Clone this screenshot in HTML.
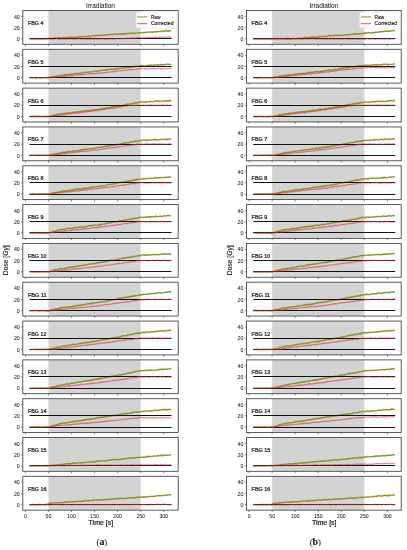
<!DOCTYPE html>
<html><head><meta charset="utf-8"><style>
html,body{margin:0;padding:0;background:#fff;}
body{width:407px;height:550px;overflow:hidden;}
svg{display:block;}
text{font-family:"Liberation Sans",sans-serif;fill:#1a1a1a;stroke:#1a1a1a;stroke-width:0.14px;}
svg{will-change:transform;}
</style></head><body>
<svg width="407" height="550" viewBox="0 0 407 550">
<rect width="407" height="550" fill="#fff"/>
<rect x="48.45" y="10.5" width="92.2" height="33.8" fill="#d3d3d3"/>
<path d="M29.55 38.86L30.29 38.72L31.02 38.95L31.76 38.73L32.5 38.86L33.24 38.85L33.97 38.6L34.71 38.79L35.45 38.8L36.19 38.71L36.93 38.65L37.66 38.77L38.4 38.7L39.14 38.86L39.88 38.79L40.61 38.79L41.35 38.88L42.09 38.89L42.83 38.89L43.56 38.73L44.3 38.69L45.04 38.66L45.78 38.57L46.51 38.84L47.25 38.51L47.99 38.39L48.73 38.23L49.46 38.54L50.2 38.4L50.94 38.72L51.68 38.33L52.41 38.67L53.15 38.45L53.89 37.85L54.63 38.57L55.37 37.86L56.1 37.94L56.84 38.05L57.58 37.85L58.32 37.8L59.05 37.65L59.79 37.91L60.53 37.96L61.27 37.94L62 37.99L62.74 37.75L63.48 37.89L64.22 37.44L64.95 38.07L65.69 37.87L66.43 37.8L67.17 38.03L67.9 37.1L68.64 38.04L69.38 37.53L70.12 37.56L70.85 37.04L71.59 37.83L72.33 37.11L73.07 37.48L73.8 37.32L74.54 37.41L75.28 37.08L76.02 37.46L76.76 37.19L77.49 37.06L78.23 36.69L78.97 37.62L79.71 36.69L80.44 36.76L81.18 37.02L81.92 36.78L82.66 36.9L83.39 36.36L84.13 36.63L84.87 36.66L85.61 36.6L86.34 36.54L87.08 36.47L87.82 36.57L88.56 35.85L89.29 36.68L90.03 37.01L90.77 36.16L91.51 36.11L92.24 35.93L92.98 36L93.72 35.93L94.46 35.76L95.2 35.55L95.93 35.81L96.67 35.74L97.41 35.15L98.15 35.41L98.88 35.69L99.62 34.89L100.36 35.18L101.1 35.42L101.83 35.5L102.57 35.1L103.31 35.3L104.05 35.29L104.78 35.28L105.52 35.04L106.26 34.62L107 34.91L107.73 35.08L108.47 34.54L109.21 34.62L109.95 34.38L110.68 34.26L111.42 34.53L112.16 34.48L112.9 34.41L113.64 34.61L114.37 34.16L115.11 33.96L115.85 34.19L116.59 34.23L117.32 34.2L118.06 34.27L118.8 34.23L119.54 34.1L120.27 34.15L121.01 34.02L121.75 34.23L122.49 33.75L123.22 33.78L123.96 34L124.7 34.22L125.44 33.66L126.17 33.36L126.91 33.73L127.65 33.63L128.39 33.61L129.12 33.29L129.86 33.6L130.6 33.13L131.34 33.38L132.08 33.06L132.81 33.21L133.55 33.23L134.29 33.47L135.03 33.24L135.76 33.1L136.5 32.85L137.24 32.9L137.98 33.07L138.71 32.78L139.45 32.6L140.19 32.82L140.93 32.83L141.66 32.77L142.4 32.45L143.14 32.47L143.88 32.75L144.61 32.4L145.35 32.55L146.09 32.56L146.83 32.06L147.56 32.11L148.3 32.41L149.04 32.18L149.78 32.03L150.52 32.24L151.25 32.07L151.99 31.85L152.73 32.35L153.47 31.83L154.2 31.68L154.94 31.69L155.68 32.06L156.42 31.63L157.15 31.85L157.89 31.48L158.63 31.42L159.37 31.46L160.1 31.63L160.84 31.54L161.58 31.17L162.32 31.51L163.05 31.15L163.79 31.1L164.53 31.23L165.27 30.58L166.01 31.05L166.74 30.53L167.48 31.42L168.22 31.42L168.96 30.65L169.69 30.68L170.43 30.84L171.17 30.73" fill="none" stroke="#878818" stroke-width="1.4" stroke-linejoin="round" stroke-opacity="0.9"/>
<line x1="29.55" y1="38.5" x2="171.54" y2="38.5" stroke="#111" stroke-width="1.15"/>
<path d="M29.55 39.05L30.29 38.93L31.02 38.97L31.76 38.89L32.5 38.78L33.24 38.87L33.97 38.84L34.71 38.94L35.45 38.92L36.19 38.86L36.93 38.9L37.66 38.75L38.4 38.96L39.14 38.69L39.88 38.98L40.61 38.78L41.35 38.96L42.09 38.72L42.83 38.87L43.56 38.85L44.3 38.81L45.04 38.95L45.78 38.99L46.51 39.29L47.25 38.65L47.99 39.03L48.73 39.01L49.46 38.9L50.2 38.5L50.94 39.24L51.68 38.85L52.41 38.98L53.15 38.79L53.89 39.25L54.63 38.98L55.37 38.74L56.1 38.6L56.84 38.59L57.58 39.07L58.32 38.89L59.05 38.93L59.79 39.18L60.53 39.19L61.27 38.76L62 38.86L62.74 38.94L63.48 38.67L64.22 39.11L64.95 38.81L65.69 38.91L66.43 38.93L67.17 38.82L67.9 38.88L68.64 38.87L69.38 38.87L70.12 38.54L70.85 38.98L71.59 38.72L72.33 38.8L73.07 38.99L73.8 38.77L74.54 39.1L75.28 38.7L76.02 39.09L76.76 39.03L77.49 38.87L78.23 38.77L78.97 38.75L79.71 38.76L80.44 38.98L81.18 39.12L81.92 38.83L82.66 38.88L83.39 39.13L84.13 38.75L84.87 38.9L85.61 39.13L86.34 38.86L87.08 39.21L87.82 39.12L88.56 38.87L89.29 39.25L90.03 38.94L90.77 39.22L91.51 38.8L92.24 39.09L92.98 38.92L93.72 39.25L94.46 39.02L95.2 38.77L95.93 38.87L96.67 39.32L97.41 38.78L98.15 38.78L98.88 39.03L99.62 38.68L100.36 39.17L101.1 38.98L101.83 38.74L102.57 38.71L103.31 38.71L104.05 39.18L104.78 39.32L105.52 38.89L106.26 39.25L107 39L107.73 39.22L108.47 38.76L109.21 38.82L109.95 38.87L110.68 38.97L111.42 38.97L112.16 39.04L112.9 38.9L113.64 38.9L114.37 38.83L115.11 38.97L115.85 38.48L116.59 38.76L117.32 38.51L118.06 38.49L118.8 38.89L119.54 39.02L120.27 38.41L121.01 38.7L121.75 38.57L122.49 38.6L123.22 38.5L123.96 38.72L124.7 38.48L125.44 38.51L126.17 38.39L126.91 38.82L127.65 38.16L128.39 38.22L129.12 38.6L129.86 38.37L130.6 38.18L131.34 38.03L132.08 38.12L132.81 37.82L133.55 38.05L134.29 38.22L135.03 38.13L135.76 37.81L136.5 38.05L137.24 37.73L137.98 37.66L138.71 37.71L139.45 37.59L140.19 37.79L140.93 37.73L141.66 37.83L142.4 37.82L143.14 37.99L143.88 37.77L144.61 37.85L145.35 37.9L146.09 37.57L146.83 37.49L147.56 37.63L148.3 37.27L149.04 37.34L149.78 37.3L150.52 37.61L151.25 37.76L151.99 37.34L152.73 37.37L153.47 37.27L154.2 37.31L154.94 37.13L155.68 37.41L156.42 37.21L157.15 37.5L157.89 37.76L158.63 37.37L159.37 36.97L160.1 37.57L160.84 37.02L161.58 37.34L162.32 37.27L163.05 37.16L163.79 37.11L164.53 37.32L165.27 37.09L166.01 37.01L166.74 36.91L167.48 37.2L168.22 36.73L168.96 36.64L169.69 36.52L170.43 37.24L171.17 36.93" fill="none" stroke="#e0303c" stroke-width="1.2" stroke-linejoin="round" stroke-opacity="0.6"/>
<rect x="22.8" y="10.5" width="155.4" height="33.8" fill="none" stroke="#4a4a4a" stroke-width="0.9"/>
<line x1="21.2" y1="38.87" x2="22.8" y2="38.87" stroke="#4a4a4a" stroke-width="0.7"/>
<text x="19.7" y="41.07" font-size="5.2" text-anchor="end" style="stroke-width:0.05px">0</text>
<line x1="21.2" y1="27.6" x2="22.8" y2="27.6" stroke="#4a4a4a" stroke-width="0.7"/>
<text x="19.7" y="29.8" font-size="5.2" text-anchor="end" style="stroke-width:0.05px">20</text>
<line x1="21.2" y1="16.33" x2="22.8" y2="16.33" stroke="#4a4a4a" stroke-width="0.7"/>
<text x="19.7" y="18.53" font-size="5.2" text-anchor="end" style="stroke-width:0.05px">40</text>
<line x1="25.4" y1="44.3" x2="25.4" y2="46.1" stroke="#4a4a4a" stroke-width="0.7"/>
<line x1="48.45" y1="44.3" x2="48.45" y2="46.1" stroke="#4a4a4a" stroke-width="0.7"/>
<line x1="71.5" y1="44.3" x2="71.5" y2="46.1" stroke="#4a4a4a" stroke-width="0.7"/>
<line x1="94.55" y1="44.3" x2="94.55" y2="46.1" stroke="#4a4a4a" stroke-width="0.7"/>
<line x1="117.6" y1="44.3" x2="117.6" y2="46.1" stroke="#4a4a4a" stroke-width="0.7"/>
<line x1="140.65" y1="44.3" x2="140.65" y2="46.1" stroke="#4a4a4a" stroke-width="0.7"/>
<line x1="163.7" y1="44.3" x2="163.7" y2="46.1" stroke="#4a4a4a" stroke-width="0.7"/>
<text x="27.9" y="25" font-size="5.7" textLength="15.6" lengthAdjust="spacingAndGlyphs" style="stroke-width:0.24px">FBG 4</text>
<rect x="48.45" y="49.32" width="92.2" height="33.8" fill="#d3d3d3"/>
<path d="M29.55 77.9L30.29 77.64L31.02 77.62L31.76 77.82L32.5 77.87L33.24 77.67L33.97 77.62L34.71 77.78L35.45 77.72L36.19 77.97L36.93 77.77L37.66 77.67L38.4 77.67L39.14 77.51L39.88 77.82L40.61 77.94L41.35 77.64L42.09 77.75L42.83 77.65L43.56 77.61L44.3 77.62L45.04 77.52L45.78 77.53L46.51 78.06L47.25 77.7L47.99 77.24L48.73 77.73L49.46 77.29L50.2 77.39L50.94 77.34L51.68 76.76L52.41 76.75L53.15 76.91L53.89 76.53L54.63 76.9L55.37 76.63L56.1 76.14L56.84 76.2L57.58 76.32L58.32 75.85L59.05 75.75L59.79 75.4L60.53 75.37L61.27 75.56L62 75.51L62.74 75.34L63.48 75.27L64.22 74.8L64.95 74.68L65.69 74.64L66.43 74.77L67.17 74.81L67.9 74.46L68.64 74.65L69.38 74.43L70.12 74.77L70.85 74.39L71.59 73.88L72.33 74.34L73.07 74.36L73.8 73.97L74.54 73.46L75.28 73.42L76.02 73.73L76.76 73.67L77.49 73.49L78.23 73.59L78.97 73.28L79.71 73.26L80.44 73.43L81.18 73.14L81.92 72.97L82.66 73.02L83.39 72.98L84.13 72.43L84.87 72.12L85.61 72.52L86.34 72.46L87.08 72.16L87.82 72.23L88.56 72.26L89.29 71.68L90.03 72.13L90.77 71.97L91.51 71.86L92.24 71.82L92.98 71.58L93.72 71.31L94.46 71.02L95.2 71.1L95.93 71.15L96.67 71.35L97.41 70.99L98.15 71.1L98.88 70.81L99.62 70.48L100.36 70.57L101.1 70.57L101.83 70.61L102.57 70.36L103.31 70.24L104.05 70.38L104.78 70.2L105.52 69.8L106.26 70.28L107 69.92L107.73 70L108.47 69.3L109.21 69.42L109.95 69.35L110.68 69.29L111.42 69.23L112.16 69.14L112.9 69.47L113.64 68.97L114.37 68.81L115.11 69.17L115.85 68.58L116.59 68.53L117.32 68.93L118.06 68.61L118.8 68.48L119.54 68.44L120.27 68.15L121.01 68.44L121.75 68.11L122.49 67.92L123.22 67.72L123.96 67.78L124.7 67.76L125.44 67.46L126.17 67.98L126.91 67.23L127.65 67.42L128.39 67.55L129.12 67.28L129.86 67.5L130.6 67.46L131.34 66.99L132.08 67L132.81 66.57L133.55 66.85L134.29 66.85L135.03 66.69L135.76 66L136.5 66.29L137.24 66.35L137.98 66.34L138.71 66.28L139.45 65.98L140.19 65.76L140.93 65.56L141.66 65.52L142.4 65.68L143.14 65.85L143.88 65.85L144.61 66.14L145.35 65.81L146.09 65.44L146.83 65.58L147.56 65.38L148.3 65.72L149.04 65.18L149.78 65.27L150.52 65.29L151.25 65.17L151.99 65.72L152.73 65.31L153.47 65.34L154.2 64.69L154.94 65.1L155.68 65.14L156.42 64.79L157.15 65.18L157.89 64.58L158.63 65.02L159.37 64.84L160.1 64.99L160.84 64.56L161.58 65.19L162.32 64.51L163.05 64.81L163.79 64.57L164.53 64.8L165.27 64.45L166.01 64.42L166.74 64.29L167.48 64.31L168.22 64.21L168.96 64.08L169.69 64.35L170.43 64.49L171.17 64.47" fill="none" stroke="#878818" stroke-width="1.4" stroke-linejoin="round" stroke-opacity="0.9"/>
<line x1="29.55" y1="77.5" x2="171.54" y2="77.5" stroke="#111" stroke-width="1.15"/>
<line x1="29.55" y1="66.5" x2="171.54" y2="66.5" stroke="#111" stroke-width="1.15"/>
<path d="M29.55 77.62L30.29 77.72L31.02 77.58L31.76 77.68L32.5 77.79L33.24 77.6L33.97 77.5L34.71 77.7L35.45 77.78L36.19 77.77L36.93 77.6L37.66 77.74L38.4 77.73L39.14 77.62L39.88 77.69L40.61 77.68L41.35 77.74L42.09 77.75L42.83 77.67L43.56 77.67L44.3 77.63L45.04 77.74L45.78 77.65L46.51 77.59L47.25 77.67L47.99 77.57L48.73 77.46L49.46 77.55L50.2 77.51L50.94 77.65L51.68 77.32L52.41 77.34L53.15 77.31L53.89 77.34L54.63 77L55.37 76.54L56.1 76.89L56.84 76.89L57.58 76.75L58.32 76.89L59.05 76.68L59.79 76.76L60.53 76.69L61.27 76.46L62 76.39L62.74 76.39L63.48 76.46L64.22 76.19L64.95 76.39L65.69 75.95L66.43 76.11L67.17 75.98L67.9 75.75L68.64 75.73L69.38 76.03L70.12 75.76L70.85 75.57L71.59 75.8L72.33 75.99L73.07 75.46L73.8 75.39L74.54 75.23L75.28 75.24L76.02 75.16L76.76 75.07L77.49 74.78L78.23 74.89L78.97 74.82L79.71 74.94L80.44 74.57L81.18 74.76L81.92 74.51L82.66 75.01L83.39 74.48L84.13 74.48L84.87 74.49L85.61 74.08L86.34 74.19L87.08 74.23L87.82 74.24L88.56 73.7L89.29 73.86L90.03 73.81L90.77 74.02L91.51 73.55L92.24 73.63L92.98 73.73L93.72 73.63L94.46 73.86L95.2 73.35L95.93 73.63L96.67 73.18L97.41 73.37L98.15 73.34L98.88 73.08L99.62 73.03L100.36 73.22L101.1 72.93L101.83 72.72L102.57 72.81L103.31 72.94L104.05 72.65L104.78 72.71L105.52 72.56L106.26 72.35L107 72.29L107.73 72.25L108.47 72.45L109.21 71.98L109.95 72.01L110.68 71.97L111.42 71.78L112.16 71.35L112.9 71.91L113.64 71.89L114.37 71.34L115.11 71.57L115.85 71.08L116.59 71.45L117.32 71.27L118.06 70.94L118.8 70.84L119.54 70.85L120.27 70.77L121.01 70.81L121.75 70.79L122.49 70.67L123.22 70.3L123.96 70.33L124.7 70.38L125.44 70.25L126.17 70.07L126.91 69.92L127.65 70.1L128.39 70.01L129.12 69.85L129.86 69.32L130.6 69.71L131.34 69.43L132.08 69.9L132.81 69.35L133.55 69.72L134.29 69.57L135.03 69.41L135.76 69.23L136.5 69.09L137.24 68.97L137.98 68.92L138.71 68.97L139.45 68.3L140.19 68.65L140.93 68.59L141.66 68.33L142.4 68.53L143.14 68.6L143.88 68.65L144.61 68.34L145.35 68.91L146.09 68.89L146.83 68.67L147.56 69.09L148.3 68.84L149.04 68.46L149.78 68.77L150.52 68.64L151.25 68.53L151.99 68.89L152.73 68.61L153.47 68.78L154.2 68.87L154.94 68.7L155.68 68.66L156.42 68.72L157.15 68.77L157.89 68.45L158.63 68.4L159.37 68.52L160.1 68.64L160.84 68.82L161.58 68.77L162.32 68.83L163.05 68.57L163.79 68.42L164.53 68.42L165.27 68.6L166.01 68.67L166.74 68.55L167.48 68.56L168.22 68.46L168.96 68.29L169.69 68.7L170.43 68.16L171.17 68.97" fill="none" stroke="#e0303c" stroke-width="1.2" stroke-linejoin="round" stroke-opacity="0.6"/>
<rect x="22.8" y="49.32" width="155.4" height="33.8" fill="none" stroke="#4a4a4a" stroke-width="0.9"/>
<line x1="21.2" y1="77.69" x2="22.8" y2="77.69" stroke="#4a4a4a" stroke-width="0.7"/>
<text x="19.7" y="79.89" font-size="5.2" text-anchor="end" style="stroke-width:0.05px">0</text>
<line x1="21.2" y1="66.42" x2="22.8" y2="66.42" stroke="#4a4a4a" stroke-width="0.7"/>
<text x="19.7" y="68.62" font-size="5.2" text-anchor="end" style="stroke-width:0.05px">20</text>
<line x1="21.2" y1="55.15" x2="22.8" y2="55.15" stroke="#4a4a4a" stroke-width="0.7"/>
<text x="19.7" y="57.35" font-size="5.2" text-anchor="end" style="stroke-width:0.05px">40</text>
<line x1="25.4" y1="83.12" x2="25.4" y2="84.92" stroke="#4a4a4a" stroke-width="0.7"/>
<line x1="48.45" y1="83.12" x2="48.45" y2="84.92" stroke="#4a4a4a" stroke-width="0.7"/>
<line x1="71.5" y1="83.12" x2="71.5" y2="84.92" stroke="#4a4a4a" stroke-width="0.7"/>
<line x1="94.55" y1="83.12" x2="94.55" y2="84.92" stroke="#4a4a4a" stroke-width="0.7"/>
<line x1="117.6" y1="83.12" x2="117.6" y2="84.92" stroke="#4a4a4a" stroke-width="0.7"/>
<line x1="140.65" y1="83.12" x2="140.65" y2="84.92" stroke="#4a4a4a" stroke-width="0.7"/>
<line x1="163.7" y1="83.12" x2="163.7" y2="84.92" stroke="#4a4a4a" stroke-width="0.7"/>
<text x="27.9" y="63.82" font-size="5.7" textLength="15.6" lengthAdjust="spacingAndGlyphs" style="stroke-width:0.24px">FBG 5</text>
<rect x="48.45" y="88.14" width="92.2" height="33.8" fill="#d3d3d3"/>
<path d="M29.55 116.71L30.29 116.68L31.02 116.62L31.76 116.53L32.5 116.28L33.24 116.58L33.97 116.38L34.71 116.55L35.45 116.49L36.19 116.62L36.93 116.25L37.66 116.51L38.4 116.58L39.14 116.25L39.88 116.49L40.61 116.46L41.35 116.52L42.09 116.6L42.83 116.67L43.56 116.53L44.3 116.33L45.04 116.46L45.78 116.53L46.51 116.27L47.25 116.71L47.99 116.2L48.73 116.45L49.46 116.47L50.2 115.98L50.94 115.86L51.68 115.89L52.41 115.61L53.15 115.28L53.89 115.02L54.63 115.37L55.37 115.61L56.1 114.4L56.84 114.76L57.58 114.64L58.32 114.29L59.05 114.32L59.79 113.84L60.53 114.24L61.27 113.92L62 114.06L62.74 113.35L63.48 113.66L64.22 113.27L64.95 113.12L65.69 113.6L66.43 113.3L67.17 113L67.9 113.06L68.64 113.01L69.38 112.7L70.12 112.6L70.85 112.85L71.59 112.66L72.33 112.39L73.07 112.4L73.8 112.33L74.54 112.52L75.28 111.79L76.02 112.14L76.76 111.94L77.49 111.92L78.23 111.81L78.97 111.7L79.71 111.83L80.44 111.47L81.18 111.2L81.92 111.29L82.66 111.13L83.39 111.09L84.13 111.1L84.87 110.62L85.61 111.09L86.34 110.76L87.08 110.52L87.82 110.6L88.56 110.81L89.29 110.73L90.03 110.05L90.77 110.52L91.51 110.22L92.24 110.01L92.98 110.02L93.72 110.35L94.46 110.29L95.2 109.8L95.93 109.86L96.67 109.66L97.41 109.49L98.15 109.38L98.88 109.63L99.62 109.59L100.36 108.88L101.1 109.1L101.83 109.1L102.57 109.15L103.31 108.46L104.05 108.73L104.78 108.56L105.52 108.06L106.26 108L107 107.81L107.73 108.1L108.47 108.33L109.21 107.78L109.95 107.5L110.68 107.45L111.42 106.98L112.16 106.97L112.9 107.15L113.64 106.67L114.37 106.7L115.11 106.65L115.85 106.16L116.59 106.66L117.32 105.92L118.06 105.78L118.8 106.36L119.54 105.81L120.27 105.68L121.01 105.77L121.75 105.52L122.49 105.44L123.22 105.12L123.96 105.13L124.7 105.36L125.44 104.48L126.17 104.42L126.91 104.68L127.65 104.17L128.39 103.79L129.12 104.46L129.86 104.08L130.6 103.97L131.34 103.6L132.08 103.67L132.81 103.79L133.55 103.06L134.29 103.29L135.03 102.93L135.76 102.45L136.5 103L137.24 102.8L137.98 102.38L138.71 102.48L139.45 102.21L140.19 102.2L140.93 101.53L141.66 101.99L142.4 102.02L143.14 102.03L143.88 101.94L144.61 102.36L145.35 102.02L146.09 101.75L146.83 102.16L147.56 101.84L148.3 101.84L149.04 101.9L149.78 101.19L150.52 101.55L151.25 101.61L151.99 101.82L152.73 101.59L153.47 101.64L154.2 101.56L154.94 101.46L155.68 100.91L156.42 101.14L157.15 101.02L157.89 101.06L158.63 100.7L159.37 101.45L160.1 101.56L160.84 101.19L161.58 101.14L162.32 101.16L163.05 101.27L163.79 100.94L164.53 100.67L165.27 100.98L166.01 101.04L166.74 100.69L167.48 100.99L168.22 100.97L168.96 100.78L169.69 101.33L170.43 100.36L171.17 100.77" fill="none" stroke="#878818" stroke-width="1.4" stroke-linejoin="round" stroke-opacity="0.9"/>
<line x1="29.55" y1="116.5" x2="171.54" y2="116.5" stroke="#111" stroke-width="1.15"/>
<line x1="29.55" y1="105.5" x2="171.54" y2="105.5" stroke="#111" stroke-width="1.15"/>
<path d="M29.55 116.46L30.29 116.48L31.02 116.47L31.76 116.64L32.5 116.33L33.24 116.45L33.97 116.48L34.71 116.2L35.45 116.63L36.19 116.43L36.93 116.52L37.66 116.65L38.4 116.31L39.14 116.66L39.88 116.49L40.61 116.51L41.35 116.49L42.09 116.6L42.83 116.37L43.56 116.48L44.3 116.63L45.04 116.63L45.78 116.48L46.51 116.73L47.25 116.42L47.99 116.44L48.73 116.59L49.46 116.77L50.2 116.57L50.94 116.15L51.68 116.24L52.41 115.69L53.15 116.06L53.89 115.82L54.63 115.68L55.37 115.71L56.1 115.58L56.84 115.36L57.58 115.51L58.32 115.33L59.05 115.38L59.79 114.84L60.53 115.1L61.27 114.88L62 115.53L62.74 114.94L63.48 114.97L64.22 114.65L64.95 114.65L65.69 114.67L66.43 114.42L67.17 114.11L67.9 113.96L68.64 114.18L69.38 113.77L70.12 114.01L70.85 113.66L71.59 113.86L72.33 113.39L73.07 113.04L73.8 113.46L74.54 113.06L75.28 113.49L76.02 113.24L76.76 112.49L77.49 112.93L78.23 112.72L78.97 113.05L79.71 112.63L80.44 112.69L81.18 112.2L81.92 112.44L82.66 111.74L83.39 112.36L84.13 111.99L84.87 112.35L85.61 111.94L86.34 111.52L87.08 111.69L87.82 111.82L88.56 111.37L89.29 111.19L90.03 111.19L90.77 110.99L91.51 111.37L92.24 110.63L92.98 110.75L93.72 111.21L94.46 110.33L95.2 110.7L95.93 110.4L96.67 110.8L97.41 110.44L98.15 110.58L98.88 109.95L99.62 110.06L100.36 110.09L101.1 109.87L101.83 109.46L102.57 109.73L103.31 109.35L104.05 109.58L104.78 109.57L105.52 109.23L106.26 109.07L107 108.87L107.73 108.61L108.47 108.77L109.21 108.65L109.95 108.31L110.68 108.27L111.42 108.25L112.16 108.09L112.9 108.45L113.64 108.02L114.37 108.12L115.11 107.76L115.85 107.4L116.59 107.8L117.32 107.18L118.06 107.36L118.8 107.18L119.54 107.12L120.27 106.77L121.01 106.94L121.75 107.1L122.49 106.52L123.22 106.5L123.96 106.24L124.7 106.13L125.44 106.38L126.17 105.99L126.91 105.89L127.65 105.82L128.39 105.68L129.12 105.52L129.86 105.58L130.6 105.39L131.34 105.06L132.08 105.45L132.81 105.26L133.55 105.44L134.29 105.45L135.03 105.32L135.76 105.21L136.5 104.94L137.24 105.28L137.98 105.06L138.71 105.13L139.45 105.23L140.19 105.85L140.93 105.22L141.66 105.23L142.4 105.44L143.14 105.21L143.88 104.95L144.61 105.47L145.35 105.34L146.09 105.06L146.83 105.6L147.56 105.44L148.3 105.18L149.04 105.05L149.78 105L150.52 105.09L151.25 104.79L151.99 105.16L152.73 105.49L153.47 105.28L154.2 105.12L154.94 105.17L155.68 105.62L156.42 105.16L157.15 105.4L157.89 105.28L158.63 104.95L159.37 105.27L160.1 105.37L160.84 105.26L161.58 105.37L162.32 104.84L163.05 105.08L163.79 105.06L164.53 105.37L165.27 105.37L166.01 105.19L166.74 105.67L167.48 105.04L168.22 105.49L168.96 105.22L169.69 105.17L170.43 105.4L171.17 105.17" fill="none" stroke="#e0303c" stroke-width="1.2" stroke-linejoin="round" stroke-opacity="0.6"/>
<rect x="22.8" y="88.14" width="155.4" height="33.8" fill="none" stroke="#4a4a4a" stroke-width="0.9"/>
<line x1="21.2" y1="116.51" x2="22.8" y2="116.51" stroke="#4a4a4a" stroke-width="0.7"/>
<text x="19.7" y="118.71" font-size="5.2" text-anchor="end" style="stroke-width:0.05px">0</text>
<line x1="21.2" y1="105.24" x2="22.8" y2="105.24" stroke="#4a4a4a" stroke-width="0.7"/>
<text x="19.7" y="107.44" font-size="5.2" text-anchor="end" style="stroke-width:0.05px">20</text>
<line x1="21.2" y1="93.97" x2="22.8" y2="93.97" stroke="#4a4a4a" stroke-width="0.7"/>
<text x="19.7" y="96.17" font-size="5.2" text-anchor="end" style="stroke-width:0.05px">40</text>
<line x1="25.4" y1="121.94" x2="25.4" y2="123.74" stroke="#4a4a4a" stroke-width="0.7"/>
<line x1="48.45" y1="121.94" x2="48.45" y2="123.74" stroke="#4a4a4a" stroke-width="0.7"/>
<line x1="71.5" y1="121.94" x2="71.5" y2="123.74" stroke="#4a4a4a" stroke-width="0.7"/>
<line x1="94.55" y1="121.94" x2="94.55" y2="123.74" stroke="#4a4a4a" stroke-width="0.7"/>
<line x1="117.6" y1="121.94" x2="117.6" y2="123.74" stroke="#4a4a4a" stroke-width="0.7"/>
<line x1="140.65" y1="121.94" x2="140.65" y2="123.74" stroke="#4a4a4a" stroke-width="0.7"/>
<line x1="163.7" y1="121.94" x2="163.7" y2="123.74" stroke="#4a4a4a" stroke-width="0.7"/>
<text x="27.9" y="102.64" font-size="5.7" textLength="15.6" lengthAdjust="spacingAndGlyphs" style="stroke-width:0.24px">FBG 6</text>
<rect x="48.45" y="126.96" width="92.2" height="33.8" fill="#d3d3d3"/>
<path d="M29.55 155.25L30.29 155.11L31.02 155.28L31.76 155.12L32.5 155.27L33.24 155.35L33.97 155.23L34.71 155.39L35.45 155.31L36.19 155.26L36.93 155.2L37.66 155.3L38.4 155.49L39.14 155.18L39.88 155.31L40.61 155.36L41.35 155.42L42.09 155.26L42.83 155.29L43.56 155.25L44.3 155.34L45.04 155.15L45.78 155.36L46.51 155.23L47.25 155.28L47.99 155.09L48.73 155.42L49.46 155.18L50.2 155.01L50.94 154.95L51.68 154.8L52.41 154.76L53.15 154.17L53.89 153.85L54.63 154.25L55.37 153.7L56.1 153.98L56.84 153.75L57.58 153.48L58.32 153.23L59.05 153L59.79 153.38L60.53 153.13L61.27 152.71L62 152.69L62.74 152.05L63.48 152.49L64.22 152.48L64.95 151.96L65.69 152.73L66.43 152.45L67.17 151.32L67.9 151.97L68.64 151.72L69.38 151.68L70.12 151.73L70.85 151.47L71.59 151.63L72.33 151.02L73.07 150.96L73.8 150.88L74.54 151.14L75.28 151.27L76.02 150.85L76.76 150.88L77.49 150.45L78.23 150.8L78.97 150.55L79.71 150.21L80.44 150.04L81.18 150.02L81.92 150.22L82.66 149.99L83.39 149.29L84.13 149.43L84.87 149.73L85.61 149.01L86.34 149.37L87.08 149.24L87.82 149.33L88.56 148.7L89.29 148.92L90.03 148.86L90.77 148.95L91.51 148.93L92.24 148.5L92.98 148.44L93.72 148L94.46 148.45L95.2 148.23L95.93 147.82L96.67 147.76L97.41 148L98.15 147.42L98.88 147.54L99.62 147.33L100.36 147.32L101.1 147.05L101.83 147.24L102.57 147.06L103.31 146.64L104.05 146.67L104.78 146.55L105.52 146.24L106.26 146.32L107 146.15L107.73 146.61L108.47 146.1L109.21 145.67L109.95 145.93L110.68 145.67L111.42 145.42L112.16 145.37L112.9 145.02L113.64 144.98L114.37 145L115.11 144.58L115.85 144.78L116.59 144.73L117.32 144.37L118.06 144.17L118.8 144.22L119.54 144.3L120.27 144.04L121.01 143.75L121.75 143.52L122.49 143.14L123.22 143.45L123.96 143.33L124.7 143.64L125.44 142.74L126.17 142.69L126.91 142.77L127.65 142.8L128.39 143.1L129.12 142.22L129.86 142.43L130.6 141.79L131.34 141.83L132.08 141.58L132.81 141.77L133.55 141.35L134.29 141.8L135.03 141.03L135.76 141.23L136.5 141.36L137.24 141.06L137.98 141.06L138.71 140.65L139.45 140.75L140.19 140.74L140.93 140.5L141.66 140.44L142.4 140.31L143.14 140.16L143.88 140L144.61 140.16L145.35 139.84L146.09 140.74L146.83 140.16L147.56 139.9L148.3 140.37L149.04 140.09L149.78 139.96L150.52 140.32L151.25 140.07L151.99 139.77L152.73 139.94L153.47 139.49L154.2 139.27L154.94 139.78L155.68 139.99L156.42 139.71L157.15 139.79L157.89 139.95L158.63 139.68L159.37 139.66L160.1 139.61L160.84 139.28L161.58 139.22L162.32 139.33L163.05 139.47L163.79 139.26L164.53 139.31L165.27 139.23L166.01 139.47L166.74 139.91L167.48 138.98L168.22 139.28L168.96 139.22L169.69 139.08L170.43 139.06L171.17 139.08" fill="none" stroke="#878818" stroke-width="1.4" stroke-linejoin="round" stroke-opacity="0.9"/>
<line x1="29.55" y1="155.5" x2="171.54" y2="155.5" stroke="#111" stroke-width="1.15"/>
<line x1="29.55" y1="144.5" x2="171.54" y2="144.5" stroke="#111" stroke-width="1.15"/>
<path d="M29.55 155.18L30.29 155.31L31.02 155.3L31.76 155.41L32.5 155.34L33.24 155.28L33.97 155.33L34.71 155.3L35.45 155.42L36.19 155.29L36.93 155.43L37.66 155.37L38.4 155.4L39.14 155.31L39.88 155.22L40.61 155.3L41.35 155.41L42.09 155.31L42.83 155.23L43.56 155.26L44.3 155.28L45.04 155.44L45.78 155.38L46.51 155.46L47.25 155.42L47.99 155.28L48.73 155.29L49.46 155.29L50.2 155.04L50.94 155.21L51.68 155.06L52.41 154.9L53.15 155.11L53.89 154.94L54.63 154.97L55.37 154.82L56.1 154.57L56.84 154.49L57.58 154.32L58.32 154.25L59.05 154.46L59.79 153.8L60.53 153.82L61.27 154.24L62 154.05L62.74 153.92L63.48 153.7L64.22 153.54L64.95 153.57L65.69 153.99L66.43 152.84L67.17 153.15L67.9 153.07L68.64 153.29L69.38 153.04L70.12 152.8L70.85 152.99L71.59 152.58L72.33 152.71L73.07 152.33L73.8 152.54L74.54 152.18L75.28 152.7L76.02 152.02L76.76 152.13L77.49 152.2L78.23 151.83L78.97 152.01L79.71 151.71L80.44 151.6L81.18 151.5L81.92 151.19L82.66 151.27L83.39 150.96L84.13 151.23L84.87 151.25L85.61 151.12L86.34 151.12L87.08 151.27L87.82 150.91L88.56 151.09L89.29 150.83L90.03 150.75L90.77 150.71L91.51 150.73L92.24 150.41L92.98 150.35L93.72 149.99L94.46 150.05L95.2 149.91L95.93 150.1L96.67 149.98L97.41 150.08L98.15 149.92L98.88 149.53L99.62 149.61L100.36 149.49L101.1 149.47L101.83 148.95L102.57 149.16L103.31 148.82L104.05 148.95L104.78 148.65L105.52 148.92L106.26 148.89L107 148.31L107.73 148.48L108.47 148.26L109.21 148.04L109.95 147.97L110.68 147.94L111.42 148.13L112.16 147.92L112.9 147.68L113.64 147.45L114.37 147.37L115.11 147.3L115.85 147.41L116.59 147.16L117.32 146.86L118.06 147.12L118.8 146.95L119.54 146.56L120.27 146.32L121.01 146.45L121.75 146.42L122.49 146.5L123.22 146.24L123.96 146.26L124.7 145.98L125.44 145.76L126.17 145.7L126.91 145.43L127.65 145.78L128.39 145.72L129.12 145.11L129.86 145.06L130.6 145.35L131.34 145.03L132.08 145.16L132.81 144.85L133.55 144.68L134.29 144.45L135.03 144.72L135.76 144.68L136.5 144.21L137.24 144.28L137.98 143.84L138.71 144.28L139.45 144.19L140.19 144.59L140.93 143.84L141.66 143.8L142.4 143.98L143.14 144.12L143.88 144.46L144.61 144.33L145.35 144.16L146.09 143.69L146.83 143.88L147.56 144.18L148.3 143.98L149.04 143.95L149.78 143.96L150.52 144.24L151.25 144.15L151.99 143.86L152.73 143.92L153.47 144.13L154.2 143.58L154.94 144L155.68 144.14L156.42 143.88L157.15 143.9L157.89 144.08L158.63 143.71L159.37 143.85L160.1 144.05L160.84 143.92L161.58 143.93L162.32 144.11L163.05 143.92L163.79 144.16L164.53 144.11L165.27 143.93L166.01 144.3L166.74 144.13L167.48 144.25L168.22 143.92L168.96 144.17L169.69 143.7L170.43 143.76L171.17 144.19" fill="none" stroke="#e0303c" stroke-width="1.2" stroke-linejoin="round" stroke-opacity="0.6"/>
<rect x="22.8" y="126.96" width="155.4" height="33.8" fill="none" stroke="#4a4a4a" stroke-width="0.9"/>
<line x1="21.2" y1="155.33" x2="22.8" y2="155.33" stroke="#4a4a4a" stroke-width="0.7"/>
<text x="19.7" y="157.53" font-size="5.2" text-anchor="end" style="stroke-width:0.05px">0</text>
<line x1="21.2" y1="144.06" x2="22.8" y2="144.06" stroke="#4a4a4a" stroke-width="0.7"/>
<text x="19.7" y="146.26" font-size="5.2" text-anchor="end" style="stroke-width:0.05px">20</text>
<line x1="21.2" y1="132.79" x2="22.8" y2="132.79" stroke="#4a4a4a" stroke-width="0.7"/>
<text x="19.7" y="134.99" font-size="5.2" text-anchor="end" style="stroke-width:0.05px">40</text>
<line x1="25.4" y1="160.76" x2="25.4" y2="162.56" stroke="#4a4a4a" stroke-width="0.7"/>
<line x1="48.45" y1="160.76" x2="48.45" y2="162.56" stroke="#4a4a4a" stroke-width="0.7"/>
<line x1="71.5" y1="160.76" x2="71.5" y2="162.56" stroke="#4a4a4a" stroke-width="0.7"/>
<line x1="94.55" y1="160.76" x2="94.55" y2="162.56" stroke="#4a4a4a" stroke-width="0.7"/>
<line x1="117.6" y1="160.76" x2="117.6" y2="162.56" stroke="#4a4a4a" stroke-width="0.7"/>
<line x1="140.65" y1="160.76" x2="140.65" y2="162.56" stroke="#4a4a4a" stroke-width="0.7"/>
<line x1="163.7" y1="160.76" x2="163.7" y2="162.56" stroke="#4a4a4a" stroke-width="0.7"/>
<text x="27.9" y="141.46" font-size="5.7" textLength="15.6" lengthAdjust="spacingAndGlyphs" style="stroke-width:0.24px">FBG 7</text>
<rect x="48.45" y="165.78" width="92.2" height="33.8" fill="#d3d3d3"/>
<path d="M29.55 194.13L30.29 194.19L31.02 194.15L31.76 194.07L32.5 193.98L33.24 193.9L33.97 193.94L34.71 194.29L35.45 194.2L36.19 194.17L36.93 194.18L37.66 194.13L38.4 194.07L39.14 194.2L39.88 194.21L40.61 193.88L41.35 194.07L42.09 193.9L42.83 194.21L43.56 193.99L44.3 193.96L45.04 194L45.78 194.23L46.51 194.02L47.25 194.32L47.99 194.4L48.73 194.09L49.46 193.81L50.2 193.81L50.94 193.63L51.68 193.31L52.41 193.44L53.15 193.04L53.89 192.8L54.63 192.67L55.37 192.53L56.1 192.72L56.84 192.4L57.58 192.28L58.32 191.86L59.05 192.26L59.79 191.67L60.53 191.95L61.27 191.35L62 191.51L62.74 191.28L63.48 190.98L64.22 190.71L64.95 191.21L65.69 190.87L66.43 191.23L67.17 190.74L67.9 190.75L68.64 190.35L69.38 190.42L70.12 190.27L70.85 190.44L71.59 190.17L72.33 190.25L73.07 189.89L73.8 190.15L74.54 189.64L75.28 189.35L76.02 188.91L76.76 189.06L77.49 189L78.23 189.02L78.97 188.74L79.71 189.01L80.44 188.81L81.18 189.22L81.92 188.81L82.66 188.34L83.39 188.88L84.13 188.33L84.87 188.31L85.61 188.28L86.34 188.03L87.08 188L87.82 188.15L88.56 187.82L89.29 188.11L90.03 187.27L90.77 187.51L91.51 187.21L92.24 187.51L92.98 186.79L93.72 186.88L94.46 186.93L95.2 186.86L95.93 186.72L96.67 186.87L97.41 186.64L98.15 186.56L98.88 186.32L99.62 185.94L100.36 185.89L101.1 185.96L101.83 185.74L102.57 185.81L103.31 185.72L104.05 185.84L104.78 185.63L105.52 185.48L106.26 185.1L107 184.99L107.73 184.72L108.47 184.42L109.21 184.4L109.95 184.45L110.68 184.38L111.42 184.21L112.16 183.88L112.9 184.08L113.64 184.08L114.37 183.66L115.11 183.24L115.85 183.07L116.59 183.08L117.32 183.51L118.06 182.98L118.8 182.65L119.54 182.43L120.27 182.13L121.01 182.62L121.75 182.19L122.49 182.49L123.22 182.06L123.96 181.96L124.7 181.56L125.44 181.57L126.17 181.86L126.91 181.37L127.65 181.12L128.39 180.75L129.12 181.1L129.86 181L130.6 180.8L131.34 180.31L132.08 180.47L132.81 180.25L133.55 180.04L134.29 180.19L135.03 179.63L135.76 180.1L136.5 179.19L137.24 179.62L137.98 179.54L138.71 179.37L139.45 179.33L140.19 179.13L140.93 179.07L141.66 179.1L142.4 178.84L143.14 178.68L143.88 178.83L144.61 178.62L145.35 178.8L146.09 178.51L146.83 178.59L147.56 178.72L148.3 178.4L149.04 178.42L149.78 178.48L150.52 178.3L151.25 178.12L151.99 178.47L152.73 178.26L153.47 177.96L154.2 178.05L154.94 177.83L155.68 177.42L156.42 178.2L157.15 177.79L157.89 177.9L158.63 177.46L159.37 177.6L160.1 177.99L160.84 177.4L161.58 177.59L162.32 177.61L163.05 177.49L163.79 177.4L164.53 177.6L165.27 177.44L166.01 177.01L166.74 177.49L167.48 177.35L168.22 177L168.96 177.34L169.69 177.13L170.43 176.97L171.17 177.19" fill="none" stroke="#878818" stroke-width="1.4" stroke-linejoin="round" stroke-opacity="0.9"/>
<line x1="29.55" y1="194.5" x2="171.54" y2="194.5" stroke="#111" stroke-width="1.15"/>
<line x1="29.55" y1="182.5" x2="171.54" y2="182.5" stroke="#111" stroke-width="1.15"/>
<path d="M29.55 194.18L30.29 194.24L31.02 194.17L31.76 194.12L32.5 194.15L33.24 194.12L33.97 194.11L34.71 194.07L35.45 194.25L36.19 194.14L36.93 193.99L37.66 194.17L38.4 194.17L39.14 194.15L39.88 194.22L40.61 194.09L41.35 194.15L42.09 194.16L42.83 194.07L43.56 194.03L44.3 194.29L45.04 194.2L45.78 194.17L46.51 194.42L47.25 194.01L47.99 193.73L48.73 193.95L49.46 193.77L50.2 194.31L50.94 193.92L51.68 194L52.41 193.49L53.15 193.57L53.89 193.49L54.63 193.27L55.37 193.12L56.1 192.85L56.84 192.81L57.58 192.8L58.32 193.21L59.05 192.55L59.79 192.69L60.53 192.92L61.27 192.51L62 192.51L62.74 192.4L63.48 192.11L64.22 192.48L64.95 192.01L65.69 191.82L66.43 192.2L67.17 191.62L67.9 191.95L68.64 191.88L69.38 191.47L70.12 191.58L70.85 191.86L71.59 191.54L72.33 191.2L73.07 191.36L73.8 191.26L74.54 191.09L75.28 191.01L76.02 191.06L76.76 191.03L77.49 190.68L78.23 190.45L78.97 191.1L79.71 190.44L80.44 190.25L81.18 190.54L81.92 190L82.66 190.5L83.39 189.94L84.13 189.72L84.87 189.66L85.61 190.4L86.34 189.79L87.08 189.92L87.82 189.56L88.56 189.28L89.29 189.4L90.03 189.08L90.77 189.65L91.51 189.4L92.24 189.26L92.98 188.94L93.72 188.76L94.46 189.08L95.2 189.02L95.93 188.58L96.67 188.93L97.41 188.48L98.15 188.67L98.88 188.45L99.62 187.93L100.36 188.28L101.1 188.12L101.83 188.18L102.57 187.81L103.31 187.52L104.05 187.59L104.78 187.87L105.52 187.43L106.26 187.09L107 187.49L107.73 187.22L108.47 187.27L109.21 187.1L109.95 187.08L110.68 187.04L111.42 186.58L112.16 186.58L112.9 186.89L113.64 186.57L114.37 186.4L115.11 186.37L115.85 186.02L116.59 185.99L117.32 185.77L118.06 186L118.8 185.78L119.54 185.62L120.27 185.5L121.01 185.39L121.75 185.37L122.49 185.14L123.22 184.69L123.96 185.05L124.7 185.13L125.44 184.64L126.17 184.77L126.91 184.33L127.65 184.18L128.39 183.95L129.12 184.15L129.86 184.41L130.6 183.66L131.34 183.68L132.08 183.51L132.81 183.64L133.55 183.62L134.29 183.45L135.03 183.71L135.76 183.05L136.5 183.26L137.24 183.16L137.98 182.86L138.71 183.05L139.45 182.72L140.19 183L140.93 182.41L141.66 182.63L142.4 182.74L143.14 182.81L143.88 182.87L144.61 182.98L145.35 183.26L146.09 182.99L146.83 183.03L147.56 182.98L148.3 182.86L149.04 183.25L149.78 183.12L150.52 183.01L151.25 182.97L151.99 182.7L152.73 182.35L153.47 182.91L154.2 182.75L154.94 182.88L155.68 182.83L156.42 182.53L157.15 182.84L157.89 182.77L158.63 182.87L159.37 183L160.1 182.66L160.84 182.91L161.58 182.59L162.32 183.1L163.05 182.79L163.79 182.55L164.53 183L165.27 182.81L166.01 182.59L166.74 182.79L167.48 183.04L168.22 182.94L168.96 182.82L169.69 182.99L170.43 182.96L171.17 182.85" fill="none" stroke="#e0303c" stroke-width="1.2" stroke-linejoin="round" stroke-opacity="0.6"/>
<rect x="22.8" y="165.78" width="155.4" height="33.8" fill="none" stroke="#4a4a4a" stroke-width="0.9"/>
<line x1="21.2" y1="194.15" x2="22.8" y2="194.15" stroke="#4a4a4a" stroke-width="0.7"/>
<text x="19.7" y="196.35" font-size="5.2" text-anchor="end" style="stroke-width:0.05px">0</text>
<line x1="21.2" y1="182.88" x2="22.8" y2="182.88" stroke="#4a4a4a" stroke-width="0.7"/>
<text x="19.7" y="185.08" font-size="5.2" text-anchor="end" style="stroke-width:0.05px">20</text>
<line x1="21.2" y1="171.61" x2="22.8" y2="171.61" stroke="#4a4a4a" stroke-width="0.7"/>
<text x="19.7" y="173.81" font-size="5.2" text-anchor="end" style="stroke-width:0.05px">40</text>
<line x1="25.4" y1="199.58" x2="25.4" y2="201.38" stroke="#4a4a4a" stroke-width="0.7"/>
<line x1="48.45" y1="199.58" x2="48.45" y2="201.38" stroke="#4a4a4a" stroke-width="0.7"/>
<line x1="71.5" y1="199.58" x2="71.5" y2="201.38" stroke="#4a4a4a" stroke-width="0.7"/>
<line x1="94.55" y1="199.58" x2="94.55" y2="201.38" stroke="#4a4a4a" stroke-width="0.7"/>
<line x1="117.6" y1="199.58" x2="117.6" y2="201.38" stroke="#4a4a4a" stroke-width="0.7"/>
<line x1="140.65" y1="199.58" x2="140.65" y2="201.38" stroke="#4a4a4a" stroke-width="0.7"/>
<line x1="163.7" y1="199.58" x2="163.7" y2="201.38" stroke="#4a4a4a" stroke-width="0.7"/>
<text x="27.9" y="180.28" font-size="5.7" textLength="15.6" lengthAdjust="spacingAndGlyphs" style="stroke-width:0.24px">FBG 8</text>
<rect x="48.45" y="204.6" width="92.2" height="33.8" fill="#d3d3d3"/>
<path d="M29.55 233.1L30.29 232.78L31.02 233.03L31.76 232.97L32.5 232.95L33.24 232.81L33.97 233.01L34.71 232.73L35.45 232.76L36.19 232.88L36.93 233.12L37.66 233.11L38.4 232.99L39.14 232.93L39.88 232.89L40.61 232.83L41.35 232.91L42.09 232.96L42.83 232.92L43.56 233.19L44.3 232.83L45.04 233.14L45.78 233.18L46.51 233.12L47.25 233.06L47.99 233.24L48.73 232.94L49.46 232.67L50.2 232.35L50.94 232.21L51.68 232.21L52.41 231.87L53.15 231.41L53.89 231.56L54.63 231.33L55.37 231.58L56.1 230.84L56.84 230.25L57.58 230.34L58.32 230.36L59.05 229.83L59.79 229.63L60.53 229.48L61.27 229.95L62 229.85L62.74 229.33L63.48 229.28L64.22 229.19L64.95 229.53L65.69 228.92L66.43 228.57L67.17 228.63L67.9 228.22L68.64 228.6L69.38 228.58L70.12 228.1L70.85 228.18L71.59 228.82L72.33 228.56L73.07 228.05L73.8 228.13L74.54 227.51L75.28 227.46L76.02 227.43L76.76 227.69L77.49 227.57L78.23 227.24L78.97 227.4L79.71 227.07L80.44 227.06L81.18 226.85L81.92 226.9L82.66 227L83.39 227.39L84.13 226.94L84.87 226.86L85.61 226.28L86.34 226.66L87.08 226.37L87.82 226.03L88.56 225.89L89.29 225.71L90.03 225.74L90.77 225.4L91.51 225.78L92.24 225.29L92.98 225.76L93.72 225.45L94.46 225.16L95.2 225.02L95.93 225.12L96.67 225.11L97.41 225.14L98.15 225.28L98.88 225.11L99.62 224.18L100.36 224.83L101.1 224.65L101.83 224.53L102.57 224.1L103.31 223.97L104.05 223.91L104.78 223.94L105.52 223.55L106.26 223.71L107 223.19L107.73 222.8L108.47 223.22L109.21 222.83L109.95 222.86L110.68 222.71L111.42 222.79L112.16 222.35L112.9 222.24L113.64 221.82L114.37 221.43L115.11 222.09L115.85 221.47L116.59 221.78L117.32 221.59L118.06 221.6L118.8 221.1L119.54 220.8L120.27 220.97L121.01 220.77L121.75 220.88L122.49 220.63L123.22 220.73L123.96 220.32L124.7 220.64L125.44 219.53L126.17 219.64L126.91 219.92L127.65 219.77L128.39 219.63L129.12 219.38L129.86 219.22L130.6 218.72L131.34 219.13L132.08 219.33L132.81 218.7L133.55 218.54L134.29 218.7L135.03 218.19L135.76 218.29L136.5 218.3L137.24 218.01L137.98 218.16L138.71 217.83L139.45 217.22L140.19 217.2L140.93 217.3L141.66 217.36L142.4 217.28L143.14 217.57L143.88 217.22L144.61 217.38L145.35 217.31L146.09 216.77L146.83 217.25L147.56 217.03L148.3 216.98L149.04 216.73L149.78 216.96L150.52 216.75L151.25 216.73L151.99 216.82L152.73 216.87L153.47 216.92L154.2 216.4L154.94 216.8L155.68 216.29L156.42 216.13L157.15 216.6L157.89 216.64L158.63 216.61L159.37 216.46L160.1 215.99L160.84 216.43L161.58 216.45L162.32 216.54L163.05 216.1L163.79 215.97L164.53 215.69L165.27 215.93L166.01 215.95L166.74 215.91L167.48 215.2L168.22 215.45L168.96 215.56L169.69 215.8L170.43 215.72L171.17 215.66" fill="none" stroke="#878818" stroke-width="1.4" stroke-linejoin="round" stroke-opacity="0.9"/>
<line x1="29.55" y1="232.5" x2="171.54" y2="232.5" stroke="#111" stroke-width="1.15"/>
<line x1="29.55" y1="221.5" x2="171.54" y2="221.5" stroke="#111" stroke-width="1.15"/>
<path d="M29.55 232.98L30.29 232.92L31.02 233.03L31.76 232.78L32.5 233.06L33.24 232.9L33.97 232.89L34.71 232.87L35.45 232.83L36.19 232.93L36.93 232.94L37.66 232.82L38.4 232.84L39.14 232.97L39.88 232.88L40.61 233.08L41.35 232.93L42.09 233.17L42.83 232.84L43.56 233.03L44.3 232.87L45.04 232.92L45.78 233.02L46.51 232.79L47.25 232.63L47.99 233.13L48.73 232.55L49.46 232.76L50.2 232.92L50.94 232.71L51.68 232.49L52.41 232.33L53.15 232.54L53.89 232.37L54.63 232.11L55.37 232.06L56.1 231.63L56.84 231.77L57.58 231.67L58.32 231.93L59.05 231.84L59.79 231.78L60.53 231.5L61.27 231.29L62 231L62.74 231.05L63.48 231.33L64.22 231.1L64.95 230.58L65.69 230.9L66.43 230.74L67.17 231.03L67.9 230.96L68.64 230.7L69.38 230.57L70.12 230.34L70.85 230.38L71.59 230.62L72.33 229.72L73.07 230.04L73.8 230.37L74.54 229.62L75.28 229.71L76.02 229.83L76.76 229.71L77.49 229.53L78.23 230.01L78.97 229.28L79.71 229.34L80.44 229.18L81.18 229.34L81.92 229.27L82.66 228.76L83.39 229.65L84.13 228.67L84.87 228.6L85.61 229.06L86.34 228.71L87.08 228.72L87.82 228.62L88.56 228.67L89.29 228.61L90.03 228.25L90.77 228.24L91.51 227.99L92.24 227.87L92.98 228.05L93.72 227.45L94.46 227.46L95.2 228.01L95.93 227.65L96.67 227.61L97.41 227.37L98.15 227.57L98.88 226.98L99.62 227.28L100.36 226.68L101.1 227.15L101.83 226.51L102.57 226.72L103.31 226.51L104.05 226.53L104.78 226.42L105.52 226.59L106.26 226.33L107 226.33L107.73 226.13L108.47 226.06L109.21 225.73L109.95 225.73L110.68 225.74L111.42 225.93L112.16 225.3L112.9 225.52L113.64 225.35L114.37 225.09L115.11 225.09L115.85 224.96L116.59 224.85L117.32 225.14L118.06 224.53L118.8 224.61L119.54 224.32L120.27 224.35L121.01 224.35L121.75 223.88L122.49 224.04L123.22 223.76L123.96 223.74L124.7 223.6L125.44 223.45L126.17 223.43L126.91 223.64L127.65 223.4L128.39 222.99L129.12 223.18L129.86 223.12L130.6 222.94L131.34 222.66L132.08 222.91L132.81 222.66L133.55 222.63L134.29 222.57L135.03 222.19L135.76 222.35L136.5 222.13L137.24 221.96L137.98 221.84L138.71 221.74L139.45 221.59L140.19 221.84L140.93 222.17L141.66 221.52L142.4 221.37L143.14 221.77L143.88 221.69L144.61 221.52L145.35 221.85L146.09 221.7L146.83 221.78L147.56 221.59L148.3 221.68L149.04 221.37L149.78 221.87L150.52 221.83L151.25 221.97L151.99 221.65L152.73 221.72L153.47 221.74L154.2 221.58L154.94 221.88L155.68 221.97L156.42 221.28L157.15 221.69L157.89 221.88L158.63 221.49L159.37 221.67L160.1 221.88L160.84 221.63L161.58 221.49L162.32 221.55L163.05 221.71L163.79 221.37L164.53 221.86L165.27 221.73L166.01 221.6L166.74 221.89L167.48 221.56L168.22 221.62L168.96 221.5L169.69 221.63L170.43 221.31L171.17 221.95" fill="none" stroke="#e0303c" stroke-width="1.2" stroke-linejoin="round" stroke-opacity="0.6"/>
<rect x="22.8" y="204.6" width="155.4" height="33.8" fill="none" stroke="#4a4a4a" stroke-width="0.9"/>
<line x1="21.2" y1="232.97" x2="22.8" y2="232.97" stroke="#4a4a4a" stroke-width="0.7"/>
<text x="19.7" y="235.17" font-size="5.2" text-anchor="end" style="stroke-width:0.05px">0</text>
<line x1="21.2" y1="221.7" x2="22.8" y2="221.7" stroke="#4a4a4a" stroke-width="0.7"/>
<text x="19.7" y="223.9" font-size="5.2" text-anchor="end" style="stroke-width:0.05px">20</text>
<line x1="21.2" y1="210.43" x2="22.8" y2="210.43" stroke="#4a4a4a" stroke-width="0.7"/>
<text x="19.7" y="212.63" font-size="5.2" text-anchor="end" style="stroke-width:0.05px">40</text>
<line x1="25.4" y1="238.4" x2="25.4" y2="240.2" stroke="#4a4a4a" stroke-width="0.7"/>
<line x1="48.45" y1="238.4" x2="48.45" y2="240.2" stroke="#4a4a4a" stroke-width="0.7"/>
<line x1="71.5" y1="238.4" x2="71.5" y2="240.2" stroke="#4a4a4a" stroke-width="0.7"/>
<line x1="94.55" y1="238.4" x2="94.55" y2="240.2" stroke="#4a4a4a" stroke-width="0.7"/>
<line x1="117.6" y1="238.4" x2="117.6" y2="240.2" stroke="#4a4a4a" stroke-width="0.7"/>
<line x1="140.65" y1="238.4" x2="140.65" y2="240.2" stroke="#4a4a4a" stroke-width="0.7"/>
<line x1="163.7" y1="238.4" x2="163.7" y2="240.2" stroke="#4a4a4a" stroke-width="0.7"/>
<text x="27.9" y="219.1" font-size="5.7" textLength="15.6" lengthAdjust="spacingAndGlyphs" style="stroke-width:0.24px">FBG 9</text>
<rect x="48.45" y="243.42" width="92.2" height="33.8" fill="#d3d3d3"/>
<path d="M29.55 271.82L30.29 271.84L31.02 271.78L31.76 271.71L32.5 271.9L33.24 271.67L33.97 271.66L34.71 271.77L35.45 271.93L36.19 271.71L36.93 271.73L37.66 271.89L38.4 271.86L39.14 271.84L39.88 271.94L40.61 271.74L41.35 271.66L42.09 271.74L42.83 271.86L43.56 271.79L44.3 271.79L45.04 271.58L45.78 271.83L46.51 271.67L47.25 271.85L47.99 271.52L48.73 271.88L49.46 271.4L50.2 271.41L50.94 271.01L51.68 271.27L52.41 270.79L53.15 270.34L53.89 270.24L54.63 270.44L55.37 269.44L56.1 269.73L56.84 269.7L57.58 269.54L58.32 269.47L59.05 268.74L59.79 268.61L60.53 268.44L61.27 268.87L62 268.95L62.74 268.9L63.48 268.63L64.22 268.31L64.95 268.33L65.69 268.33L66.43 267.73L67.17 267.88L67.9 267.54L68.64 267.23L69.38 267.56L70.12 267.38L70.85 266.87L71.59 267.37L72.33 267.03L73.07 267.06L73.8 266.74L74.54 266.71L75.28 266.42L76.02 266.45L76.76 265.97L77.49 266.29L78.23 266.02L78.97 265.74L79.71 265.97L80.44 265.8L81.18 265.57L81.92 265.52L82.66 265.13L83.39 265.36L84.13 265.41L84.87 264.82L85.61 265.03L86.34 264.88L87.08 264.68L87.82 264.25L88.56 264.21L89.29 264.23L90.03 264.1L90.77 264.13L91.51 263.54L92.24 263.58L92.98 263.88L93.72 263.37L94.46 263.76L95.2 263.53L95.93 263.38L96.67 262.76L97.41 262.55L98.15 262.87L98.88 262.88L99.62 262.34L100.36 262.63L101.1 262.02L101.83 262.45L102.57 261.89L103.31 262.15L104.05 261.45L104.78 261.68L105.52 261.72L106.26 261.42L107 261.85L107.73 261.16L108.47 260.9L109.21 260.38L109.95 261.02L110.68 260.38L111.42 260.23L112.16 260.22L112.9 260.32L113.64 260.08L114.37 260.17L115.11 259.79L115.85 259.98L116.59 259.7L117.32 259.43L118.06 259.52L118.8 259.47L119.54 259.07L120.27 258.85L121.01 258.64L121.75 258.56L122.49 258.15L123.22 258.4L123.96 257.96L124.7 258.35L125.44 257.84L126.17 257.69L126.91 257.31L127.65 257.73L128.39 257.04L129.12 257.35L129.86 257.29L130.6 257.43L131.34 256.72L132.08 256.92L132.81 256.47L133.55 256.49L134.29 256.22L135.03 256.25L135.76 256.29L136.5 256.1L137.24 255.87L137.98 255.63L138.71 255.77L139.45 255.26L140.19 255.79L140.93 255.59L141.66 255.1L142.4 255.14L143.14 254.72L143.88 254.9L144.61 255.32L145.35 255.3L146.09 255.01L146.83 254.99L147.56 254.77L148.3 255.02L149.04 255.02L149.78 254.99L150.52 254.79L151.25 254.93L151.99 254.73L152.73 254.49L153.47 254.66L154.2 254.83L154.94 254.42L155.68 254.33L156.42 254.66L157.15 254.51L157.89 254.75L158.63 254.58L159.37 254.56L160.1 254.58L160.84 254.37L161.58 253.75L162.32 253.89L163.05 254.21L163.79 253.97L164.53 254.01L165.27 253.96L166.01 254.4L166.74 253.95L167.48 254.13L168.22 253.93L168.96 253.81L169.69 254.57L170.43 254.3L171.17 253.58" fill="none" stroke="#878818" stroke-width="1.4" stroke-linejoin="round" stroke-opacity="0.9"/>
<line x1="29.55" y1="271.5" x2="171.54" y2="271.5" stroke="#111" stroke-width="1.15"/>
<line x1="29.55" y1="260.5" x2="171.54" y2="260.5" stroke="#111" stroke-width="1.15"/>
<path d="M29.55 271.66L30.29 271.7L31.02 271.9L31.76 271.83L32.5 271.73L33.24 271.81L33.97 272.01L34.71 271.71L35.45 271.86L36.19 271.79L36.93 271.97L37.66 271.9L38.4 271.67L39.14 271.84L39.88 271.74L40.61 271.63L41.35 271.79L42.09 271.79L42.83 271.82L43.56 271.71L44.3 271.75L45.04 271.75L45.78 271.63L46.51 271.69L47.25 271.54L47.99 271.96L48.73 271.82L49.46 271.55L50.2 271.77L50.94 271.82L51.68 271.48L52.41 271.48L53.15 271.23L53.89 270.91L54.63 271.25L55.37 271.3L56.1 271.07L56.84 271.05L57.58 270.96L58.32 270.55L59.05 270.59L59.79 270.55L60.53 270.6L61.27 270.27L62 270.4L62.74 269.96L63.48 270.22L64.22 270.15L64.95 269.92L65.69 269.55L66.43 270.24L67.17 269.72L67.9 269.97L68.64 269.98L69.38 269.66L70.12 269.32L70.85 269.73L71.59 269.41L72.33 268.88L73.07 268.91L73.8 269.15L74.54 268.86L75.28 268.9L76.02 268.95L76.76 268.91L77.49 268.42L78.23 268.72L78.97 268.54L79.71 268.53L80.44 268.64L81.18 268.3L81.92 267.81L82.66 268.31L83.39 268.03L84.13 267.7L84.87 267.76L85.61 267.78L86.34 267.57L87.08 267.55L87.82 267.54L88.56 267.61L89.29 267.46L90.03 267.63L90.77 267.17L91.51 267.17L92.24 267.16L92.98 267.28L93.72 266.98L94.46 267.16L95.2 266.59L95.93 266.87L96.67 266.38L97.41 266.64L98.15 266.25L98.88 266.2L99.62 266.04L100.36 266.17L101.1 266.39L101.83 265.82L102.57 265.93L103.31 266.01L104.05 265.82L104.78 265.44L105.52 265.27L106.26 265.22L107 265.05L107.73 264.87L108.47 265.05L109.21 264.89L109.95 264.83L110.68 264.74L111.42 264.6L112.16 264.44L112.9 264.47L113.64 264.24L114.37 263.99L115.11 264.13L115.85 263.85L116.59 264.04L117.32 263.93L118.06 263.31L118.8 263.58L119.54 263.21L120.27 263.75L121.01 263.72L121.75 263.16L122.49 263.1L123.22 263.4L123.96 262.7L124.7 262.61L125.44 262.78L126.17 262.42L126.91 262.31L127.65 262.31L128.39 262.34L129.12 262L129.86 262.11L130.6 262.02L131.34 262.09L132.08 261.7L132.81 261.37L133.55 261.61L134.29 261.51L135.03 261.57L135.76 261.25L136.5 260.94L137.24 261.04L137.98 260.78L138.71 260.58L139.45 260.87L140.19 260.71L140.93 260.41L141.66 260.59L142.4 260.74L143.14 260.53L143.88 260.45L144.61 260.31L145.35 260.7L146.09 260.46L146.83 260.44L147.56 261.09L148.3 260.38L149.04 260.55L149.78 260.85L150.52 260.17L151.25 260.45L151.99 260.48L152.73 260.06L153.47 260.32L154.2 260.73L154.94 260.53L155.68 260.19L156.42 260.28L157.15 260.22L157.89 260.53L158.63 260.3L159.37 260.65L160.1 260.57L160.84 260.41L161.58 260.56L162.32 260.41L163.05 260.56L163.79 260.47L164.53 260.11L165.27 260.41L166.01 260.31L166.74 260.82L167.48 260.65L168.22 260.35L168.96 260.85L169.69 260.61L170.43 260.6L171.17 260.3" fill="none" stroke="#e0303c" stroke-width="1.2" stroke-linejoin="round" stroke-opacity="0.6"/>
<rect x="22.8" y="243.42" width="155.4" height="33.8" fill="none" stroke="#4a4a4a" stroke-width="0.9"/>
<line x1="21.2" y1="271.79" x2="22.8" y2="271.79" stroke="#4a4a4a" stroke-width="0.7"/>
<text x="19.7" y="273.99" font-size="5.2" text-anchor="end" style="stroke-width:0.05px">0</text>
<line x1="21.2" y1="260.52" x2="22.8" y2="260.52" stroke="#4a4a4a" stroke-width="0.7"/>
<text x="19.7" y="262.72" font-size="5.2" text-anchor="end" style="stroke-width:0.05px">20</text>
<line x1="21.2" y1="249.25" x2="22.8" y2="249.25" stroke="#4a4a4a" stroke-width="0.7"/>
<text x="19.7" y="251.45" font-size="5.2" text-anchor="end" style="stroke-width:0.05px">40</text>
<line x1="25.4" y1="277.22" x2="25.4" y2="279.02" stroke="#4a4a4a" stroke-width="0.7"/>
<line x1="48.45" y1="277.22" x2="48.45" y2="279.02" stroke="#4a4a4a" stroke-width="0.7"/>
<line x1="71.5" y1="277.22" x2="71.5" y2="279.02" stroke="#4a4a4a" stroke-width="0.7"/>
<line x1="94.55" y1="277.22" x2="94.55" y2="279.02" stroke="#4a4a4a" stroke-width="0.7"/>
<line x1="117.6" y1="277.22" x2="117.6" y2="279.02" stroke="#4a4a4a" stroke-width="0.7"/>
<line x1="140.65" y1="277.22" x2="140.65" y2="279.02" stroke="#4a4a4a" stroke-width="0.7"/>
<line x1="163.7" y1="277.22" x2="163.7" y2="279.02" stroke="#4a4a4a" stroke-width="0.7"/>
<text x="27.9" y="257.92" font-size="5.7" textLength="18.6" lengthAdjust="spacingAndGlyphs" style="stroke-width:0.24px">FBG 10</text>
<rect x="48.45" y="282.24" width="92.2" height="33.8" fill="#d3d3d3"/>
<path d="M29.55 310.81L30.29 310.67L31.02 310.61L31.76 310.6L32.5 310.8L33.24 310.47L33.97 310.53L34.71 310.47L35.45 310.55L36.19 310.54L36.93 310.64L37.66 310.64L38.4 310.75L39.14 310.56L39.88 310.75L40.61 310.48L41.35 310.55L42.09 310.68L42.83 310.59L43.56 310.8L44.3 310.73L45.04 310.69L45.78 310.78L46.51 310.76L47.25 310.67L47.99 310.77L48.73 310.76L49.46 310.68L50.2 310.7L50.94 309.97L51.68 310.04L52.41 309.51L53.15 309.9L53.89 309.59L54.63 309.17L55.37 308.85L56.1 308.79L56.84 308.66L57.58 309.02L58.32 308.43L59.05 307.97L59.79 308.73L60.53 308.04L61.27 307.5L62 308.14L62.74 307.72L63.48 307.22L64.22 307.43L64.95 307.41L65.69 307.14L66.43 307.27L67.17 306.94L67.9 307.03L68.64 306.7L69.38 306.97L70.12 306.7L70.85 306.52L71.59 306.95L72.33 306.12L73.07 306.3L73.8 306.25L74.54 306.32L75.28 305.91L76.02 305.99L76.76 305.52L77.49 305.18L78.23 305.55L78.97 305.49L79.71 305.25L80.44 305.17L81.18 304.88L81.92 305.34L82.66 304.65L83.39 304.67L84.13 304.68L84.87 304.79L85.61 304.12L86.34 303.96L87.08 304.03L87.82 303.83L88.56 303.69L89.29 303.73L90.03 303.47L90.77 303.78L91.51 303.25L92.24 303.89L92.98 302.95L93.72 302.73L94.46 302.72L95.2 303.07L95.93 302.83L96.67 302.52L97.41 302.74L98.15 302.34L98.88 302.33L99.62 301.85L100.36 302.17L101.1 302.05L101.83 301.66L102.57 301.42L103.31 301.6L104.05 301.71L104.78 301.55L105.52 301.49L106.26 300.97L107 301.09L107.73 300.72L108.47 300.91L109.21 300.52L109.95 300.2L110.68 300.44L111.42 299.8L112.16 299.91L112.9 299.97L113.64 299.73L114.37 299.54L115.11 299.58L115.85 299.39L116.59 299.06L117.32 299.42L118.06 298.29L118.8 298.52L119.54 298.3L120.27 297.93L121.01 298.15L121.75 298.19L122.49 298.07L123.22 297.79L123.96 297.45L124.7 297.84L125.44 297.11L126.17 297.46L126.91 297.49L127.65 296.81L128.39 297.1L129.12 296.68L129.86 297.02L130.6 296.41L131.34 296.55L132.08 296.04L132.81 296.54L133.55 296.2L134.29 296.13L135.03 295.73L135.76 295.87L136.5 295.59L137.24 295.38L137.98 295.34L138.71 295.07L139.45 294.91L140.19 295.21L140.93 294.53L141.66 294.95L142.4 294.8L143.14 294.16L143.88 294.63L144.61 294.44L145.35 294.17L146.09 294.41L146.83 294.22L147.56 294.18L148.3 294.08L149.04 294.24L149.78 293.66L150.52 293.82L151.25 293.61L151.99 293.67L152.73 293.74L153.47 293.27L154.2 293.63L154.94 293.16L155.68 293.48L156.42 293.4L157.15 293.14L157.89 292.56L158.63 292.81L159.37 292.92L160.1 292.77L160.84 292.54L161.58 292.83L162.32 293.09L163.05 292.82L163.79 292.52L164.53 292.6L165.27 292.42L166.01 291.96L166.74 292.28L167.48 292.28L168.22 292.06L168.96 291.72L169.69 291.54L170.43 291.7L171.17 291.84" fill="none" stroke="#878818" stroke-width="1.4" stroke-linejoin="round" stroke-opacity="0.9"/>
<line x1="29.55" y1="310.5" x2="171.54" y2="310.5" stroke="#111" stroke-width="1.15"/>
<line x1="29.55" y1="299.5" x2="171.54" y2="299.5" stroke="#111" stroke-width="1.15"/>
<path d="M29.55 310.65L30.29 310.72L31.02 310.67L31.76 310.52L32.5 310.55L33.24 310.58L33.97 310.71L34.71 310.62L35.45 310.68L36.19 310.46L36.93 310.61L37.66 310.62L38.4 310.61L39.14 310.61L39.88 310.6L40.61 310.66L41.35 310.58L42.09 310.6L42.83 310.52L43.56 310.56L44.3 310.54L45.04 310.66L45.78 310.61L46.51 311.05L47.25 310.78L47.99 310.69L48.73 311.06L49.46 310.29L50.2 310.27L50.94 310.36L51.68 309.86L52.41 310.57L53.15 310.18L53.89 310.11L54.63 310.17L55.37 309.71L56.1 309.72L56.84 309.78L57.58 309.99L58.32 309.7L59.05 309.67L59.79 309.51L60.53 309.83L61.27 309.67L62 309.18L62.74 309.31L63.48 309.26L64.22 309.18L64.95 309.64L65.69 308.74L66.43 309.24L67.17 309.12L67.9 308.7L68.64 308.46L69.38 308.42L70.12 308.68L70.85 308.67L71.59 308.31L72.33 308.31L73.07 308.64L73.8 307.94L74.54 308.52L75.28 307.98L76.02 307.92L76.76 307.76L77.49 307.82L78.23 307.59L78.97 307.63L79.71 307.79L80.44 307.66L81.18 307.19L81.92 307.77L82.66 307.18L83.39 307.36L84.13 307.51L84.87 307.26L85.61 306.93L86.34 307.5L87.08 306.69L87.82 306.55L88.56 306.8L89.29 306.72L90.03 306.56L90.77 306.32L91.51 306.63L92.24 306.45L92.98 306.21L93.72 306.5L94.46 306.07L95.2 306.07L95.93 305.82L96.67 306.13L97.41 305.84L98.15 305.68L98.88 305.67L99.62 305.8L100.36 305.26L101.1 305.4L101.83 305.25L102.57 305.17L103.31 304.94L104.05 304.95L104.78 305L105.52 304.6L106.26 304.67L107 304.54L107.73 304.41L108.47 304.58L109.21 304.23L109.95 304.08L110.68 304.32L111.42 303.99L112.16 303.85L112.9 303.59L113.64 303.69L114.37 303.51L115.11 303.29L115.85 303.56L116.59 303.36L117.32 303.17L118.06 302.86L118.8 302.63L119.54 302.78L120.27 302.72L121.01 302.69L121.75 302.47L122.49 302.05L123.22 302.31L123.96 302.28L124.7 301.76L125.44 301.99L126.17 301.9L126.91 301.93L127.65 301.45L128.39 301.6L129.12 301.82L129.86 301.77L130.6 301.18L131.34 301.25L132.08 300.95L132.81 300.84L133.55 300.53L134.29 300.45L135.03 300.84L135.76 300.58L136.5 300.58L137.24 300.15L137.98 300.51L138.71 299.99L139.45 300.35L140.19 299.7L140.93 299.62L141.66 300.12L142.4 299.74L143.14 299.8L143.88 299.96L144.61 299.39L145.35 299.67L146.09 299.26L146.83 299.36L147.56 299.09L148.3 299.54L149.04 299.28L149.78 299.4L150.52 299.51L151.25 299.22L151.99 299.42L152.73 299.51L153.47 299.39L154.2 299.68L154.94 299.2L155.68 299.08L156.42 299.71L157.15 299.38L157.89 299.47L158.63 299.54L159.37 299.23L160.1 299.05L160.84 299.33L161.58 299.44L162.32 299.04L163.05 299.45L163.79 299.51L164.53 299.49L165.27 299.19L166.01 299.35L166.74 299.33L167.48 299.48L168.22 299.29L168.96 299.36L169.69 299L170.43 299.35L171.17 299.54" fill="none" stroke="#e0303c" stroke-width="1.2" stroke-linejoin="round" stroke-opacity="0.6"/>
<rect x="22.8" y="282.24" width="155.4" height="33.8" fill="none" stroke="#4a4a4a" stroke-width="0.9"/>
<line x1="21.2" y1="310.61" x2="22.8" y2="310.61" stroke="#4a4a4a" stroke-width="0.7"/>
<text x="19.7" y="312.81" font-size="5.2" text-anchor="end" style="stroke-width:0.05px">0</text>
<line x1="21.2" y1="299.34" x2="22.8" y2="299.34" stroke="#4a4a4a" stroke-width="0.7"/>
<text x="19.7" y="301.54" font-size="5.2" text-anchor="end" style="stroke-width:0.05px">20</text>
<line x1="21.2" y1="288.07" x2="22.8" y2="288.07" stroke="#4a4a4a" stroke-width="0.7"/>
<text x="19.7" y="290.27" font-size="5.2" text-anchor="end" style="stroke-width:0.05px">40</text>
<line x1="25.4" y1="316.04" x2="25.4" y2="317.84" stroke="#4a4a4a" stroke-width="0.7"/>
<line x1="48.45" y1="316.04" x2="48.45" y2="317.84" stroke="#4a4a4a" stroke-width="0.7"/>
<line x1="71.5" y1="316.04" x2="71.5" y2="317.84" stroke="#4a4a4a" stroke-width="0.7"/>
<line x1="94.55" y1="316.04" x2="94.55" y2="317.84" stroke="#4a4a4a" stroke-width="0.7"/>
<line x1="117.6" y1="316.04" x2="117.6" y2="317.84" stroke="#4a4a4a" stroke-width="0.7"/>
<line x1="140.65" y1="316.04" x2="140.65" y2="317.84" stroke="#4a4a4a" stroke-width="0.7"/>
<line x1="163.7" y1="316.04" x2="163.7" y2="317.84" stroke="#4a4a4a" stroke-width="0.7"/>
<text x="27.9" y="296.74" font-size="5.7" textLength="18.6" lengthAdjust="spacingAndGlyphs" style="stroke-width:0.24px">FBG 11</text>
<rect x="48.45" y="321.06" width="92.2" height="33.8" fill="#d3d3d3"/>
<path d="M29.55 349.24L30.29 349.4L31.02 349.43L31.76 349.38L32.5 349.42L33.24 349.67L33.97 349.43L34.71 349.29L35.45 349.32L36.19 349.52L36.93 349.46L37.66 349.37L38.4 349.19L39.14 349.39L39.88 349.4L40.61 349.49L41.35 349.47L42.09 349.48L42.83 349.43L43.56 349.54L44.3 349.47L45.04 349.56L45.78 349.3L46.51 349.28L47.25 349.47L47.99 349.48L48.73 349.19L49.46 349.14L50.2 349.11L50.94 349.43L51.68 349.06L52.41 348.31L53.15 348.32L53.89 348.27L54.63 348.33L55.37 347.59L56.1 347.82L56.84 347.35L57.58 347.22L58.32 347.14L59.05 347.1L59.79 346.59L60.53 346.84L61.27 346.56L62 346.33L62.74 345.94L63.48 346.18L64.22 345.94L64.95 345.72L65.69 346.29L66.43 345.84L67.17 345.6L67.9 345.57L68.64 345.11L69.38 345.3L70.12 344.93L70.85 344.75L71.59 344.91L72.33 344.65L73.07 344.29L73.8 344.29L74.54 344.38L75.28 344.66L76.02 344.32L76.76 344.08L77.49 343.87L78.23 343.79L78.97 343.72L79.71 343.84L80.44 343.36L81.18 343.17L81.92 343.28L82.66 343.14L83.39 342.86L84.13 343.02L84.87 342.73L85.61 342.49L86.34 342.75L87.08 342.5L87.82 342.55L88.56 342.5L89.29 342.57L90.03 341.96L90.77 341.36L91.51 341.88L92.24 341.34L92.98 341.35L93.72 341.56L94.46 341.15L95.2 341.34L95.93 341.6L96.67 340.82L97.41 340.97L98.15 340.84L98.88 340.52L99.62 340.33L100.36 340.45L101.1 340.21L101.83 340.05L102.57 340.18L103.31 339.68L104.05 339.83L104.78 339.48L105.52 339.22L106.26 339.07L107 339.59L107.73 339.17L108.47 338.94L109.21 338.91L109.95 338.63L110.68 338.47L111.42 338.29L112.16 337.66L112.9 337.98L113.64 337.88L114.37 337.92L115.11 337.67L115.85 337.52L116.59 337.19L117.32 337.47L118.06 337.1L118.8 337.15L119.54 337.16L120.27 336.47L121.01 336.54L121.75 336.28L122.49 335.84L123.22 335.75L123.96 335.95L124.7 335.72L125.44 335.77L126.17 335.57L126.91 335.73L127.65 335.07L128.39 335.08L129.12 334.73L129.86 334.41L130.6 334.87L131.34 334.5L132.08 334.45L132.81 333.98L133.55 334.17L134.29 333.6L135.03 333.31L135.76 333.24L136.5 333.11L137.24 333.33L137.98 333.27L138.71 333.45L139.45 332.95L140.19 333.22L140.93 333.02L141.66 332.46L142.4 332.45L143.14 332.86L143.88 332.05L144.61 332.74L145.35 332.68L146.09 332.04L146.83 331.95L147.56 332.29L148.3 332.04L149.04 332.48L149.78 331.88L150.52 332.12L151.25 331.72L151.99 332.02L152.73 331.93L153.47 331.6L154.2 331.55L154.94 331.72L155.68 331.91L156.42 331.45L157.15 331.14L157.89 331.22L158.63 331.64L159.37 331.25L160.1 331.16L160.84 330.8L161.58 331.13L162.32 331.09L163.05 330.61L163.79 331.19L164.53 331.01L165.27 331L166.01 330.47L166.74 330.83L167.48 330.46L168.22 330.71L168.96 330.16L169.69 330.31L170.43 330.51L171.17 330.15" fill="none" stroke="#878818" stroke-width="1.4" stroke-linejoin="round" stroke-opacity="0.9"/>
<line x1="29.55" y1="349.5" x2="171.54" y2="349.5" stroke="#111" stroke-width="1.15"/>
<line x1="29.55" y1="338.5" x2="171.54" y2="338.5" stroke="#111" stroke-width="1.15"/>
<path d="M29.55 349.39L30.29 349.42L31.02 349.52L31.76 349.24L32.5 349.41L33.24 349.46L33.97 349.41L34.71 349.43L35.45 349.54L36.19 349.32L36.93 349.58L37.66 349.34L38.4 349.61L39.14 349.56L39.88 349.31L40.61 349.57L41.35 349.42L42.09 349.4L42.83 349.29L43.56 349.25L44.3 349.34L45.04 349.37L45.78 349.31L46.51 349.22L47.25 349.74L47.99 349.3L48.73 349.57L49.46 348.83L50.2 349.04L50.94 349.37L51.68 348.8L52.41 349.3L53.15 348.94L53.89 349.24L54.63 349.01L55.37 348.84L56.1 349.09L56.84 348.65L57.58 348.5L58.32 348.33L59.05 348.38L59.79 348.46L60.53 348.29L61.27 348.51L62 348.37L62.74 347.9L63.48 348.3L64.22 348.09L64.95 347.71L65.69 347.82L66.43 347.94L67.17 347.73L67.9 347.66L68.64 347.67L69.38 347.45L70.12 347.09L70.85 347.26L71.59 347.01L72.33 347.09L73.07 346.91L73.8 346.64L74.54 346.6L75.28 346.63L76.02 346.55L76.76 346.19L77.49 346.38L78.23 346.5L78.97 345.98L79.71 345.89L80.44 345.96L81.18 345.95L81.92 345.48L82.66 345.4L83.39 345.48L84.13 345.47L84.87 345.23L85.61 344.94L86.34 345.31L87.08 344.93L87.82 345.4L88.56 345.01L89.29 344.69L90.03 344.69L90.77 344.86L91.51 344.37L92.24 344.3L92.98 344.19L93.72 344.32L94.46 344.19L95.2 344.1L95.93 343.92L96.67 343.86L97.41 343.81L98.15 343.55L98.88 343.37L99.62 343.47L100.36 343.15L101.1 343.64L101.83 342.71L102.57 343.29L103.31 343.1L104.05 342.83L104.78 342.62L105.52 342.68L106.26 342.94L107 342.6L107.73 342.67L108.47 342.16L109.21 342.32L109.95 342.62L110.68 342.19L111.42 341.9L112.16 342.07L112.9 341.66L113.64 341.98L114.37 341.62L115.11 341.27L115.85 341.36L116.59 341.46L117.32 341.32L118.06 340.88L118.8 340.84L119.54 340.81L120.27 340.64L121.01 340.7L121.75 340.58L122.49 340.51L123.22 340.48L123.96 340.08L124.7 340.38L125.44 339.67L126.17 339.85L126.91 339.95L127.65 339.52L128.39 339.38L129.12 339.55L129.86 339.75L130.6 339.4L131.34 339.32L132.08 339.34L132.81 339.41L133.55 339.21L134.29 338.9L135.03 338.87L135.76 338.56L136.5 338.88L137.24 338.42L137.98 338.61L138.71 338.26L139.45 338.21L140.19 337.87L140.93 338.04L141.66 338.21L142.4 338.12L143.14 338.44L143.88 338.15L144.61 338.05L145.35 338.1L146.09 338.26L146.83 338.1L147.56 338.1L148.3 338.08L149.04 338.34L149.78 338L150.52 338.16L151.25 338.38L151.99 338.19L152.73 337.93L153.47 337.85L154.2 338.21L154.94 338.31L155.68 338.22L156.42 338.02L157.15 337.89L157.89 338.12L158.63 338.2L159.37 337.87L160.1 338.07L160.84 338.31L161.58 338.2L162.32 337.98L163.05 338.22L163.79 338.15L164.53 338.29L165.27 338.05L166.01 337.87L166.74 337.92L167.48 338.24L168.22 338.38L168.96 337.88L169.69 338.02L170.43 338.46L171.17 337.88" fill="none" stroke="#e0303c" stroke-width="1.2" stroke-linejoin="round" stroke-opacity="0.6"/>
<rect x="22.8" y="321.06" width="155.4" height="33.8" fill="none" stroke="#4a4a4a" stroke-width="0.9"/>
<line x1="21.2" y1="349.43" x2="22.8" y2="349.43" stroke="#4a4a4a" stroke-width="0.7"/>
<text x="19.7" y="351.63" font-size="5.2" text-anchor="end" style="stroke-width:0.05px">0</text>
<line x1="21.2" y1="338.16" x2="22.8" y2="338.16" stroke="#4a4a4a" stroke-width="0.7"/>
<text x="19.7" y="340.36" font-size="5.2" text-anchor="end" style="stroke-width:0.05px">20</text>
<line x1="21.2" y1="326.89" x2="22.8" y2="326.89" stroke="#4a4a4a" stroke-width="0.7"/>
<text x="19.7" y="329.09" font-size="5.2" text-anchor="end" style="stroke-width:0.05px">40</text>
<line x1="25.4" y1="354.86" x2="25.4" y2="356.66" stroke="#4a4a4a" stroke-width="0.7"/>
<line x1="48.45" y1="354.86" x2="48.45" y2="356.66" stroke="#4a4a4a" stroke-width="0.7"/>
<line x1="71.5" y1="354.86" x2="71.5" y2="356.66" stroke="#4a4a4a" stroke-width="0.7"/>
<line x1="94.55" y1="354.86" x2="94.55" y2="356.66" stroke="#4a4a4a" stroke-width="0.7"/>
<line x1="117.6" y1="354.86" x2="117.6" y2="356.66" stroke="#4a4a4a" stroke-width="0.7"/>
<line x1="140.65" y1="354.86" x2="140.65" y2="356.66" stroke="#4a4a4a" stroke-width="0.7"/>
<line x1="163.7" y1="354.86" x2="163.7" y2="356.66" stroke="#4a4a4a" stroke-width="0.7"/>
<text x="27.9" y="335.56" font-size="5.7" textLength="18.6" lengthAdjust="spacingAndGlyphs" style="stroke-width:0.24px">FBG 12</text>
<rect x="48.45" y="359.88" width="92.2" height="33.8" fill="#d3d3d3"/>
<path d="M29.55 388.3L30.29 388.31L31.02 388.24L31.76 388.4L32.5 388.37L33.24 388.09L33.97 388.28L34.71 388.19L35.45 388.1L36.19 388.2L36.93 388.26L37.66 388.18L38.4 388.06L39.14 388.19L39.88 388.29L40.61 388.03L41.35 388.08L42.09 388.38L42.83 388.2L43.56 387.98L44.3 388.4L45.04 388.4L45.78 388.16L46.51 388.35L47.25 388.59L47.99 387.91L48.73 388.2L49.46 387.88L50.2 387.51L50.94 387.53L51.68 387.6L52.41 386.71L53.15 386.8L53.89 386.82L54.63 386.72L55.37 386.75L56.1 386.1L56.84 386.36L57.58 385.47L58.32 386.12L59.05 385.3L59.79 385.54L60.53 385.39L61.27 384.88L62 384.89L62.74 384.63L63.48 384.92L64.22 384.59L64.95 384.51L65.69 384.25L66.43 383.99L67.17 384.1L67.9 384.16L68.64 383.8L69.38 384.07L70.12 383.72L70.85 383.18L71.59 383.46L72.33 383.02L73.07 383.18L73.8 383.18L74.54 382.82L75.28 382.62L76.02 382.63L76.76 382.43L77.49 381.98L78.23 382.24L78.97 382.04L79.71 382.17L80.44 381.69L81.18 381.91L81.92 381.59L82.66 381.62L83.39 381.24L84.13 381.15L84.87 380.91L85.61 381L86.34 380.76L87.08 380.36L87.82 380.86L88.56 380.74L89.29 380.22L90.03 380.26L90.77 380.14L91.51 380.59L92.24 379.97L92.98 379.59L93.72 379.56L94.46 379.55L95.2 379.47L95.93 379.47L96.67 379.29L97.41 379.06L98.15 379.37L98.88 378.54L99.62 378.96L100.36 378.27L101.1 378.24L101.83 378.45L102.57 378.2L103.31 377.91L104.05 377.6L104.78 377.91L105.52 377.45L106.26 377.26L107 377.32L107.73 377.06L108.47 377.09L109.21 376.94L109.95 376.94L110.68 376.77L111.42 376.27L112.16 376.18L112.9 376.02L113.64 376.13L114.37 375.78L115.11 375.52L115.85 375.86L116.59 375.67L117.32 375.54L118.06 375.13L118.8 374.98L119.54 374.46L120.27 374.5L121.01 375.19L121.75 374.39L122.49 374.4L123.22 373.96L123.96 374.27L124.7 374.22L125.44 373.96L126.17 373.48L126.91 373.55L127.65 373.18L128.39 372.76L129.12 373.29L129.86 372.99L130.6 372.69L131.34 372.42L132.08 372.64L132.81 372.32L133.55 372.41L134.29 371.7L135.03 371.71L135.76 371.33L136.5 371.28L137.24 371.36L137.98 371.14L138.71 371.02L139.45 371.03L140.19 370.95L140.93 370.93L141.66 370.74L142.4 370.7L143.14 370.43L143.88 370.63L144.61 370.54L145.35 370.18L146.09 370.62L146.83 370.7L147.56 369.87L148.3 370.62L149.04 370.45L149.78 369.89L150.52 370.26L151.25 370.3L151.99 370.1L152.73 370.12L153.47 370.24L154.2 370.4L154.94 370.12L155.68 370.15L156.42 369.94L157.15 369.96L157.89 369.55L158.63 369.53L159.37 369.78L160.1 369.19L160.84 369.09L161.58 369.88L162.32 369.66L163.05 368.96L163.79 369.29L164.53 369.3L165.27 369.33L166.01 369.21L166.74 368.92L167.48 368.96L168.22 369.07L168.96 369.12L169.69 369.05L170.43 368.65L171.17 368.95" fill="none" stroke="#878818" stroke-width="1.4" stroke-linejoin="round" stroke-opacity="0.9"/>
<line x1="29.55" y1="388.5" x2="171.54" y2="388.5" stroke="#111" stroke-width="1.15"/>
<line x1="29.55" y1="376.5" x2="171.54" y2="376.5" stroke="#111" stroke-width="1.15"/>
<path d="M29.55 388.26L30.29 388.24L31.02 388.23L31.76 388.37L32.5 387.98L33.24 388.18L33.97 388.09L34.71 388.36L35.45 388.4L36.19 388.24L36.93 388.28L37.66 388.34L38.4 388.08L39.14 388.36L39.88 388.4L40.61 388.06L41.35 388.21L42.09 388.38L42.83 388.14L43.56 388.33L44.3 388.29L45.04 388.27L45.78 388.25L46.51 387.88L47.25 388.4L47.99 388.42L48.73 388.45L49.46 388.17L50.2 388.3L50.94 388L51.68 387.66L52.41 387.48L53.15 387.85L53.89 387.71L54.63 387.79L55.37 387.66L56.1 387.39L56.84 387.86L57.58 387.57L58.32 387.52L59.05 387.44L59.79 387.3L60.53 387.06L61.27 387.08L62 386.38L62.74 386.61L63.48 386.92L64.22 386.74L64.95 386.73L65.69 386.47L66.43 386.42L67.17 386.21L67.9 386.24L68.64 385.91L69.38 386.11L70.12 385.98L70.85 385.82L71.59 385.79L72.33 385.73L73.07 385.53L73.8 385.43L74.54 385.4L75.28 385.28L76.02 385.38L76.76 385.3L77.49 384.91L78.23 384.79L78.97 385.02L79.71 384.61L80.44 384.86L81.18 384.41L81.92 384.46L82.66 384.53L83.39 384.34L84.13 384.49L84.87 384.37L85.61 384.29L86.34 383.94L87.08 383.89L87.82 383.98L88.56 383.83L89.29 383.97L90.03 383.71L90.77 383.8L91.51 383.25L92.24 383.26L92.98 383.46L93.72 383.36L94.46 382.84L95.2 383.06L95.93 383.22L96.67 383.04L97.41 382.94L98.15 382.77L98.88 382.9L99.62 382.44L100.36 382.57L101.1 381.97L101.83 382.07L102.57 382.43L103.31 382.2L104.05 381.92L104.78 382.14L105.52 381.95L106.26 381.29L107 381.64L107.73 381.52L108.47 381.23L109.21 381.09L109.95 381.04L110.68 380.78L111.42 380.98L112.16 380.5L112.9 380.39L113.64 380.6L114.37 380.44L115.11 380.34L115.85 380.3L116.59 380.34L117.32 379.97L118.06 380.08L118.8 379.94L119.54 379.87L120.27 379.54L121.01 379.68L121.75 379.19L122.49 379.61L123.22 379.38L123.96 379.09L124.7 379.01L125.44 379.07L126.17 378.28L126.91 378.71L127.65 378.82L128.39 378.41L129.12 377.97L129.86 377.94L130.6 378.13L131.34 378.02L132.08 377.5L132.81 377.75L133.55 377.62L134.29 377.83L135.03 377.58L135.76 377.27L136.5 377.67L137.24 377.1L137.98 377.07L138.71 377.02L139.45 376.96L140.19 376.9L140.93 376.73L141.66 377.27L142.4 376.79L143.14 377.07L143.88 377.01L144.61 376.92L145.35 376.99L146.09 376.8L146.83 377.12L147.56 376.86L148.3 377.03L149.04 377.37L149.78 377.24L150.52 376.73L151.25 377.02L151.99 376.83L152.73 376.96L153.47 377.06L154.2 376.43L154.94 376.7L155.68 377.18L156.42 376.94L157.15 376.92L157.89 377.39L158.63 377.23L159.37 376.72L160.1 376.7L160.84 376.68L161.58 377.15L162.32 376.88L163.05 376.91L163.79 376.97L164.53 377.06L165.27 376.92L166.01 377.33L166.74 377.54L167.48 377.06L168.22 376.66L168.96 377.22L169.69 377.12L170.43 376.94L171.17 377.2" fill="none" stroke="#e0303c" stroke-width="1.2" stroke-linejoin="round" stroke-opacity="0.6"/>
<rect x="22.8" y="359.88" width="155.4" height="33.8" fill="none" stroke="#4a4a4a" stroke-width="0.9"/>
<line x1="21.2" y1="388.25" x2="22.8" y2="388.25" stroke="#4a4a4a" stroke-width="0.7"/>
<text x="19.7" y="390.45" font-size="5.2" text-anchor="end" style="stroke-width:0.05px">0</text>
<line x1="21.2" y1="376.98" x2="22.8" y2="376.98" stroke="#4a4a4a" stroke-width="0.7"/>
<text x="19.7" y="379.18" font-size="5.2" text-anchor="end" style="stroke-width:0.05px">20</text>
<line x1="21.2" y1="365.71" x2="22.8" y2="365.71" stroke="#4a4a4a" stroke-width="0.7"/>
<text x="19.7" y="367.91" font-size="5.2" text-anchor="end" style="stroke-width:0.05px">40</text>
<line x1="25.4" y1="393.68" x2="25.4" y2="395.48" stroke="#4a4a4a" stroke-width="0.7"/>
<line x1="48.45" y1="393.68" x2="48.45" y2="395.48" stroke="#4a4a4a" stroke-width="0.7"/>
<line x1="71.5" y1="393.68" x2="71.5" y2="395.48" stroke="#4a4a4a" stroke-width="0.7"/>
<line x1="94.55" y1="393.68" x2="94.55" y2="395.48" stroke="#4a4a4a" stroke-width="0.7"/>
<line x1="117.6" y1="393.68" x2="117.6" y2="395.48" stroke="#4a4a4a" stroke-width="0.7"/>
<line x1="140.65" y1="393.68" x2="140.65" y2="395.48" stroke="#4a4a4a" stroke-width="0.7"/>
<line x1="163.7" y1="393.68" x2="163.7" y2="395.48" stroke="#4a4a4a" stroke-width="0.7"/>
<text x="27.9" y="374.38" font-size="5.7" textLength="18.6" lengthAdjust="spacingAndGlyphs" style="stroke-width:0.24px">FBG 13</text>
<rect x="48.45" y="398.7" width="92.2" height="33.8" fill="#d3d3d3"/>
<path d="M29.55 427.04L30.29 427.13L31.02 427.12L31.76 427.19L32.5 427.04L33.24 426.99L33.97 426.91L34.71 427.12L35.45 427.2L36.19 427.06L36.93 426.97L37.66 427.2L38.4 427.02L39.14 426.8L39.88 426.95L40.61 427.23L41.35 427.11L42.09 427.23L42.83 427.2L43.56 426.79L44.3 427.08L45.04 427.13L45.78 427.02L46.51 427.29L47.25 426.63L47.99 426.89L48.73 426.95L49.46 426.55L50.2 426.34L50.94 426.21L51.68 426.56L52.41 426.04L53.15 425.28L53.89 425.66L54.63 425.43L55.37 425.31L56.1 424.75L56.84 424.75L57.58 424.6L58.32 424L59.05 424.26L59.79 423.64L60.53 423.59L61.27 423.49L62 423.25L62.74 423.34L63.48 423.23L64.22 422.73L64.95 423.03L65.69 422.76L66.43 422.83L67.17 422.83L67.9 422.42L68.64 422.69L69.38 422.12L70.12 421.95L70.85 421.92L71.59 422L72.33 422.15L73.07 421.86L73.8 421.02L74.54 421.74L75.28 421.22L76.02 421.23L76.76 421.11L77.49 421.3L78.23 421.26L78.97 420.87L79.71 420.67L80.44 420.62L81.18 420.33L81.92 420.53L82.66 420.55L83.39 420.06L84.13 420.04L84.87 420.41L85.61 419.54L86.34 419.55L87.08 419.31L87.82 419.47L88.56 419.26L89.29 419.48L90.03 419.43L90.77 418.69L91.51 419.08L92.24 419.26L92.98 418.86L93.72 418.61L94.46 418.54L95.2 418.57L95.93 418.1L96.67 418.1L97.41 417.67L98.15 417.96L98.88 417.39L99.62 417.57L100.36 417.53L101.1 417.49L101.83 417.17L102.57 417.21L103.31 417.44L104.05 416.99L104.78 417.07L105.52 416.74L106.26 416.96L107 416.49L107.73 415.98L108.47 416.45L109.21 415.79L109.95 416.11L110.68 416.18L111.42 415.83L112.16 415.32L112.9 415.91L113.64 415.65L114.37 415.04L115.11 415.35L115.85 415.13L116.59 415.56L117.32 414.89L118.06 415.26L118.8 414.84L119.54 414.42L120.27 414.86L121.01 414.56L121.75 413.83L122.49 413.96L123.22 413.94L123.96 413.78L124.7 413.75L125.44 413.44L126.17 413.91L126.91 413.24L127.65 413.43L128.39 413.44L129.12 413.21L129.86 413.57L130.6 412.92L131.34 413.09L132.08 412.37L132.81 412.77L133.55 412.14L134.29 412.2L135.03 411.76L135.76 412.12L136.5 412.01L137.24 412.31L137.98 412.03L138.71 411.8L139.45 411.85L140.19 411.55L140.93 411.61L141.66 411.5L142.4 411.19L143.14 411.29L143.88 411.18L144.61 411.13L145.35 410.86L146.09 411.24L146.83 411.16L147.56 411.13L148.3 411.05L149.04 410.85L149.78 410.85L150.52 410.69L151.25 411.18L151.99 410.93L152.73 410.75L153.47 410.42L154.2 410.5L154.94 410.21L155.68 410.23L156.42 410.37L157.15 410.54L157.89 410.45L158.63 410.14L159.37 410.55L160.1 409.94L160.84 409.7L161.58 409.8L162.32 409.53L163.05 409.6L163.79 409.81L164.53 409.32L165.27 409.81L166.01 409.33L166.74 410.12L167.48 409.54L168.22 409.72L168.96 409.35L169.69 409.52L170.43 409.29L171.17 409.04" fill="none" stroke="#878818" stroke-width="1.4" stroke-linejoin="round" stroke-opacity="0.9"/>
<line x1="29.55" y1="427.5" x2="171.54" y2="427.5" stroke="#111" stroke-width="1.15"/>
<line x1="29.55" y1="415.5" x2="171.54" y2="415.5" stroke="#111" stroke-width="1.15"/>
<path d="M29.55 427.1L30.29 427.03L31.02 427.01L31.76 427.11L32.5 427.28L33.24 427.27L33.97 427.2L34.71 427.03L35.45 426.86L36.19 427.06L36.93 427.13L37.66 426.98L38.4 427.01L39.14 427.17L39.88 427.01L40.61 427.08L41.35 427.14L42.09 427.07L42.83 426.98L43.56 427.01L44.3 426.98L45.04 427.13L45.78 427.11L46.51 426.86L47.25 426.83L47.99 426.73L48.73 426.83L49.46 427.04L50.2 426.93L50.94 426.36L51.68 426.62L52.41 426.22L53.15 426.4L53.89 426.64L54.63 426.32L55.37 426.06L56.1 425.75L56.84 425.97L57.58 425.6L58.32 425.51L59.05 425.73L59.79 425.49L60.53 425.37L61.27 425.74L62 425.16L62.74 425.24L63.48 425.42L64.22 425.33L64.95 425.2L65.69 425.21L66.43 424.96L67.17 424.73L67.9 424.9L68.64 424.89L69.38 424.46L70.12 424.62L70.85 424.48L71.59 424.86L72.33 424.32L73.07 424.49L73.8 424.19L74.54 424.31L75.28 423.92L76.02 424.15L76.76 423.81L77.49 424.04L78.23 423.92L78.97 424.01L79.71 423.46L80.44 423.64L81.18 423.34L81.92 423.39L82.66 423.42L83.39 423.71L84.13 423.26L84.87 423.23L85.61 423.26L86.34 423.56L87.08 422.88L87.82 423.46L88.56 423L89.29 423.5L90.03 422.98L90.77 422.45L91.51 422.55L92.24 422.67L92.98 422.47L93.72 422.74L94.46 422.51L95.2 421.94L95.93 422.35L96.67 422.3L97.41 422.36L98.15 422.12L98.88 421.87L99.62 422.06L100.36 421.8L101.1 421.81L101.83 421.62L102.57 421.72L103.31 421.52L104.05 421.71L104.78 421.01L105.52 421.24L106.26 421.54L107 420.78L107.73 421.27L108.47 421.02L109.21 420.96L109.95 421.03L110.68 420.62L111.42 420.71L112.16 420.68L112.9 420.71L113.64 420.86L114.37 420.47L115.11 420.03L115.85 420.23L116.59 420.28L117.32 420.25L118.06 420.24L118.8 419.96L119.54 420.01L120.27 419.84L121.01 419.77L121.75 419.46L122.49 419.54L123.22 419.63L123.96 419.26L124.7 419.19L125.44 418.65L126.17 419.4L126.91 419L127.65 419.3L128.39 418.65L129.12 418.65L129.86 418.41L130.6 418.58L131.34 418.28L132.08 418.81L132.81 418.38L133.55 418.38L134.29 417.98L135.03 418.2L135.76 417.84L136.5 418.33L137.24 418.38L137.98 417.6L138.71 417.9L139.45 417.62L140.19 417.39L140.93 417.43L141.66 417.5L142.4 417.62L143.14 417.77L143.88 417.37L144.61 417.63L145.35 417.9L146.09 417.49L146.83 417.53L147.56 418.16L148.3 418.11L149.04 417.78L149.78 417.45L150.52 417.91L151.25 418.04L151.99 417.42L152.73 418.11L153.47 417.54L154.2 417.91L154.94 417.59L155.68 417.65L156.42 417.72L157.15 417.55L157.89 417.84L158.63 417.78L159.37 417.97L160.1 417.79L160.84 417.99L161.58 417.65L162.32 417.62L163.05 417.83L163.79 417.84L164.53 417.69L165.27 417.79L166.01 418.13L166.74 417.92L167.48 417.78L168.22 417.88L168.96 417.52L169.69 417.58L170.43 417.84L171.17 417.72" fill="none" stroke="#e0303c" stroke-width="1.2" stroke-linejoin="round" stroke-opacity="0.6"/>
<rect x="22.8" y="398.7" width="155.4" height="33.8" fill="none" stroke="#4a4a4a" stroke-width="0.9"/>
<line x1="21.2" y1="427.07" x2="22.8" y2="427.07" stroke="#4a4a4a" stroke-width="0.7"/>
<text x="19.7" y="429.27" font-size="5.2" text-anchor="end" style="stroke-width:0.05px">0</text>
<line x1="21.2" y1="415.8" x2="22.8" y2="415.8" stroke="#4a4a4a" stroke-width="0.7"/>
<text x="19.7" y="418" font-size="5.2" text-anchor="end" style="stroke-width:0.05px">20</text>
<line x1="21.2" y1="404.53" x2="22.8" y2="404.53" stroke="#4a4a4a" stroke-width="0.7"/>
<text x="19.7" y="406.73" font-size="5.2" text-anchor="end" style="stroke-width:0.05px">40</text>
<line x1="25.4" y1="432.5" x2="25.4" y2="434.3" stroke="#4a4a4a" stroke-width="0.7"/>
<line x1="48.45" y1="432.5" x2="48.45" y2="434.3" stroke="#4a4a4a" stroke-width="0.7"/>
<line x1="71.5" y1="432.5" x2="71.5" y2="434.3" stroke="#4a4a4a" stroke-width="0.7"/>
<line x1="94.55" y1="432.5" x2="94.55" y2="434.3" stroke="#4a4a4a" stroke-width="0.7"/>
<line x1="117.6" y1="432.5" x2="117.6" y2="434.3" stroke="#4a4a4a" stroke-width="0.7"/>
<line x1="140.65" y1="432.5" x2="140.65" y2="434.3" stroke="#4a4a4a" stroke-width="0.7"/>
<line x1="163.7" y1="432.5" x2="163.7" y2="434.3" stroke="#4a4a4a" stroke-width="0.7"/>
<text x="27.9" y="413.2" font-size="5.7" textLength="18.6" lengthAdjust="spacingAndGlyphs" style="stroke-width:0.24px">FBG 14</text>
<rect x="48.45" y="437.52" width="92.2" height="33.8" fill="#d3d3d3"/>
<path d="M29.55 465.77L30.29 465.76L31.02 465.78L31.76 465.85L32.5 465.77L33.24 465.87L33.97 465.82L34.71 465.85L35.45 465.81L36.19 465.77L36.93 465.82L37.66 465.93L38.4 465.76L39.14 465.98L39.88 465.77L40.61 465.81L41.35 465.77L42.09 465.73L42.83 465.7L43.56 465.82L44.3 465.94L45.04 465.65L45.78 465.54L46.51 465.7L47.25 466.02L47.99 465.37L48.73 465.55L49.46 465.7L50.2 466.03L50.94 465.28L51.68 464.88L52.41 465.36L53.15 465.38L53.89 465.17L54.63 464.99L55.37 465.14L56.1 465.16L56.84 465.05L57.58 464.72L58.32 464.96L59.05 465.03L59.79 464.35L60.53 464.7L61.27 465.32L62 464.37L62.74 464.31L63.48 464.44L64.22 464.49L64.95 463.99L65.69 464.28L66.43 463.81L67.17 463.92L67.9 463.92L68.64 463.46L69.38 463.63L70.12 464.15L70.85 463.44L71.59 463.41L72.33 463.33L73.07 462.88L73.8 463.21L74.54 463.07L75.28 463.3L76.02 463.35L76.76 463.24L77.49 463.13L78.23 462.83L78.97 462.88L79.71 462.66L80.44 462.69L81.18 462.96L81.92 463.14L82.66 462.63L83.39 462.29L84.13 462.55L84.87 462.6L85.61 462.43L86.34 462.08L87.08 462.11L87.82 462.34L88.56 462.07L89.29 462.15L90.03 462.02L90.77 461.71L91.51 461.8L92.24 461.63L92.98 462.02L93.72 461.37L94.46 461.94L95.2 462.09L95.93 461.5L96.67 461.19L97.41 461.28L98.15 460.97L98.88 460.87L99.62 460.81L100.36 461.09L101.1 460.93L101.83 461.13L102.57 460.83L103.31 460.68L104.05 460.5L104.78 461L105.52 461.25L106.26 460.61L107 460.51L107.73 460.13L108.47 460.22L109.21 460.18L109.95 459.88L110.68 460.22L111.42 459.92L112.16 459.64L112.9 459.39L113.64 459.43L114.37 459.82L115.11 459.37L115.85 459.69L116.59 459.5L117.32 459.66L118.06 459.58L118.8 459.65L119.54 459.32L120.27 459.53L121.01 459.23L121.75 459.14L122.49 458.78L123.22 459.32L123.96 458.78L124.7 458.59L125.44 458.48L126.17 458.57L126.91 458.45L127.65 458.31L128.39 458.27L129.12 458.13L129.86 457.95L130.6 457.66L131.34 458.06L132.08 458.01L132.81 457.76L133.55 457.99L134.29 457.82L135.03 457.94L135.76 457.61L136.5 457.6L137.24 457.47L137.98 457.5L138.71 457.56L139.45 457.26L140.19 457.39L140.93 457.36L141.66 457.07L142.4 457.22L143.14 457.62L143.88 457.1L144.61 457.44L145.35 456.94L146.09 456.33L146.83 456.57L147.56 457.25L148.3 456.11L149.04 456.59L149.78 456.64L150.52 456.4L151.25 456.5L151.99 456.67L152.73 456.31L153.47 456.14L154.2 456.06L154.94 455.99L155.68 456.13L156.42 455.93L157.15 456.14L157.89 455.67L158.63 455.35L159.37 455.83L160.1 455.52L160.84 455.05L161.58 455.93L162.32 455.77L163.05 454.88L163.79 455.04L164.53 455.04L165.27 455.38L166.01 455.26L166.74 455.28L167.48 454.94L168.22 455.11L168.96 455.15L169.69 455.18L170.43 454.68L171.17 454.82" fill="none" stroke="#878818" stroke-width="1.4" stroke-linejoin="round" stroke-opacity="0.9"/>
<line x1="29.55" y1="465.5" x2="171.54" y2="465.5" stroke="#111" stroke-width="1.15"/>
<path d="M29.55 465.85L30.29 466.08L31.02 465.87L31.76 465.87L32.5 465.79L33.24 465.81L33.97 465.89L34.71 465.77L35.45 465.87L36.19 465.81L36.93 465.69L37.66 465.75L38.4 465.9L39.14 465.84L39.88 465.77L40.61 465.67L41.35 465.81L42.09 465.82L42.83 465.89L43.56 465.97L44.3 465.77L45.04 465.84L45.78 465.93L46.51 465.66L47.25 465.85L47.99 465.5L48.73 465.82L49.46 465.88L50.2 465.48L50.94 465.81L51.68 465.54L52.41 465.56L53.15 466.03L53.89 465.99L54.63 465.89L55.37 465.54L56.1 465.81L56.84 465.24L57.58 465.43L58.32 465.43L59.05 465.54L59.79 465.42L60.53 465.45L61.27 465.58L62 465.63L62.74 465.77L63.48 465.55L64.22 465.75L64.95 465.91L65.69 465.56L66.43 465.58L67.17 465.64L67.9 465.32L68.64 465.28L69.38 465.14L70.12 465.58L70.85 465.31L71.59 465.39L72.33 465.19L73.07 465.39L73.8 465.5L74.54 465.57L75.28 465.39L76.02 465.2L76.76 465.29L77.49 465.54L78.23 465.55L78.97 465.03L79.71 465.34L80.44 465.03L81.18 465.44L81.92 465.46L82.66 465.67L83.39 465.06L84.13 465.51L84.87 465.33L85.61 465.1L86.34 465.2L87.08 465.25L87.82 465.5L88.56 464.96L89.29 465.25L90.03 464.96L90.77 465.33L91.51 464.93L92.24 465.11L92.98 465.2L93.72 465.45L94.46 464.91L95.2 465.57L95.93 464.81L96.67 465.12L97.41 464.84L98.15 464.88L98.88 464.7L99.62 465.41L100.36 464.99L101.1 465.09L101.83 465.18L102.57 464.99L103.31 465.09L104.05 464.72L104.78 465.18L105.52 465.01L106.26 464.76L107 465.14L107.73 464.83L108.47 464.8L109.21 465.07L109.95 465.05L110.68 465.03L111.42 464.79L112.16 464.91L112.9 465.39L113.64 464.77L114.37 465.36L115.11 465.16L115.85 465.39L116.59 465.18L117.32 464.99L118.06 464.93L118.8 464.96L119.54 465.25L120.27 464.91L121.01 464.83L121.75 465.37L122.49 464.88L123.22 465.05L123.96 465.13L124.7 465.11L125.44 465.02L126.17 465.04L126.91 464.86L127.65 464.95L128.39 464.97L129.12 465.01L129.86 464.94L130.6 464.71L131.34 464.66L132.08 464.76L132.81 465.09L133.55 464.61L134.29 464.98L135.03 465.16L135.76 464.97L136.5 464.81L137.24 464.89L137.98 464.89L138.71 465.08L139.45 464.74L140.19 464.92L140.93 464.91L141.66 464.74L142.4 464.65L143.14 464.98L143.88 464.87L144.61 464.79L145.35 464.89L146.09 464.88L146.83 464.78L147.56 464.94L148.3 464.82L149.04 465.24L149.78 464.91L150.52 464.59L151.25 464.92L151.99 465.04L152.73 465.18L153.47 464.62L154.2 464.84L154.94 464.57L155.68 464.57L156.42 464.81L157.15 464.62L157.89 464.85L158.63 464.83L159.37 464.98L160.1 464.95L160.84 464.66L161.58 464.67L162.32 464.92L163.05 464.56L163.79 464.72L164.53 465.02L165.27 464.92L166.01 464.94L166.74 464.75L167.48 464.81L168.22 464.92L168.96 464.78L169.69 464.64L170.43 464.64L171.17 464.71" fill="none" stroke="#e0303c" stroke-width="1.2" stroke-linejoin="round" stroke-opacity="0.6"/>
<rect x="22.8" y="437.52" width="155.4" height="33.8" fill="none" stroke="#4a4a4a" stroke-width="0.9"/>
<line x1="21.2" y1="465.89" x2="22.8" y2="465.89" stroke="#4a4a4a" stroke-width="0.7"/>
<text x="19.7" y="468.09" font-size="5.2" text-anchor="end" style="stroke-width:0.05px">0</text>
<line x1="21.2" y1="454.62" x2="22.8" y2="454.62" stroke="#4a4a4a" stroke-width="0.7"/>
<text x="19.7" y="456.82" font-size="5.2" text-anchor="end" style="stroke-width:0.05px">20</text>
<line x1="21.2" y1="443.35" x2="22.8" y2="443.35" stroke="#4a4a4a" stroke-width="0.7"/>
<text x="19.7" y="445.55" font-size="5.2" text-anchor="end" style="stroke-width:0.05px">40</text>
<line x1="25.4" y1="471.32" x2="25.4" y2="473.12" stroke="#4a4a4a" stroke-width="0.7"/>
<line x1="48.45" y1="471.32" x2="48.45" y2="473.12" stroke="#4a4a4a" stroke-width="0.7"/>
<line x1="71.5" y1="471.32" x2="71.5" y2="473.12" stroke="#4a4a4a" stroke-width="0.7"/>
<line x1="94.55" y1="471.32" x2="94.55" y2="473.12" stroke="#4a4a4a" stroke-width="0.7"/>
<line x1="117.6" y1="471.32" x2="117.6" y2="473.12" stroke="#4a4a4a" stroke-width="0.7"/>
<line x1="140.65" y1="471.32" x2="140.65" y2="473.12" stroke="#4a4a4a" stroke-width="0.7"/>
<line x1="163.7" y1="471.32" x2="163.7" y2="473.12" stroke="#4a4a4a" stroke-width="0.7"/>
<text x="27.9" y="452.02" font-size="5.7" textLength="18.6" lengthAdjust="spacingAndGlyphs" style="stroke-width:0.24px">FBG 15</text>
<rect x="48.45" y="476.34" width="92.2" height="33.8" fill="#d3d3d3"/>
<path d="M29.55 504.76L30.29 504.8L31.02 504.77L31.76 504.66L32.5 504.69L33.24 504.5L33.97 504.61L34.71 504.68L35.45 504.76L36.19 504.91L36.93 504.87L37.66 504.7L38.4 504.54L39.14 504.44L39.88 504.55L40.61 504.56L41.35 504.59L42.09 504.59L42.83 504.58L43.56 504.68L44.3 504.69L45.04 504.43L45.78 504.56L46.51 504.11L47.25 504.3L47.99 503.97L48.73 503.66L49.46 503.43L50.2 502.79L50.94 503.31L51.68 502.91L52.41 503.1L53.15 503.15L53.89 502.84L54.63 503.16L55.37 502.74L56.1 502.67L56.84 502.9L57.58 502.87L58.32 502.71L59.05 502.67L59.79 502.52L60.53 502.8L61.27 502.53L62 502.78L62.74 502.6L63.48 502.48L64.22 502.28L64.95 501.99L65.69 502.22L66.43 502.01L67.17 501.8L67.9 502.06L68.64 502.13L69.38 501.9L70.12 501.77L70.85 502.02L71.59 501.84L72.33 501.67L73.07 501.79L73.8 501.71L74.54 501.65L75.28 501.48L76.02 501.36L76.76 501.64L77.49 501.66L78.23 501.7L78.97 501.1L79.71 501.08L80.44 501.6L81.18 501.27L81.92 501.27L82.66 501.37L83.39 500.77L84.13 500.97L84.87 500.71L85.61 500.3L86.34 500.79L87.08 500.97L87.82 501.04L88.56 500.27L89.29 500.46L90.03 500.7L90.77 500.6L91.51 500.51L92.24 500.07L92.98 500.03L93.72 500.5L94.46 499.97L95.2 500.13L95.93 500.24L96.67 499.97L97.41 499.79L98.15 499.92L98.88 499.99L99.62 499.72L100.36 500.36L101.1 499.83L101.83 499.83L102.57 499.44L103.31 499.91L104.05 499.94L104.78 499.5L105.52 499.67L106.26 499.44L107 499.51L107.73 499.75L108.47 499.26L109.21 499.13L109.95 499.38L110.68 499.36L111.42 499.47L112.16 498.75L112.9 498.95L113.64 498.95L114.37 499.07L115.11 499.02L115.85 498.66L116.59 498.3L117.32 498.99L118.06 498.64L118.8 498.48L119.54 498.58L120.27 498.54L121.01 498.42L121.75 497.98L122.49 498.32L123.22 498.48L123.96 498.58L124.7 498.53L125.44 498.67L126.17 498.07L126.91 498.01L127.65 498.01L128.39 497.69L129.12 497.69L129.86 497.89L130.6 498.16L131.34 497.5L132.08 497.59L132.81 497.69L133.55 498.18L134.29 497.37L135.03 497.75L135.76 497.99L136.5 497.52L137.24 497.21L137.98 497.12L138.71 497.48L139.45 497.12L140.19 497.28L140.93 497.27L141.66 497.4L142.4 496.77L143.14 497.46L143.88 496.72L144.61 496.98L145.35 497.04L146.09 497.03L146.83 496.75L147.56 496.89L148.3 496.95L149.04 496.67L149.78 496.52L150.52 496.37L151.25 496.51L151.99 496.62L152.73 496.59L153.47 496.29L154.2 496.14L154.94 496.2L155.68 496.07L156.42 495.9L157.15 495.78L157.89 495.72L158.63 495.53L159.37 495.73L160.1 495.92L160.84 495.53L161.58 495.58L162.32 495.59L163.05 495.26L163.79 495.7L164.53 495.39L165.27 495.29L166.01 494.96L166.74 495.28L167.48 494.93L168.22 494.66L168.96 494.82L169.69 494.65L170.43 494.79L171.17 494.73" fill="none" stroke="#878818" stroke-width="1.4" stroke-linejoin="round" stroke-opacity="0.9"/>
<line x1="29.55" y1="504.5" x2="171.54" y2="504.5" stroke="#111" stroke-width="1.15"/>
<path d="M29.55 504.61L30.29 504.76L31.02 504.87L31.76 504.61L32.5 504.8L33.24 504.71L33.97 504.69L34.71 504.58L35.45 504.53L36.19 504.77L36.93 504.63L37.66 504.75L38.4 504.62L39.14 504.67L39.88 504.62L40.61 504.8L41.35 504.67L42.09 504.65L42.83 504.67L43.56 504.58L44.3 504.67L45.04 504.81L45.78 504.85L46.51 504.9L47.25 504.53L47.99 504.63L48.73 504.92L49.46 504.79L50.2 504.71L50.94 504.81L51.68 504.97L52.41 504.77L53.15 504.4L53.89 504.65L54.63 504.59L55.37 504.8L56.1 504.46L56.84 504.79L57.58 504.58L58.32 504.37L59.05 504.74L59.79 504.69L60.53 504.6L61.27 504.77L62 505.1L62.74 504.72L63.48 504.96L64.22 504.37L64.95 504.73L65.69 504.5L66.43 504.51L67.17 504.87L67.9 504.5L68.64 504.51L69.38 504.43L70.12 504.7L70.85 504.81L71.59 504.79L72.33 504.78L73.07 504.76L73.8 504.85L74.54 504.44L75.28 504.71L76.02 504.58L76.76 504.63L77.49 504.68L78.23 504.73L78.97 504.63L79.71 504.88L80.44 504.76L81.18 504.48L81.92 504.51L82.66 504.85L83.39 504.84L84.13 504.53L84.87 504.83L85.61 504.74L86.34 504.69L87.08 504.83L87.82 504.66L88.56 504.54L89.29 504.76L90.03 504.6L90.77 504.59L91.51 504.52L92.24 504.9L92.98 504.29L93.72 504.79L94.46 504.64L95.2 504.84L95.93 504.59L96.67 504.29L97.41 504.51L98.15 505.23L98.88 504.65L99.62 504.72L100.36 504.73L101.1 504.53L101.83 504.63L102.57 504.56L103.31 504.52L104.05 504.56L104.78 504.53L105.52 504.53L106.26 504.68L107 504.72L107.73 504.61L108.47 504.65L109.21 504.53L109.95 504.72L110.68 504.49L111.42 504.7L112.16 505.2L112.9 504.53L113.64 504.4L114.37 505.04L115.11 504.99L115.85 504.34L116.59 504.49L117.32 504.79L118.06 504.47L118.8 504.69L119.54 504.89L120.27 504.87L121.01 504.36L121.75 504.72L122.49 504.67L123.22 504.55L123.96 504.47L124.7 504.44L125.44 504.96L126.17 504.45L126.91 504.37L127.65 504.53L128.39 504.56L129.12 504.69L129.86 504.82L130.6 504.78L131.34 504.5L132.08 504.77L132.81 504.53L133.55 504.68L134.29 504.13L135.03 504.34L135.76 504.47L136.5 504.5L137.24 504.41L137.98 504.47L138.71 504.55L139.45 504.61L140.19 504.61L140.93 504.81L141.66 504.44L142.4 504.66L143.14 504.61L143.88 504.73L144.61 504.49L145.35 504.44L146.09 504.94L146.83 504.86L147.56 504.76L148.3 505.03L149.04 504.28L149.78 504.65L150.52 504.97L151.25 504.41L151.99 504.3L152.73 504.71L153.47 504.82L154.2 504.45L154.94 504.65L155.68 504.37L156.42 504.38L157.15 504.46L157.89 504.04L158.63 504.36L159.37 504.67L160.1 504.46L160.84 504.81L161.58 504.34L162.32 504.68L163.05 504.37L163.79 503.96L164.53 504.56L165.27 504.45L166.01 504.49L166.74 504.83L167.48 504.45L168.22 504.65L168.96 504.21L169.69 504.71L170.43 504.56L171.17 504.57" fill="none" stroke="#e0303c" stroke-width="1.2" stroke-linejoin="round" stroke-opacity="0.6"/>
<rect x="22.8" y="476.34" width="155.4" height="33.8" fill="none" stroke="#4a4a4a" stroke-width="0.9"/>
<line x1="21.2" y1="504.71" x2="22.8" y2="504.71" stroke="#4a4a4a" stroke-width="0.7"/>
<text x="19.7" y="506.91" font-size="5.2" text-anchor="end" style="stroke-width:0.05px">0</text>
<line x1="21.2" y1="493.44" x2="22.8" y2="493.44" stroke="#4a4a4a" stroke-width="0.7"/>
<text x="19.7" y="495.64" font-size="5.2" text-anchor="end" style="stroke-width:0.05px">20</text>
<line x1="21.2" y1="482.17" x2="22.8" y2="482.17" stroke="#4a4a4a" stroke-width="0.7"/>
<text x="19.7" y="484.37" font-size="5.2" text-anchor="end" style="stroke-width:0.05px">40</text>
<line x1="25.4" y1="510.14" x2="25.4" y2="511.94" stroke="#4a4a4a" stroke-width="0.7"/>
<line x1="48.45" y1="510.14" x2="48.45" y2="511.94" stroke="#4a4a4a" stroke-width="0.7"/>
<line x1="71.5" y1="510.14" x2="71.5" y2="511.94" stroke="#4a4a4a" stroke-width="0.7"/>
<line x1="94.55" y1="510.14" x2="94.55" y2="511.94" stroke="#4a4a4a" stroke-width="0.7"/>
<line x1="117.6" y1="510.14" x2="117.6" y2="511.94" stroke="#4a4a4a" stroke-width="0.7"/>
<line x1="140.65" y1="510.14" x2="140.65" y2="511.94" stroke="#4a4a4a" stroke-width="0.7"/>
<line x1="163.7" y1="510.14" x2="163.7" y2="511.94" stroke="#4a4a4a" stroke-width="0.7"/>
<text x="27.9" y="490.84" font-size="5.7" textLength="18.6" lengthAdjust="spacingAndGlyphs" style="stroke-width:0.24px">FBG 16</text>
<text x="25.4" y="518.24" font-size="5.1" text-anchor="middle" style="stroke-width:0.05px">0</text>
<text x="48.45" y="518.24" font-size="5.1" text-anchor="middle" style="stroke-width:0.05px">50</text>
<text x="71.5" y="518.24" font-size="5.1" text-anchor="middle" style="stroke-width:0.05px">100</text>
<text x="94.55" y="518.24" font-size="5.1" text-anchor="middle" style="stroke-width:0.05px">150</text>
<text x="117.6" y="518.24" font-size="5.1" text-anchor="middle" style="stroke-width:0.05px">200</text>
<text x="140.65" y="518.24" font-size="5.1" text-anchor="middle" style="stroke-width:0.05px">250</text>
<text x="163.7" y="518.24" font-size="5.1" text-anchor="middle" style="stroke-width:0.05px">300</text>
<text x="100.9" y="524.7" font-size="6.4" text-anchor="middle" textLength="24.6" lengthAdjust="spacingAndGlyphs" style="stroke-width:0.2px">Time [s]</text>
<text x="100.5" y="7.9" font-size="6.5" text-anchor="middle" textLength="28.8" lengthAdjust="spacingAndGlyphs" style="stroke-width:0.05px">Irradiation</text>
<text transform="translate(8.4,260.3) rotate(-90)" font-size="6.4" text-anchor="middle" textLength="29.8" lengthAdjust="spacingAndGlyphs">Dose [Gy]</text>
<rect x="135.8" y="12.1" width="41.3" height="15.9" rx="1" fill="#fff" fill-opacity="0.85" stroke="#dcdcdc" stroke-width="0.6"/>
<line x1="137.2" y1="16.9" x2="147.3" y2="16.9" stroke="#a8a838" stroke-width="1.3"/>
<line x1="137.2" y1="23.6" x2="147.3" y2="23.6" stroke="#e8707c" stroke-width="1.3"/>
<text x="150.9" y="18.5" font-size="5" textLength="9.6" lengthAdjust="spacingAndGlyphs" style="stroke-width:0.14px">Raw</text>
<text x="150.9" y="25.4" font-size="5" textLength="22.6" lengthAdjust="spacingAndGlyphs" style="stroke-width:0.14px">Corrected</text>
<rect x="272.15" y="10.5" width="92.2" height="33.8" fill="#d3d3d3"/>
<path d="M253.25 38.86L253.99 38.97L254.72 38.8L255.46 38.78L256.2 38.76L256.94 38.88L257.67 39.09L258.41 38.79L259.15 38.87L259.89 38.95L260.62 38.91L261.36 38.71L262.1 39.01L262.84 38.87L263.58 38.87L264.31 38.88L265.05 38.68L265.79 38.96L266.53 38.88L267.26 38.81L268 39.02L268.74 38.74L269.48 38.81L270.21 38.6L270.95 38.93L271.69 39.14L272.43 38.68L273.16 38.98L273.9 38.8L274.64 38.94L275.38 38.45L276.11 38.67L276.85 38.73L277.59 38.31L278.33 38.86L279.06 38.58L279.8 38.73L280.54 38.8L281.28 38.56L282.02 38.79L282.75 38.55L283.49 38.69L284.23 38.62L284.97 38.62L285.7 39.03L286.44 38.74L287.18 38.44L287.92 37.99L288.65 38.66L289.39 38.64L290.13 38.72L290.87 38.71L291.6 38.62L292.34 38.8L293.08 38.39L293.82 38.67L294.55 38.76L295.29 38.59L296.03 38.77L296.77 38.55L297.5 38.28L298.24 38.34L298.98 38.39L299.72 38.14L300.46 39L301.19 38.21L301.93 38.4L302.67 38.3L303.41 38.14L304.14 37.77L304.88 37.99L305.62 37.46L306.36 37.45L307.09 37.96L307.83 38.02L308.57 37.47L309.31 37.72L310.04 37.17L310.78 37.36L311.52 37.48L312.26 36.76L312.99 36.96L313.73 37.62L314.47 37.38L315.21 36.92L315.94 37.43L316.68 36.9L317.42 36.87L318.16 37.23L318.9 36.53L319.63 36.83L320.37 36.91L321.11 36.43L321.85 36.33L322.58 36.54L323.32 36.56L324.06 36.52L324.8 36.31L325.53 36.39L326.27 36.28L327.01 36.34L327.75 36.09L328.48 35.56L329.22 35.86L329.96 35.71L330.7 35.53L331.43 35.92L332.17 36.04L332.91 35.93L333.65 35.57L334.38 35.71L335.12 35.32L335.86 35.35L336.6 35.27L337.34 35.58L338.07 35.37L338.81 35.14L339.55 35.32L340.29 35.46L341.02 35.41L341.76 35.12L342.5 35.33L343.24 35.21L343.97 34.86L344.71 34.87L345.45 34.89L346.19 35.15L346.92 34.86L347.66 34.89L348.4 34.5L349.14 34.67L349.87 34.83L350.61 34.55L351.35 34.08L352.09 34.17L352.82 34.52L353.56 33.99L354.3 33.4L355.04 34.25L355.78 33.74L356.51 33.63L357.25 33.78L357.99 34.3L358.73 33.95L359.46 33.72L360.2 33.62L360.94 33.72L361.68 33.34L362.41 33.57L363.15 33.62L363.89 33.32L364.63 33.76L365.36 32.61L366.1 33.05L366.84 32.96L367.58 32.98L368.31 32.63L369.05 32.72L369.79 32.68L370.53 32.83L371.26 33.25L372 32.89L372.74 32.56L373.48 32.69L374.22 32.93L374.95 32.26L375.69 32.13L376.43 32.43L377.17 32.25L377.9 32.15L378.64 32.37L379.38 31.73L380.12 31.76L380.85 31.8L381.59 31.81L382.33 31.72L383.07 31.48L383.8 31.23L384.54 31.4L385.28 31.19L386.02 31.12L386.75 31.41L387.49 31.27L388.23 31.25L388.97 31.37L389.71 31.08L390.44 31.22L391.18 30.87L391.92 30.55L392.66 30.64L393.39 30.9L394.13 30.34L394.87 30.58" fill="none" stroke="#878818" stroke-width="1.4" stroke-linejoin="round" stroke-opacity="0.9"/>
<line x1="253.25" y1="38.5" x2="395.24" y2="38.5" stroke="#111" stroke-width="1.15"/>
<path d="M253.25 38.65L253.99 39.05L254.72 38.82L255.46 38.95L256.2 38.88L256.94 38.94L257.67 38.84L258.41 38.96L259.15 38.89L259.89 38.91L260.62 38.52L261.36 38.76L262.1 38.9L262.84 39.04L263.58 38.95L264.31 38.94L265.05 38.95L265.79 39.05L266.53 38.88L267.26 38.78L268 38.84L268.74 38.77L269.48 38.82L270.21 38.67L270.95 38.85L271.69 38.76L272.43 38.75L273.16 38.74L273.9 38.91L274.64 39.13L275.38 38.63L276.11 38.85L276.85 38.75L277.59 39.12L278.33 38.76L279.06 38.85L279.8 38.74L280.54 38.74L281.28 38.83L282.02 39.09L282.75 38.72L283.49 38.96L284.23 38.66L284.97 38.86L285.7 39.05L286.44 38.96L287.18 39.22L287.92 38.61L288.65 39.04L289.39 39.08L290.13 39.11L290.87 39.2L291.6 38.61L292.34 38.83L293.08 38.72L293.82 38.73L294.55 38.73L295.29 38.67L296.03 39.06L296.77 38.5L297.5 38.86L298.24 38.78L298.98 38.86L299.72 38.94L300.46 38.9L301.19 38.83L301.93 39.19L302.67 38.63L303.41 38.97L304.14 39.04L304.88 38.85L305.62 39.02L306.36 38.66L307.09 38.85L307.83 39.02L308.57 39.19L309.31 38.96L310.04 38.88L310.78 38.6L311.52 38.95L312.26 38.73L312.99 38.78L313.73 38.45L314.47 38.75L315.21 38.87L315.94 39.09L316.68 39.07L317.42 38.88L318.16 38.69L318.9 39.16L319.63 38.88L320.37 39.03L321.11 38.88L321.85 38.98L322.58 39.09L323.32 38.86L324.06 39.09L324.8 38.82L325.53 39.03L326.27 39.24L327.01 39.34L327.75 39.04L328.48 38.59L329.22 38.94L329.96 38.93L330.7 39.09L331.43 39.03L332.17 38.61L332.91 38.78L333.65 39.08L334.38 39.37L335.12 38.81L335.86 38.79L336.6 39.09L337.34 39.02L338.07 38.8L338.81 38.8L339.55 39.14L340.29 38.84L341.02 39.13L341.76 38.86L342.5 39.24L343.24 38.94L343.97 38.94L344.71 38.71L345.45 38.75L346.19 39.23L346.92 38.84L347.66 39.38L348.4 39.32L349.14 38.91L349.87 38.9L350.61 39.12L351.35 38.92L352.09 39.17L352.82 39.05L353.56 38.99L354.3 38.96L355.04 39.12L355.78 39.17L356.51 38.85L357.25 38.91L357.99 39.49L358.73 38.75L359.46 39.17L360.2 39.02L360.94 38.71L361.68 39.08L362.41 39.08L363.15 38.81L363.89 39.05L364.63 39.48L365.36 39.04L366.1 38.91L366.84 38.76L367.58 38.55L368.31 39.18L369.05 39.25L369.79 38.85L370.53 39.04L371.26 39L372 38.61L372.74 39.17L373.48 38.84L374.22 39.03L374.95 39.31L375.69 39.07L376.43 38.72L377.17 39.27L377.9 38.68L378.64 38.87L379.38 39.03L380.12 38.88L380.85 39.05L381.59 38.97L382.33 39.04L383.07 38.77L383.8 39.11L384.54 38.87L385.28 39.21L386.02 38.95L386.75 38.89L387.49 38.86L388.23 38.99L388.97 38.94L389.71 39.4L390.44 39.04L391.18 38.97L391.92 38.57L392.66 39.12L393.39 38.82L394.13 38.94L394.87 39.19" fill="none" stroke="#e0303c" stroke-width="1.2" stroke-linejoin="round" stroke-opacity="0.6"/>
<rect x="246.5" y="10.5" width="154.7" height="33.8" fill="none" stroke="#4a4a4a" stroke-width="0.9"/>
<line x1="244.9" y1="38.87" x2="246.5" y2="38.87" stroke="#4a4a4a" stroke-width="0.7"/>
<text x="243.4" y="41.07" font-size="5.2" text-anchor="end" style="stroke-width:0.05px">0</text>
<line x1="244.9" y1="27.6" x2="246.5" y2="27.6" stroke="#4a4a4a" stroke-width="0.7"/>
<text x="243.4" y="29.8" font-size="5.2" text-anchor="end" style="stroke-width:0.05px">20</text>
<line x1="244.9" y1="16.33" x2="246.5" y2="16.33" stroke="#4a4a4a" stroke-width="0.7"/>
<text x="243.4" y="18.53" font-size="5.2" text-anchor="end" style="stroke-width:0.05px">40</text>
<line x1="249.1" y1="44.3" x2="249.1" y2="46.1" stroke="#4a4a4a" stroke-width="0.7"/>
<line x1="272.15" y1="44.3" x2="272.15" y2="46.1" stroke="#4a4a4a" stroke-width="0.7"/>
<line x1="295.2" y1="44.3" x2="295.2" y2="46.1" stroke="#4a4a4a" stroke-width="0.7"/>
<line x1="318.25" y1="44.3" x2="318.25" y2="46.1" stroke="#4a4a4a" stroke-width="0.7"/>
<line x1="341.3" y1="44.3" x2="341.3" y2="46.1" stroke="#4a4a4a" stroke-width="0.7"/>
<line x1="364.35" y1="44.3" x2="364.35" y2="46.1" stroke="#4a4a4a" stroke-width="0.7"/>
<line x1="387.4" y1="44.3" x2="387.4" y2="46.1" stroke="#4a4a4a" stroke-width="0.7"/>
<text x="251.6" y="25" font-size="5.7" textLength="15.6" lengthAdjust="spacingAndGlyphs" style="stroke-width:0.24px">FBG 4</text>
<rect x="272.15" y="49.32" width="92.2" height="33.8" fill="#d3d3d3"/>
<path d="M253.25 77.94L253.99 77.68L254.72 77.58L255.46 77.64L256.2 77.73L256.94 77.56L257.67 77.85L258.41 77.74L259.15 77.76L259.89 77.44L260.62 77.5L261.36 77.74L262.1 77.84L262.84 77.81L263.58 77.54L264.31 77.63L265.05 77.78L265.79 77.65L266.53 77.73L267.26 77.79L268 77.64L268.74 77.72L269.48 77.7L270.21 77.43L270.95 77.61L271.69 77.6L272.43 77.72L273.16 77.67L273.9 77.14L274.64 76.99L275.38 76.92L276.11 77.23L276.85 76.99L277.59 76.86L278.33 76.27L279.06 76.68L279.8 76.24L280.54 76.47L281.28 76.05L282.02 75.7L282.75 76.06L283.49 75.48L284.23 75.5L284.97 75.39L285.7 75.54L286.44 75.38L287.18 75.11L287.92 74.93L288.65 75.48L289.39 74.86L290.13 74.63L290.87 74.86L291.6 74.89L292.34 74.85L293.08 74.75L293.82 74.63L294.55 74.22L295.29 74.52L296.03 74.23L296.77 73.92L297.5 74.04L298.24 74.03L298.98 73.52L299.72 73.83L300.46 73.91L301.19 73.65L301.93 73.56L302.67 73.27L303.41 73.44L304.14 73.62L304.88 73.44L305.62 73.13L306.36 73.16L307.09 72.91L307.83 73.13L308.57 72.55L309.31 72.17L310.04 72.57L310.78 72.3L311.52 72.43L312.26 72.45L312.99 72.02L313.73 72.22L314.47 71.81L315.21 71.57L315.94 71.82L316.68 71.46L317.42 72L318.16 71.73L318.9 71.72L319.63 71.73L320.37 71.65L321.11 71.28L321.85 71.51L322.58 71.14L323.32 71.28L324.06 70.86L324.8 70.86L325.53 70.58L326.27 70.69L327.01 70.49L327.75 70.37L328.48 69.98L329.22 70.39L329.96 70.24L330.7 70.04L331.43 69.96L332.17 69.88L332.91 69.76L333.65 69.89L334.38 69.58L335.12 69.42L335.86 69.59L336.6 69.64L337.34 69.58L338.07 68.9L338.81 68.86L339.55 68.65L340.29 68.87L341.02 68.57L341.76 68.26L342.5 68.45L343.24 68.01L343.97 68.22L344.71 68L345.45 67.85L346.19 67.83L346.92 68L347.66 67.76L348.4 67.17L349.14 67.55L349.87 66.86L350.61 67.22L351.35 67.18L352.09 66.79L352.82 67.01L353.56 67.27L354.3 66.93L355.04 66.82L355.78 66.15L356.51 66.57L357.25 65.94L357.99 66.76L358.73 66.17L359.46 65.68L360.2 66.07L360.94 65.72L361.68 65.57L362.41 65.46L363.15 65.69L363.89 65.4L364.63 65.18L365.36 65.33L366.1 65.29L366.84 65.35L367.58 65.31L368.31 65.42L369.05 65.11L369.79 65.12L370.53 65.36L371.26 65.42L372 64.97L372.74 64.92L373.48 64.79L374.22 64.9L374.95 64.73L375.69 64.72L376.43 65.38L377.17 64.46L377.9 64.93L378.64 64.54L379.38 64.68L380.12 64.85L380.85 64.51L381.59 64.97L382.33 64.52L383.07 64.26L383.8 64.52L384.54 64.15L385.28 64.33L386.02 64.12L386.75 64.53L387.49 64.26L388.23 64.95L388.97 64.13L389.71 64.35L390.44 64.42L391.18 64.35L391.92 64.39L392.66 64.15L393.39 63.88L394.13 64.03L394.87 63.55" fill="none" stroke="#878818" stroke-width="1.4" stroke-linejoin="round" stroke-opacity="0.9"/>
<line x1="253.25" y1="77.5" x2="395.24" y2="77.5" stroke="#111" stroke-width="1.15"/>
<line x1="253.25" y1="66.5" x2="395.24" y2="66.5" stroke="#111" stroke-width="1.15"/>
<path d="M253.25 77.65L253.99 77.68L254.72 77.72L255.46 77.82L256.2 77.84L256.94 77.79L257.67 77.79L258.41 77.78L259.15 77.68L259.89 77.71L260.62 77.65L261.36 77.71L262.1 77.62L262.84 77.77L263.58 77.65L264.31 77.8L265.05 77.4L265.79 77.67L266.53 77.59L267.26 77.65L268 77.77L268.74 77.57L269.48 77.65L270.21 77.88L270.95 77.39L271.69 77.77L272.43 77.51L273.16 77.87L273.9 77.54L274.64 77.41L275.38 77.34L276.11 77.31L276.85 77.4L277.59 76.85L278.33 77.25L279.06 77.12L279.8 76.99L280.54 76.91L281.28 76.8L282.02 76.99L282.75 76.83L283.49 76.66L284.23 76.74L284.97 76.14L285.7 76.62L286.44 76.41L287.18 76.45L287.92 75.95L288.65 76.18L289.39 75.59L290.13 75.91L290.87 75.68L291.6 75.66L292.34 75.94L293.08 75.32L293.82 75.72L294.55 75.59L295.29 74.95L296.03 75.31L296.77 75.33L297.5 75.29L298.24 74.99L298.98 74.56L299.72 75.01L300.46 75.22L301.19 75.14L301.93 74.38L302.67 74.42L303.41 74.41L304.14 74.09L304.88 74.45L305.62 74.17L306.36 74.01L307.09 74.04L307.83 73.74L308.57 74.03L309.31 74.1L310.04 73.83L310.78 73.65L311.52 73.84L312.26 73.14L312.99 73.48L313.73 73.64L314.47 73.47L315.21 73.32L315.94 73L316.68 73.04L317.42 72.99L318.16 72.87L318.9 72.92L319.63 72.6L320.37 72.83L321.11 72.47L321.85 72.46L322.58 72.66L323.32 72.14L324.06 72.41L324.8 72.26L325.53 71.89L326.27 72.04L327.01 72.02L327.75 71.96L328.48 72.23L329.22 71.7L329.96 71.87L330.7 71.47L331.43 71.43L332.17 71.5L332.91 71.3L333.65 71.07L334.38 70.88L335.12 70.69L335.86 70.81L336.6 70.65L337.34 70.61L338.07 70.11L338.81 70.2L339.55 70.44L340.29 70.13L341.02 70.13L341.76 70.19L342.5 70.16L343.24 70.02L343.97 69.75L344.71 70.06L345.45 69.58L346.19 69.65L346.92 69.47L347.66 69.39L348.4 69.43L349.14 69.49L349.87 69.17L350.61 69.39L351.35 69.49L352.09 69.4L352.82 68.79L353.56 68.57L354.3 68.56L355.04 68.8L355.78 68.55L356.51 68.17L357.25 68.48L357.99 68.33L358.73 68.16L359.46 68.23L360.2 68.09L360.94 68.12L361.68 68.14L362.41 67.76L363.15 67.78L363.89 67.41L364.63 67.49L365.36 67.67L366.1 68.02L366.84 67.96L367.58 67.41L368.31 67.33L369.05 67.42L369.79 67.79L370.53 67.51L371.26 67.62L372 67.63L372.74 67.43L373.48 67.53L374.22 67.22L374.95 67.58L375.69 67.67L376.43 67.57L377.17 67.85L377.9 67.87L378.64 67.68L379.38 67.81L380.12 67.48L380.85 67.81L381.59 67.75L382.33 67.63L383.07 67.47L383.8 67.55L384.54 67.4L385.28 67.96L386.02 67.76L386.75 67.83L387.49 67.87L388.23 67.63L388.97 67.46L389.71 67.38L390.44 67.45L391.18 67.41L391.92 67.8L392.66 67.83L393.39 67.67L394.13 67.99L394.87 67.75" fill="none" stroke="#e0303c" stroke-width="1.2" stroke-linejoin="round" stroke-opacity="0.6"/>
<rect x="246.5" y="49.32" width="154.7" height="33.8" fill="none" stroke="#4a4a4a" stroke-width="0.9"/>
<line x1="244.9" y1="77.69" x2="246.5" y2="77.69" stroke="#4a4a4a" stroke-width="0.7"/>
<text x="243.4" y="79.89" font-size="5.2" text-anchor="end" style="stroke-width:0.05px">0</text>
<line x1="244.9" y1="66.42" x2="246.5" y2="66.42" stroke="#4a4a4a" stroke-width="0.7"/>
<text x="243.4" y="68.62" font-size="5.2" text-anchor="end" style="stroke-width:0.05px">20</text>
<line x1="244.9" y1="55.15" x2="246.5" y2="55.15" stroke="#4a4a4a" stroke-width="0.7"/>
<text x="243.4" y="57.35" font-size="5.2" text-anchor="end" style="stroke-width:0.05px">40</text>
<line x1="249.1" y1="83.12" x2="249.1" y2="84.92" stroke="#4a4a4a" stroke-width="0.7"/>
<line x1="272.15" y1="83.12" x2="272.15" y2="84.92" stroke="#4a4a4a" stroke-width="0.7"/>
<line x1="295.2" y1="83.12" x2="295.2" y2="84.92" stroke="#4a4a4a" stroke-width="0.7"/>
<line x1="318.25" y1="83.12" x2="318.25" y2="84.92" stroke="#4a4a4a" stroke-width="0.7"/>
<line x1="341.3" y1="83.12" x2="341.3" y2="84.92" stroke="#4a4a4a" stroke-width="0.7"/>
<line x1="364.35" y1="83.12" x2="364.35" y2="84.92" stroke="#4a4a4a" stroke-width="0.7"/>
<line x1="387.4" y1="83.12" x2="387.4" y2="84.92" stroke="#4a4a4a" stroke-width="0.7"/>
<text x="251.6" y="63.82" font-size="5.7" textLength="15.6" lengthAdjust="spacingAndGlyphs" style="stroke-width:0.24px">FBG 5</text>
<rect x="272.15" y="88.14" width="92.2" height="33.8" fill="#d3d3d3"/>
<path d="M253.25 116.66L253.99 116.5L254.72 116.44L255.46 116.47L256.2 116.72L256.94 116.58L257.67 116.53L258.41 116.38L259.15 116.53L259.89 116.46L260.62 116.55L261.36 116.34L262.1 116.59L262.84 116.42L263.58 116.66L264.31 116.53L265.05 116.63L265.79 116.62L266.53 116.38L267.26 116.61L268 116.73L268.74 116.6L269.48 116.64L270.21 116.41L270.95 116.23L271.69 116.35L272.43 116.89L273.16 116.55L273.9 115.98L274.64 115.9L275.38 115.79L276.11 116.05L276.85 115.57L277.59 115.48L278.33 114.92L279.06 115.15L279.8 114.63L280.54 115.05L281.28 114.68L282.02 114.61L282.75 114.29L283.49 114.17L284.23 113.96L284.97 114.39L285.7 114.03L286.44 113.9L287.18 113.62L287.92 113.85L288.65 113.15L289.39 113.01L290.13 113.21L290.87 113.32L291.6 113.17L292.34 113.02L293.08 112.89L293.82 112.59L294.55 113.11L295.29 112.61L296.03 112.18L296.77 112.58L297.5 112.44L298.24 112.09L298.98 111.94L299.72 111.93L300.46 112.21L301.19 111.72L301.93 112.11L302.67 111.57L303.41 111.63L304.14 111.79L304.88 111.81L305.62 111.37L306.36 111.19L307.09 110.9L307.83 110.96L308.57 110.9L309.31 111.18L310.04 110.75L310.78 111.1L311.52 110.37L312.26 110.63L312.99 110.08L313.73 110.42L314.47 110.46L315.21 110.29L315.94 109.78L316.68 110.32L317.42 110.08L318.16 109.78L318.9 109.88L319.63 109.4L320.37 108.97L321.11 109.62L321.85 109.13L322.58 109.35L323.32 109.1L324.06 108.94L324.8 109.31L325.53 108.86L326.27 108.61L327.01 108.56L327.75 108.63L328.48 108.31L329.22 108.36L329.96 107.95L330.7 107.95L331.43 107.89L332.17 107.55L332.91 107.84L333.65 107.71L334.38 107.1L335.12 106.97L335.86 106.84L336.6 107.01L337.34 106.85L338.07 107.02L338.81 106.67L339.55 105.95L340.29 106.2L341.02 106.39L341.76 106L342.5 105.79L343.24 105.58L343.97 105.87L344.71 105.75L345.45 105.42L346.19 105.12L346.92 105.12L347.66 104.57L348.4 104.69L349.14 104.53L349.87 104.71L350.61 104.71L351.35 104.58L352.09 103.62L352.82 104.22L353.56 103.63L354.3 103.47L355.04 103.89L355.78 103.74L356.51 103.46L357.25 103.41L357.99 103.04L358.73 103.52L359.46 102.81L360.2 102.75L360.94 102.17L361.68 102.64L362.41 102.87L363.15 102.71L363.89 102L364.63 102.05L365.36 102.09L366.1 102.15L366.84 102.12L367.58 101.91L368.31 102.55L369.05 102.31L369.79 102.34L370.53 101.87L371.26 101.64L372 101.72L372.74 101.22L373.48 101.87L374.22 101.71L374.95 101.55L375.69 101.71L376.43 101.09L377.17 101.45L377.9 101.42L378.64 101.61L379.38 101.25L380.12 101.38L380.85 101.67L381.59 101.3L382.33 101.58L383.07 101.21L383.8 101.45L384.54 101.41L385.28 101.33L386.02 101.29L386.75 101.06L387.49 100.96L388.23 101.22L388.97 100.72L389.71 101.11L390.44 100.58L391.18 100.63L391.92 100.72L392.66 101.1L393.39 100.87L394.13 100.35L394.87 100.86" fill="none" stroke="#878818" stroke-width="1.4" stroke-linejoin="round" stroke-opacity="0.9"/>
<line x1="253.25" y1="116.5" x2="395.24" y2="116.5" stroke="#111" stroke-width="1.15"/>
<line x1="253.25" y1="105.5" x2="395.24" y2="105.5" stroke="#111" stroke-width="1.15"/>
<path d="M253.25 116.3L253.99 116.48L254.72 116.53L255.46 116.66L256.2 116.27L256.94 116.48L257.67 116.57L258.41 116.69L259.15 116.41L259.89 116.45L260.62 116.5L261.36 116.53L262.1 116.6L262.84 116.57L263.58 116.59L264.31 116.65L265.05 116.51L265.79 116.51L266.53 116.55L267.26 116.74L268 116.64L268.74 116.47L269.48 116.52L270.21 116.64L270.95 116.53L271.69 116.35L272.43 116.48L273.16 116.23L273.9 116.42L274.64 116.15L275.38 116.18L276.11 116.32L276.85 116.02L277.59 116.04L278.33 115.73L279.06 115.69L279.8 115.72L280.54 115.35L281.28 115.83L282.02 115.27L282.75 115.57L283.49 115.42L284.23 115.02L284.97 115.04L285.7 114.79L286.44 114.91L287.18 114.76L287.92 114.36L288.65 114.56L289.39 114.16L290.13 114.44L290.87 114.19L291.6 114.13L292.34 113.83L293.08 113.88L293.82 113.88L294.55 114.01L295.29 113.25L296.03 113.45L296.77 113.48L297.5 113.52L298.24 113.02L298.98 113.55L299.72 113.19L300.46 112.78L301.19 112.74L301.93 112.82L302.67 112.59L303.41 112.19L304.14 112.55L304.88 112.59L305.62 112.35L306.36 112.34L307.09 111.96L307.83 111.97L308.57 111.75L309.31 112.26L310.04 111.81L310.78 111.51L311.52 111.75L312.26 111.4L312.99 111.45L313.73 111.49L314.47 111.18L315.21 110.93L315.94 111.06L316.68 110.92L317.42 110.74L318.16 110.59L318.9 110.58L319.63 110.45L320.37 110.68L321.11 110.36L321.85 110.34L322.58 109.67L323.32 110.09L324.06 109.69L324.8 109.97L325.53 109.9L326.27 109.52L327.01 109.49L327.75 109.29L328.48 109.2L329.22 108.98L329.96 108.9L330.7 109.23L331.43 108.89L332.17 108.52L332.91 108.78L333.65 108.68L334.38 108.4L335.12 108.21L335.86 108L336.6 108.08L337.34 107.83L338.07 107.91L338.81 107.8L339.55 107.41L340.29 107.51L341.02 107.35L341.76 107.4L342.5 107.11L343.24 106.82L343.97 107.42L344.71 106.92L345.45 106.67L346.19 106.54L346.92 106.14L347.66 106.17L348.4 105.83L349.14 105.94L349.87 105.85L350.61 105.52L351.35 106.05L352.09 105.34L352.82 105.77L353.56 105.42L354.3 105.17L355.04 105.24L355.78 105.68L356.51 105.11L357.25 105.62L357.99 105.28L358.73 105.5L359.46 105.15L360.2 105.32L360.94 105.3L361.68 105.5L362.41 105.4L363.15 105.35L363.89 105.18L364.63 105.13L365.36 105.06L366.1 105.03L366.84 105.3L367.58 105.22L368.31 105.01L369.05 105.26L369.79 105.62L370.53 105.08L371.26 105.09L372 105.08L372.74 105.19L373.48 105.36L374.22 105.21L374.95 105L375.69 104.98L376.43 105.17L377.17 104.92L377.9 105.16L378.64 105.15L379.38 105.11L380.12 104.9L380.85 105.12L381.59 105.17L382.33 105.4L383.07 105.38L383.8 105.12L384.54 105.35L385.28 104.94L386.02 105.15L386.75 105.44L387.49 105.11L388.23 105.07L388.97 104.81L389.71 105.21L390.44 105.39L391.18 105.31L391.92 105.16L392.66 105.14L393.39 105.26L394.13 105.35L394.87 105.16" fill="none" stroke="#e0303c" stroke-width="1.2" stroke-linejoin="round" stroke-opacity="0.6"/>
<rect x="246.5" y="88.14" width="154.7" height="33.8" fill="none" stroke="#4a4a4a" stroke-width="0.9"/>
<line x1="244.9" y1="116.51" x2="246.5" y2="116.51" stroke="#4a4a4a" stroke-width="0.7"/>
<text x="243.4" y="118.71" font-size="5.2" text-anchor="end" style="stroke-width:0.05px">0</text>
<line x1="244.9" y1="105.24" x2="246.5" y2="105.24" stroke="#4a4a4a" stroke-width="0.7"/>
<text x="243.4" y="107.44" font-size="5.2" text-anchor="end" style="stroke-width:0.05px">20</text>
<line x1="244.9" y1="93.97" x2="246.5" y2="93.97" stroke="#4a4a4a" stroke-width="0.7"/>
<text x="243.4" y="96.17" font-size="5.2" text-anchor="end" style="stroke-width:0.05px">40</text>
<line x1="249.1" y1="121.94" x2="249.1" y2="123.74" stroke="#4a4a4a" stroke-width="0.7"/>
<line x1="272.15" y1="121.94" x2="272.15" y2="123.74" stroke="#4a4a4a" stroke-width="0.7"/>
<line x1="295.2" y1="121.94" x2="295.2" y2="123.74" stroke="#4a4a4a" stroke-width="0.7"/>
<line x1="318.25" y1="121.94" x2="318.25" y2="123.74" stroke="#4a4a4a" stroke-width="0.7"/>
<line x1="341.3" y1="121.94" x2="341.3" y2="123.74" stroke="#4a4a4a" stroke-width="0.7"/>
<line x1="364.35" y1="121.94" x2="364.35" y2="123.74" stroke="#4a4a4a" stroke-width="0.7"/>
<line x1="387.4" y1="121.94" x2="387.4" y2="123.74" stroke="#4a4a4a" stroke-width="0.7"/>
<text x="251.6" y="102.64" font-size="5.7" textLength="15.6" lengthAdjust="spacingAndGlyphs" style="stroke-width:0.24px">FBG 6</text>
<rect x="272.15" y="126.96" width="92.2" height="33.8" fill="#d3d3d3"/>
<path d="M253.25 155.48L253.99 155.31L254.72 155.33L255.46 155.18L256.2 155.37L256.94 155.4L257.67 155.22L258.41 155.34L259.15 155.58L259.89 155.44L260.62 155.33L261.36 155.32L262.1 155.33L262.84 155.28L263.58 155.12L264.31 155.2L265.05 155.37L265.79 155.38L266.53 155.41L267.26 155.26L268 155.26L268.74 155.27L269.48 155.07L270.21 155.27L270.95 155.59L271.69 155.25L272.43 155.13L273.16 155.37L273.9 155.31L274.64 154.74L275.38 154.85L276.11 154.53L276.85 154.33L277.59 154.28L278.33 154.15L279.06 153.94L279.8 153.86L280.54 153.57L281.28 153.61L282.02 153.28L282.75 153.18L283.49 153.13L284.23 152.59L284.97 152.54L285.7 152.94L286.44 152.33L287.18 152.46L287.92 152.36L288.65 152.27L289.39 152.16L290.13 151.79L290.87 152.09L291.6 152.02L292.34 151.83L293.08 151.45L293.82 151.47L294.55 151.47L295.29 151.2L296.03 151.06L296.77 151.16L297.5 151.2L298.24 150.94L298.98 150.78L299.72 150.82L300.46 150.5L301.19 150.56L301.93 150.45L302.67 150.09L303.41 150.27L304.14 150.05L304.88 150.02L305.62 150.01L306.36 149.85L307.09 149.7L307.83 149.43L308.57 149.47L309.31 149.46L310.04 149.35L310.78 149.44L311.52 149.07L312.26 148.44L312.99 149.03L313.73 149.14L314.47 148.94L315.21 148.37L315.94 148.47L316.68 148.08L317.42 148.61L318.16 148.33L318.9 148.52L319.63 147.76L320.37 148.05L321.11 147.69L321.85 147.44L322.58 147.62L323.32 147.06L324.06 147.28L324.8 146.84L325.53 147.33L326.27 147.28L327.01 146.83L327.75 146.51L328.48 147.3L329.22 146.59L329.96 146.49L330.7 146.6L331.43 145.87L332.17 146L332.91 146.05L333.65 145.93L334.38 145.78L335.12 145.39L335.86 145.4L336.6 145.14L337.34 144.92L338.07 145.02L338.81 144.71L339.55 144.87L340.29 144.6L341.02 144.38L341.76 144.47L342.5 144.18L343.24 144.32L343.97 143.65L344.71 143.73L345.45 143.7L346.19 143.65L346.92 143.88L347.66 143.04L348.4 143.49L349.14 142.98L349.87 143.16L350.61 142.63L351.35 142.6L352.09 142.45L352.82 142.6L353.56 142.6L354.3 142.07L355.04 142.14L355.78 141.77L356.51 141.86L357.25 141.12L357.99 141.84L358.73 141.25L359.46 141.31L360.2 141.29L360.94 141.19L361.68 140.69L362.41 141.01L363.15 140.62L363.89 140.4L364.63 140.18L365.36 140.39L366.1 140.53L366.84 140.67L367.58 140.12L368.31 140.42L369.05 140.46L369.79 139.9L370.53 139.95L371.26 140.11L372 140.19L372.74 139.83L373.48 139.58L374.22 140.36L374.95 139.84L375.69 139.46L376.43 139.68L377.17 139.97L377.9 139.89L378.64 139.86L379.38 139.99L380.12 139.62L380.85 138.97L381.59 139.43L382.33 139.55L383.07 139.3L383.8 139.91L384.54 139.25L385.28 138.95L386.02 139.25L386.75 139.27L387.49 139.32L388.23 139.44L388.97 139.41L389.71 139.06L390.44 139.43L391.18 139.19L391.92 139.15L392.66 138.86L393.39 139.39L394.13 138.94L394.87 138.96" fill="none" stroke="#878818" stroke-width="1.4" stroke-linejoin="round" stroke-opacity="0.9"/>
<line x1="253.25" y1="155.5" x2="395.24" y2="155.5" stroke="#111" stroke-width="1.15"/>
<line x1="253.25" y1="144.5" x2="395.24" y2="144.5" stroke="#111" stroke-width="1.15"/>
<path d="M253.25 155.31L253.99 155.31L254.72 155.46L255.46 155.36L256.2 155.46L256.94 155.28L257.67 155.31L258.41 155.22L259.15 155.38L259.89 155.43L260.62 155.2L261.36 155.28L262.1 155.07L262.84 155.35L263.58 155.39L264.31 155.32L265.05 155.44L265.79 155.34L266.53 155.27L267.26 155.26L268 155.22L268.74 155.53L269.48 155.23L270.21 155.46L270.95 155.11L271.69 155.12L272.43 155.57L273.16 155.45L273.9 155.48L274.64 155.29L275.38 155.3L276.11 154.98L276.85 154.96L277.59 155.02L278.33 154.9L279.06 154.69L279.8 154.73L280.54 154.21L281.28 154.35L282.02 154.15L282.75 154.62L283.49 154.35L284.23 154.22L284.97 153.97L285.7 153.78L286.44 153.81L287.18 153.78L287.92 153.81L288.65 153.51L289.39 154.01L290.13 153.03L290.87 153.02L291.6 153.1L292.34 153.16L293.08 153.13L293.82 152.93L294.55 152.74L295.29 152.72L296.03 152.55L296.77 152.44L297.5 153.08L298.24 152.67L298.98 152.47L299.72 152.44L300.46 152.31L301.19 152.29L301.93 152.1L302.67 152.17L303.41 151.87L304.14 152.03L304.88 151.79L305.62 151.78L306.36 151.66L307.09 151.57L307.83 151.21L308.57 151.34L309.31 151.21L310.04 151.29L310.78 151.25L311.52 150.85L312.26 150.44L312.99 150.96L313.73 151.02L314.47 151.04L315.21 150.3L315.94 150.44L316.68 150.1L317.42 150.43L318.16 150.21L318.9 150.57L319.63 149.94L320.37 149.6L321.11 149.8L321.85 149.62L322.58 149.47L323.32 149.64L324.06 149.69L324.8 149.19L325.53 149.57L326.27 149.01L327.01 149.02L327.75 148.97L328.48 149.14L329.22 148.79L329.96 148.63L330.7 148.45L331.43 148.26L332.17 148.63L332.91 148.24L333.65 148.1L334.38 147.71L335.12 148.01L335.86 147.94L336.6 147.6L337.34 147.69L338.07 147.45L338.81 147.51L339.55 147.24L340.29 147.37L341.02 147.23L341.76 146.62L342.5 147.09L343.24 146.49L343.97 146.7L344.71 146.53L345.45 146.47L346.19 146.19L346.92 146.19L347.66 146.08L348.4 146.2L349.14 146.01L349.87 145.86L350.61 145.86L351.35 145.2L352.09 145.41L352.82 145.38L353.56 145.64L354.3 145.3L355.04 144.99L355.78 144.88L356.51 144.88L357.25 144.84L357.99 144.67L358.73 144.68L359.46 143.99L360.2 144.15L360.94 144.38L361.68 143.91L362.41 143.95L363.15 143.74L363.89 144.28L364.63 143.92L365.36 144L366.1 144.13L366.84 144.06L367.58 144.24L368.31 143.88L369.05 144.09L369.79 143.73L370.53 143.91L371.26 144.11L372 144.37L372.74 144.09L373.48 143.94L374.22 143.85L374.95 144.4L375.69 144.22L376.43 144.42L377.17 144.26L377.9 144.08L378.64 144.16L379.38 144.05L380.12 144.29L380.85 144.27L381.59 144.14L382.33 144.24L383.07 144.16L383.8 144.41L384.54 143.88L385.28 144.01L386.02 143.88L386.75 144.07L387.49 144.05L388.23 143.87L388.97 143.94L389.71 143.81L390.44 144.08L391.18 144.06L391.92 144L392.66 144.16L393.39 143.59L394.13 144.19L394.87 143.7" fill="none" stroke="#e0303c" stroke-width="1.2" stroke-linejoin="round" stroke-opacity="0.6"/>
<rect x="246.5" y="126.96" width="154.7" height="33.8" fill="none" stroke="#4a4a4a" stroke-width="0.9"/>
<line x1="244.9" y1="155.33" x2="246.5" y2="155.33" stroke="#4a4a4a" stroke-width="0.7"/>
<text x="243.4" y="157.53" font-size="5.2" text-anchor="end" style="stroke-width:0.05px">0</text>
<line x1="244.9" y1="144.06" x2="246.5" y2="144.06" stroke="#4a4a4a" stroke-width="0.7"/>
<text x="243.4" y="146.26" font-size="5.2" text-anchor="end" style="stroke-width:0.05px">20</text>
<line x1="244.9" y1="132.79" x2="246.5" y2="132.79" stroke="#4a4a4a" stroke-width="0.7"/>
<text x="243.4" y="134.99" font-size="5.2" text-anchor="end" style="stroke-width:0.05px">40</text>
<line x1="249.1" y1="160.76" x2="249.1" y2="162.56" stroke="#4a4a4a" stroke-width="0.7"/>
<line x1="272.15" y1="160.76" x2="272.15" y2="162.56" stroke="#4a4a4a" stroke-width="0.7"/>
<line x1="295.2" y1="160.76" x2="295.2" y2="162.56" stroke="#4a4a4a" stroke-width="0.7"/>
<line x1="318.25" y1="160.76" x2="318.25" y2="162.56" stroke="#4a4a4a" stroke-width="0.7"/>
<line x1="341.3" y1="160.76" x2="341.3" y2="162.56" stroke="#4a4a4a" stroke-width="0.7"/>
<line x1="364.35" y1="160.76" x2="364.35" y2="162.56" stroke="#4a4a4a" stroke-width="0.7"/>
<line x1="387.4" y1="160.76" x2="387.4" y2="162.56" stroke="#4a4a4a" stroke-width="0.7"/>
<text x="251.6" y="141.46" font-size="5.7" textLength="15.6" lengthAdjust="spacingAndGlyphs" style="stroke-width:0.24px">FBG 7</text>
<rect x="272.15" y="165.78" width="92.2" height="33.8" fill="#d3d3d3"/>
<path d="M253.25 194.19L253.99 194.18L254.72 194.04L255.46 194.21L256.2 193.92L256.94 194.09L257.67 194.18L258.41 194.18L259.15 194.24L259.89 194.08L260.62 194.11L261.36 193.99L262.1 194.05L262.84 194.28L263.58 194.04L264.31 193.86L265.05 194.2L265.79 194.19L266.53 193.99L267.26 194.36L268 193.99L268.74 194.43L269.48 194.18L270.21 194.16L270.95 193.86L271.69 194.33L272.43 193.4L273.16 193.95L273.9 193.82L274.64 193.7L275.38 193.38L276.11 193.35L276.85 193.34L277.59 192.86L278.33 192.72L279.06 192.49L279.8 192.52L280.54 192.47L281.28 192.25L282.02 192.16L282.75 191.54L283.49 191.3L284.23 191.59L284.97 191.47L285.7 191.59L286.44 191.48L287.18 191.73L287.92 191.32L288.65 191.07L289.39 190.62L290.13 190.74L290.87 190.84L291.6 190.74L292.34 190.62L293.08 190.33L293.82 190.32L294.55 190.07L295.29 189.75L296.03 189.72L296.77 189.72L297.5 189.98L298.24 189.43L298.98 189.82L299.72 189.77L300.46 189.28L301.19 189.36L301.93 189.02L302.67 189.03L303.41 188.79L304.14 188.84L304.88 188.65L305.62 188.72L306.36 188.65L307.09 188.46L307.83 188.45L308.57 188.53L309.31 188.72L310.04 188.2L310.78 188.05L311.52 187.59L312.26 187.79L312.99 187.18L313.73 187.39L314.47 187.52L315.21 187.28L315.94 187.36L316.68 186.99L317.42 187.05L318.16 187.07L318.9 186.77L319.63 186.87L320.37 186.56L321.11 186.8L321.85 186.21L322.58 186.37L323.32 186L324.06 186L324.8 186.24L325.53 185.75L326.27 185.66L327.01 185.49L327.75 185.36L328.48 185.41L329.22 185.56L329.96 185.15L330.7 184.93L331.43 185.31L332.17 184.93L332.91 184.82L333.65 184.33L334.38 184.52L335.12 184.23L335.86 183.94L336.6 183.91L337.34 184.22L338.07 183.37L338.81 183.07L339.55 183.04L340.29 183.44L341.02 183.17L341.76 182.43L342.5 183.11L343.24 182.58L343.97 182.42L344.71 182.22L345.45 182.2L346.19 182.35L346.92 182.07L347.66 181.91L348.4 181.79L349.14 181.37L349.87 181.43L350.61 181.43L351.35 180.99L352.09 181.26L352.82 181.16L353.56 180.72L354.3 180.65L355.04 180.17L355.78 180.35L356.51 179.87L357.25 180.3L357.99 180.37L358.73 179.75L359.46 179.82L360.2 179.65L360.94 179.14L361.68 179.16L362.41 179.53L363.15 179.11L363.89 179.07L364.63 178.77L365.36 178.79L366.1 178.54L366.84 179.03L367.58 178.64L368.31 179.02L369.05 178.55L369.79 178.15L370.53 178.28L371.26 178.39L372 178.21L372.74 178.38L373.48 178.3L374.22 178.28L374.95 178.24L375.69 178.32L376.43 178.15L377.17 178.29L377.9 178.28L378.64 177.89L379.38 178.08L380.12 178L380.85 177.53L381.59 177.72L382.33 178.19L383.07 177.35L383.8 177.9L384.54 177.37L385.28 177.57L386.02 177.79L386.75 177.93L387.49 177.64L388.23 177.37L388.97 177.23L389.71 177.24L390.44 177.07L391.18 177.07L391.92 176.9L392.66 176.8L393.39 176.89L394.13 176.79L394.87 177.05" fill="none" stroke="#878818" stroke-width="1.4" stroke-linejoin="round" stroke-opacity="0.9"/>
<line x1="253.25" y1="194.5" x2="395.24" y2="194.5" stroke="#111" stroke-width="1.15"/>
<line x1="253.25" y1="182.5" x2="395.24" y2="182.5" stroke="#111" stroke-width="1.15"/>
<path d="M253.25 194.07L253.99 194.11L254.72 194.05L255.46 194.12L256.2 194.27L256.94 194.22L257.67 194.14L258.41 194.22L259.15 193.97L259.89 194.02L260.62 194.08L261.36 194.11L262.1 194.26L262.84 194.18L263.58 194.09L264.31 194.2L265.05 194.28L265.79 194.1L266.53 194.07L267.26 194.13L268 194.18L268.74 194.04L269.48 194.23L270.21 194.02L270.95 193.71L271.69 194.3L272.43 193.87L273.16 194.12L273.9 193.9L274.64 193.89L275.38 193.64L276.11 193.75L276.85 194.01L277.59 193.33L278.33 193.31L279.06 193.51L279.8 193.08L280.54 193.34L281.28 192.84L282.02 192.79L282.75 192.81L283.49 192.59L284.23 192.43L284.97 192.74L285.7 192.72L286.44 192.79L287.18 192.3L287.92 191.8L288.65 192.17L289.39 192.46L290.13 191.57L290.87 192.21L291.6 191.98L292.34 191.72L293.08 191.69L293.82 191.22L294.55 191.5L295.29 191.58L296.03 191.59L296.77 191.42L297.5 190.98L298.24 191.2L298.98 190.89L299.72 191.1L300.46 190.75L301.19 190.69L301.93 190.88L302.67 190.4L303.41 190.27L304.14 190.56L304.88 190.79L305.62 190.29L306.36 190.21L307.09 189.78L307.83 189.71L308.57 190.07L309.31 190.06L310.04 189.74L310.78 189.77L311.52 189.58L312.26 189.68L312.99 189.11L313.73 189.34L314.47 189.3L315.21 189.26L315.94 189.36L316.68 189.52L317.42 188.81L318.16 189.09L318.9 188.64L319.63 189.06L320.37 189.1L321.11 188.65L321.85 188.45L322.58 188.31L323.32 188.63L324.06 187.97L324.8 187.99L325.53 187.92L326.27 188.47L327.01 187.79L327.75 188.26L328.48 187.66L329.22 187.35L329.96 187.29L330.7 187.22L331.43 187.1L332.17 186.96L332.91 187.11L333.65 187.1L334.38 186.71L335.12 186.13L335.86 186.48L336.6 186.81L337.34 186.67L338.07 186.07L338.81 185.95L339.55 185.98L340.29 186.26L341.02 186.14L341.76 185.54L342.5 185.38L343.24 185.7L343.97 185.42L344.71 185.45L345.45 185.46L346.19 185.28L346.92 184.92L347.66 184.61L348.4 184.56L349.14 184.47L349.87 184.62L350.61 184.47L351.35 184.53L352.09 183.98L352.82 184.36L353.56 183.92L354.3 184.04L355.04 183.85L355.78 183.98L356.51 183.62L357.25 183.57L357.99 183.6L358.73 182.98L359.46 183.19L360.2 183.15L360.94 183.08L361.68 182.8L362.41 182.55L363.15 182.96L363.89 182.73L364.63 183.22L365.36 183.12L366.1 182.9L366.84 182.92L367.58 183.34L368.31 182.56L369.05 183.05L369.79 183.08L370.53 183.02L371.26 183.17L372 182.5L372.74 182.79L373.48 182.79L374.22 182.68L374.95 182.88L375.69 182.84L376.43 182.76L377.17 182.69L377.9 182.92L378.64 183.07L379.38 183.22L380.12 182.7L380.85 183.1L381.59 183.07L382.33 183.01L383.07 182.97L383.8 182.72L384.54 182.93L385.28 182.77L386.02 182.46L386.75 183.19L387.49 182.78L388.23 183.02L388.97 182.88L389.71 183.02L390.44 182.76L391.18 183.06L391.92 182.8L392.66 182.75L393.39 182.87L394.13 182.96L394.87 183.1" fill="none" stroke="#e0303c" stroke-width="1.2" stroke-linejoin="round" stroke-opacity="0.6"/>
<rect x="246.5" y="165.78" width="154.7" height="33.8" fill="none" stroke="#4a4a4a" stroke-width="0.9"/>
<line x1="244.9" y1="194.15" x2="246.5" y2="194.15" stroke="#4a4a4a" stroke-width="0.7"/>
<text x="243.4" y="196.35" font-size="5.2" text-anchor="end" style="stroke-width:0.05px">0</text>
<line x1="244.9" y1="182.88" x2="246.5" y2="182.88" stroke="#4a4a4a" stroke-width="0.7"/>
<text x="243.4" y="185.08" font-size="5.2" text-anchor="end" style="stroke-width:0.05px">20</text>
<line x1="244.9" y1="171.61" x2="246.5" y2="171.61" stroke="#4a4a4a" stroke-width="0.7"/>
<text x="243.4" y="173.81" font-size="5.2" text-anchor="end" style="stroke-width:0.05px">40</text>
<line x1="249.1" y1="199.58" x2="249.1" y2="201.38" stroke="#4a4a4a" stroke-width="0.7"/>
<line x1="272.15" y1="199.58" x2="272.15" y2="201.38" stroke="#4a4a4a" stroke-width="0.7"/>
<line x1="295.2" y1="199.58" x2="295.2" y2="201.38" stroke="#4a4a4a" stroke-width="0.7"/>
<line x1="318.25" y1="199.58" x2="318.25" y2="201.38" stroke="#4a4a4a" stroke-width="0.7"/>
<line x1="341.3" y1="199.58" x2="341.3" y2="201.38" stroke="#4a4a4a" stroke-width="0.7"/>
<line x1="364.35" y1="199.58" x2="364.35" y2="201.38" stroke="#4a4a4a" stroke-width="0.7"/>
<line x1="387.4" y1="199.58" x2="387.4" y2="201.38" stroke="#4a4a4a" stroke-width="0.7"/>
<text x="251.6" y="180.28" font-size="5.7" textLength="15.6" lengthAdjust="spacingAndGlyphs" style="stroke-width:0.24px">FBG 8</text>
<rect x="272.15" y="204.6" width="92.2" height="33.8" fill="#d3d3d3"/>
<path d="M253.25 232.96L253.99 232.77L254.72 232.94L255.46 232.73L256.2 232.82L256.94 232.98L257.67 233.18L258.41 232.85L259.15 232.99L259.89 233L260.62 233.18L261.36 233.03L262.1 232.96L262.84 233.17L263.58 233L264.31 232.73L265.05 232.96L265.79 233.07L266.53 232.93L267.26 233.08L268 232.94L268.74 232.82L269.48 232.9L270.21 233.33L270.95 232.78L271.69 233.53L272.43 232.8L273.16 233.24L273.9 232.67L274.64 232.22L275.38 232.21L276.11 231.72L276.85 231.89L277.59 231.33L278.33 231.06L279.06 230.96L279.8 231.08L280.54 230.82L281.28 230.55L282.02 229.66L282.75 230.01L283.49 230.31L284.23 229.82L284.97 229.78L285.7 229.7L286.44 229.15L287.18 229.37L287.92 229.44L288.65 229.51L289.39 229.32L290.13 228.95L290.87 229L291.6 228.77L292.34 229L293.08 228.54L293.82 228.53L294.55 228.48L295.29 228.86L296.03 228.15L296.77 228.27L297.5 228.54L298.24 227.67L298.98 228.05L299.72 227.83L300.46 227.83L301.19 227.36L301.93 227.24L302.67 227.22L303.41 226.88L304.14 227.41L304.88 226.89L305.62 226.63L306.36 226.71L307.09 226.82L307.83 226.78L308.57 226.29L309.31 226.5L310.04 226.01L310.78 226.21L311.52 226.36L312.26 225.63L312.99 226.53L313.73 225.75L314.47 225.43L315.21 225.39L315.94 225.32L316.68 225.25L317.42 225.29L318.16 225.26L318.9 225.49L319.63 225.17L320.37 224.88L321.11 224.76L321.85 225.04L322.58 224.56L323.32 224.12L324.06 224.46L324.8 224.63L325.53 224.5L326.27 223.87L327.01 223.79L327.75 223.66L328.48 223.76L329.22 223.73L329.96 223.4L330.7 223.23L331.43 223.02L332.17 222.64L332.91 222.58L333.65 222.65L334.38 222.8L335.12 222.35L335.86 222.7L336.6 221.82L337.34 221.85L338.07 222.03L338.81 221.75L339.55 221.97L340.29 221.33L341.02 221.98L341.76 221.47L342.5 220.94L343.24 221.17L343.97 220.6L344.71 220.81L345.45 220.26L346.19 220.44L346.92 220.48L347.66 220.34L348.4 220.24L349.14 219.95L349.87 219.9L350.61 220.23L351.35 219.62L352.09 219.11L352.82 219.16L353.56 219.42L354.3 219.09L355.04 219.24L355.78 219.23L356.51 219L357.25 218.58L357.99 218.21L358.73 218.76L359.46 218.04L360.2 217.88L360.94 217.53L361.68 217.99L362.41 217.34L363.15 217.17L363.89 217.74L364.63 217.85L365.36 217.94L366.1 216.84L366.84 217.29L367.58 217.42L368.31 217.27L369.05 217.18L369.79 217.18L370.53 217.37L371.26 217.1L372 216.71L372.74 216.82L373.48 217L374.22 217.04L374.95 216.75L375.69 216.71L376.43 216.86L377.17 216.36L377.9 216.69L378.64 216.42L379.38 216.56L380.12 216.62L380.85 216.34L381.59 216.43L382.33 216.48L383.07 215.97L383.8 216.06L384.54 216.09L385.28 216.63L386.02 216.28L386.75 216.24L387.49 216.09L388.23 215.62L388.97 215.93L389.71 215.8L390.44 215.74L391.18 216.27L391.92 215.8L392.66 215.61L393.39 215.56L394.13 215.71L394.87 215.9" fill="none" stroke="#878818" stroke-width="1.4" stroke-linejoin="round" stroke-opacity="0.9"/>
<line x1="253.25" y1="232.5" x2="395.24" y2="232.5" stroke="#111" stroke-width="1.15"/>
<line x1="253.25" y1="221.5" x2="395.24" y2="221.5" stroke="#111" stroke-width="1.15"/>
<path d="M253.25 233.17L253.99 232.92L254.72 232.94L255.46 233.03L256.2 232.99L256.94 232.85L257.67 232.97L258.41 232.83L259.15 233.04L259.89 232.98L260.62 232.89L261.36 233.07L262.1 232.98L262.84 232.9L263.58 233L264.31 233L265.05 232.89L265.79 232.96L266.53 233.12L267.26 233.02L268 233L268.74 233.06L269.48 233.06L270.21 232.9L270.95 233.14L271.69 233.11L272.43 232.59L273.16 232.4L273.9 232.73L274.64 232.62L275.38 232.91L276.11 232.63L276.85 232.34L277.59 232.4L278.33 231.96L279.06 231.85L279.8 231.66L280.54 231.81L281.28 231.98L282.02 231.62L282.75 232.03L283.49 231.23L284.23 231.84L284.97 231.04L285.7 231.33L286.44 230.99L287.18 231.56L287.92 231.14L288.65 231.13L289.39 231.12L290.13 231.04L290.87 230.76L291.6 230.57L292.34 230.5L293.08 230.8L293.82 230.34L294.55 230.2L295.29 230.6L296.03 229.7L296.77 230.21L297.5 230.18L298.24 230.03L298.98 229.47L299.72 230.04L300.46 229.83L301.19 229.77L301.93 229.59L302.67 229.25L303.41 229.37L304.14 229.24L304.88 228.84L305.62 229.35L306.36 229.06L307.09 228.74L307.83 229.05L308.57 228.73L309.31 229.07L310.04 228.8L310.78 228.93L311.52 228.68L312.26 228.25L312.99 228.44L313.73 227.9L314.47 228.36L315.21 228.01L315.94 228.06L316.68 228.01L317.42 227.47L318.16 227.73L318.9 227.58L319.63 227.4L320.37 227.73L321.11 227.34L321.85 227.37L322.58 227.03L323.32 227.07L324.06 227.08L324.8 226.9L325.53 227.2L326.27 226.95L327.01 226.76L327.75 226.5L328.48 226.5L329.22 225.91L329.96 226.47L330.7 226.39L331.43 225.87L332.17 226.34L332.91 225.75L333.65 226.15L334.38 225.51L335.12 225.25L335.86 225.42L336.6 225.79L337.34 224.93L338.07 225.16L338.81 224.98L339.55 225.17L340.29 225.01L341.02 224.73L341.76 224.58L342.5 224.85L343.24 224.27L343.97 224.65L344.71 224.39L345.45 224.07L346.19 223.82L346.92 223.95L347.66 223.87L348.4 223.67L349.14 223.64L349.87 223.24L350.61 223.79L351.35 223.52L352.09 223.3L352.82 223.41L353.56 222.83L354.3 223.13L355.04 222.99L355.78 222.9L356.51 222.84L357.25 222.43L357.99 222.49L358.73 222.34L359.46 222.32L360.2 221.83L360.94 222.22L361.68 221.83L362.41 221.89L363.15 221.78L363.89 221.86L364.63 221.99L365.36 221.61L366.1 222.12L366.84 221.39L367.58 221.54L368.31 221.6L369.05 221.43L369.79 221.35L370.53 221.92L371.26 221.87L372 221.87L372.74 221.67L373.48 221.5L374.22 221.69L374.95 221.85L375.69 221.55L376.43 221.78L377.17 221.82L377.9 221.67L378.64 221.6L379.38 221.56L380.12 222.29L380.85 221.64L381.59 221.56L382.33 221.62L383.07 221.52L383.8 222.12L384.54 221.8L385.28 221.64L386.02 221.55L386.75 221.62L387.49 221.76L388.23 221.27L388.97 221.94L389.71 221.66L390.44 221.82L391.18 222.03L391.92 221.79L392.66 221.85L393.39 221.7L394.13 221.92L394.87 221.94" fill="none" stroke="#e0303c" stroke-width="1.2" stroke-linejoin="round" stroke-opacity="0.6"/>
<rect x="246.5" y="204.6" width="154.7" height="33.8" fill="none" stroke="#4a4a4a" stroke-width="0.9"/>
<line x1="244.9" y1="232.97" x2="246.5" y2="232.97" stroke="#4a4a4a" stroke-width="0.7"/>
<text x="243.4" y="235.17" font-size="5.2" text-anchor="end" style="stroke-width:0.05px">0</text>
<line x1="244.9" y1="221.7" x2="246.5" y2="221.7" stroke="#4a4a4a" stroke-width="0.7"/>
<text x="243.4" y="223.9" font-size="5.2" text-anchor="end" style="stroke-width:0.05px">20</text>
<line x1="244.9" y1="210.43" x2="246.5" y2="210.43" stroke="#4a4a4a" stroke-width="0.7"/>
<text x="243.4" y="212.63" font-size="5.2" text-anchor="end" style="stroke-width:0.05px">40</text>
<line x1="249.1" y1="238.4" x2="249.1" y2="240.2" stroke="#4a4a4a" stroke-width="0.7"/>
<line x1="272.15" y1="238.4" x2="272.15" y2="240.2" stroke="#4a4a4a" stroke-width="0.7"/>
<line x1="295.2" y1="238.4" x2="295.2" y2="240.2" stroke="#4a4a4a" stroke-width="0.7"/>
<line x1="318.25" y1="238.4" x2="318.25" y2="240.2" stroke="#4a4a4a" stroke-width="0.7"/>
<line x1="341.3" y1="238.4" x2="341.3" y2="240.2" stroke="#4a4a4a" stroke-width="0.7"/>
<line x1="364.35" y1="238.4" x2="364.35" y2="240.2" stroke="#4a4a4a" stroke-width="0.7"/>
<line x1="387.4" y1="238.4" x2="387.4" y2="240.2" stroke="#4a4a4a" stroke-width="0.7"/>
<text x="251.6" y="219.1" font-size="5.7" textLength="15.6" lengthAdjust="spacingAndGlyphs" style="stroke-width:0.24px">FBG 9</text>
<rect x="272.15" y="243.42" width="92.2" height="33.8" fill="#d3d3d3"/>
<path d="M253.25 271.82L253.99 271.85L254.72 271.7L255.46 271.75L256.2 271.82L256.94 271.91L257.67 271.7L258.41 271.79L259.15 271.77L259.89 271.82L260.62 271.78L261.36 271.75L262.1 271.86L262.84 272.05L263.58 271.84L264.31 271.71L265.05 271.73L265.79 271.73L266.53 271.82L267.26 271.74L268 271.89L268.74 271.84L269.48 271.63L270.21 271.64L270.95 271.99L271.69 271.69L272.43 271.59L273.16 271.67L273.9 271.3L274.64 271.27L275.38 270.87L276.11 270.81L276.85 270.12L277.59 270.9L278.33 270.38L279.06 269.79L279.8 270.11L280.54 269.99L281.28 269.54L282.02 268.94L282.75 269.13L283.49 268.88L284.23 268.98L284.97 269.1L285.7 268.76L286.44 268.35L287.18 268.89L287.92 268.36L288.65 268.35L289.39 268.27L290.13 267.84L290.87 267.77L291.6 267.99L292.34 268.01L293.08 267.48L293.82 267.39L294.55 267.71L295.29 267.3L296.03 267.07L296.77 266.71L297.5 266.34L298.24 266.68L298.98 266.6L299.72 266.16L300.46 266.13L301.19 266.07L301.93 265.81L302.67 266.22L303.41 266.03L304.14 266.23L304.88 265.84L305.62 264.95L306.36 265.31L307.09 265.23L307.83 265.45L308.57 264.91L309.31 265.03L310.04 264.76L310.78 264.37L311.52 264.55L312.26 264.55L312.99 264.04L313.73 264.22L314.47 263.84L315.21 263.94L315.94 263.84L316.68 263.6L317.42 263.46L318.16 263.55L318.9 263.11L319.63 262.85L320.37 262.81L321.11 262.91L321.85 262.83L322.58 262.79L323.32 262.84L324.06 262.5L324.8 262.07L325.53 262.07L326.27 262.09L327.01 262.58L327.75 261.79L328.48 262.02L329.22 261.39L329.96 261.5L330.7 261.37L331.43 261.5L332.17 261.29L332.91 260.65L333.65 260.92L334.38 260.96L335.12 260.57L335.86 260.11L336.6 260.57L337.34 259.65L338.07 260.39L338.81 260.25L339.55 259.4L340.29 259.93L341.02 259.84L341.76 259.45L342.5 259.49L343.24 259.06L343.97 259.18L344.71 258.92L345.45 259.17L346.19 258.38L346.92 258.11L347.66 258.51L348.4 258.33L349.14 257.92L349.87 258.06L350.61 257.55L351.35 257.52L352.09 257.12L352.82 257.49L353.56 256.91L354.3 257.14L355.04 256.73L355.78 256.89L356.51 257.01L357.25 256.68L357.99 256.49L358.73 256.16L359.46 255.97L360.2 255.77L360.94 255.92L361.68 255.52L362.41 255.31L363.15 255.74L363.89 255.07L364.63 255.19L365.36 255.43L366.1 255.23L366.84 255.15L367.58 255.02L368.31 255.03L369.05 255.55L369.79 255.42L370.53 254.78L371.26 254.98L372 254.83L372.74 254.73L373.48 255.01L374.22 254.92L374.95 254.56L375.69 254.57L376.43 254.68L377.17 254.39L377.9 254.43L378.64 254.53L379.38 254.54L380.12 255.03L380.85 254.43L381.59 254.52L382.33 254.33L383.07 254.49L383.8 253.91L384.54 254.45L385.28 254.03L386.02 254.18L386.75 253.62L387.49 254.41L388.23 254.14L388.97 254.03L389.71 253.66L390.44 253.61L391.18 253.84L391.92 254L392.66 253.77L393.39 253.59L394.13 253.42L394.87 253.84" fill="none" stroke="#878818" stroke-width="1.4" stroke-linejoin="round" stroke-opacity="0.9"/>
<line x1="253.25" y1="271.5" x2="395.24" y2="271.5" stroke="#111" stroke-width="1.15"/>
<line x1="253.25" y1="260.5" x2="395.24" y2="260.5" stroke="#111" stroke-width="1.15"/>
<path d="M253.25 271.97L253.99 271.84L254.72 272.03L255.46 271.79L256.2 271.78L256.94 271.87L257.67 271.8L258.41 271.88L259.15 271.86L259.89 271.47L260.62 271.84L261.36 271.79L262.1 271.88L262.84 271.82L263.58 271.72L264.31 271.73L265.05 271.69L265.79 271.83L266.53 271.89L267.26 271.88L268 271.78L268.74 271.92L269.48 271.61L270.21 271.82L270.95 271.76L271.69 271.99L272.43 271.92L273.16 271.47L273.9 271.51L274.64 271.49L275.38 271.6L276.11 271.53L276.85 271.06L277.59 271.56L278.33 271.41L279.06 271.1L279.8 270.79L280.54 270.62L281.28 270.27L282.02 271.02L282.75 270.45L283.49 270.71L284.23 270.57L284.97 270.34L285.7 270.46L286.44 269.84L287.18 270.15L287.92 270.14L288.65 269.99L289.39 269.77L290.13 269.68L290.87 269.87L291.6 269.94L292.34 269.8L293.08 269.53L293.82 269.41L294.55 269.45L295.29 269L296.03 269.03L296.77 268.93L297.5 269.3L298.24 268.56L298.98 268.92L299.72 268.89L300.46 268.66L301.19 268.72L301.93 268.62L302.67 268.57L303.41 268.4L304.14 268.32L304.88 268.31L305.62 268.01L306.36 268.51L307.09 267.85L307.83 267.77L308.57 267.72L309.31 267.7L310.04 267.5L310.78 267.5L311.52 267.39L312.26 267.25L312.99 267.3L313.73 267.52L314.47 266.84L315.21 267.15L315.94 266.89L316.68 267.04L317.42 266.91L318.16 267.16L318.9 266.3L319.63 266.63L320.37 266.92L321.11 266.09L321.85 266.76L322.58 266.32L323.32 265.96L324.06 266.01L324.8 266.13L325.53 266.34L326.27 265.83L327.01 265.87L327.75 265.86L328.48 265.42L329.22 265.27L329.96 265.15L330.7 265.04L331.43 265.08L332.17 264.99L332.91 264.94L333.65 264.76L334.38 264.59L335.12 264.67L335.86 264.4L336.6 263.89L337.34 264.25L338.07 264.25L338.81 263.95L339.55 263.88L340.29 263.77L341.02 263.85L341.76 263.45L342.5 263.31L343.24 263.3L343.97 263.14L344.71 263.01L345.45 263.1L346.19 262.77L346.92 262.98L347.66 262.95L348.4 262.53L349.14 262.82L349.87 262.61L350.61 262.24L351.35 262.88L352.09 261.98L352.82 262.1L353.56 262.07L354.3 261.78L355.04 262.02L355.78 261.66L356.51 261.71L357.25 261.72L357.99 260.95L358.73 261.12L359.46 261.4L360.2 261.24L360.94 261L361.68 261.05L362.41 260.62L363.15 260.9L363.89 260.5L364.63 260.72L365.36 260.92L366.1 260.65L366.84 260.85L367.58 260.35L368.31 260.34L369.05 260.59L369.79 260.44L370.53 260.62L371.26 260.13L372 260.31L372.74 260.52L373.48 260.31L374.22 260.39L374.95 260.4L375.69 260.35L376.43 260.31L377.17 260.35L377.9 260.56L378.64 260.36L379.38 260.49L380.12 260.37L380.85 260.5L381.59 260.91L382.33 260.5L383.07 260.42L383.8 260.67L384.54 260.59L385.28 260.29L386.02 260.29L386.75 260.66L387.49 260.65L388.23 260.31L388.97 260.64L389.71 260.71L390.44 260.68L391.18 260.4L391.92 260.99L392.66 260.41L393.39 260.3L394.13 260.65L394.87 260.87" fill="none" stroke="#e0303c" stroke-width="1.2" stroke-linejoin="round" stroke-opacity="0.6"/>
<rect x="246.5" y="243.42" width="154.7" height="33.8" fill="none" stroke="#4a4a4a" stroke-width="0.9"/>
<line x1="244.9" y1="271.79" x2="246.5" y2="271.79" stroke="#4a4a4a" stroke-width="0.7"/>
<text x="243.4" y="273.99" font-size="5.2" text-anchor="end" style="stroke-width:0.05px">0</text>
<line x1="244.9" y1="260.52" x2="246.5" y2="260.52" stroke="#4a4a4a" stroke-width="0.7"/>
<text x="243.4" y="262.72" font-size="5.2" text-anchor="end" style="stroke-width:0.05px">20</text>
<line x1="244.9" y1="249.25" x2="246.5" y2="249.25" stroke="#4a4a4a" stroke-width="0.7"/>
<text x="243.4" y="251.45" font-size="5.2" text-anchor="end" style="stroke-width:0.05px">40</text>
<line x1="249.1" y1="277.22" x2="249.1" y2="279.02" stroke="#4a4a4a" stroke-width="0.7"/>
<line x1="272.15" y1="277.22" x2="272.15" y2="279.02" stroke="#4a4a4a" stroke-width="0.7"/>
<line x1="295.2" y1="277.22" x2="295.2" y2="279.02" stroke="#4a4a4a" stroke-width="0.7"/>
<line x1="318.25" y1="277.22" x2="318.25" y2="279.02" stroke="#4a4a4a" stroke-width="0.7"/>
<line x1="341.3" y1="277.22" x2="341.3" y2="279.02" stroke="#4a4a4a" stroke-width="0.7"/>
<line x1="364.35" y1="277.22" x2="364.35" y2="279.02" stroke="#4a4a4a" stroke-width="0.7"/>
<line x1="387.4" y1="277.22" x2="387.4" y2="279.02" stroke="#4a4a4a" stroke-width="0.7"/>
<text x="251.6" y="257.92" font-size="5.7" textLength="18.6" lengthAdjust="spacingAndGlyphs" style="stroke-width:0.24px">FBG 10</text>
<rect x="272.15" y="282.24" width="92.2" height="33.8" fill="#d3d3d3"/>
<path d="M253.25 310.59L253.99 310.64L254.72 310.48L255.46 310.44L256.2 310.7L256.94 310.38L257.67 310.74L258.41 310.62L259.15 310.62L259.89 310.58L260.62 310.75L261.36 310.53L262.1 310.57L262.84 310.53L263.58 310.74L264.31 310.66L265.05 310.65L265.79 310.65L266.53 310.58L267.26 310.72L268 310.54L268.74 310.61L269.48 310.41L270.21 310.47L270.95 310.45L271.69 310.68L272.43 310.84L273.16 310.26L273.9 310.49L274.64 310.3L275.38 309.25L276.11 309.82L276.85 309.52L277.59 309.46L278.33 309.51L279.06 309.19L279.8 308.87L280.54 308.6L281.28 309.07L282.02 308.04L282.75 307.88L283.49 308.26L284.23 308.45L284.97 307.72L285.7 307.93L286.44 307.76L287.18 307.74L287.92 307.93L288.65 307.31L289.39 307.02L290.13 307.19L290.87 307.26L291.6 307.26L292.34 306.55L293.08 306.63L293.82 306.71L294.55 306.74L295.29 306.43L296.03 306.07L296.77 306.57L297.5 306.13L298.24 305.71L298.98 306.03L299.72 305.63L300.46 305.63L301.19 305.65L301.93 305.36L302.67 304.97L303.41 305.45L304.14 305.1L304.88 304.96L305.62 304.67L306.36 305.24L307.09 304.67L307.83 304.27L308.57 304.69L309.31 304.64L310.04 304.29L310.78 304.53L311.52 304.28L312.26 303.77L312.99 304.17L313.73 303.62L314.47 303.82L315.21 303.65L315.94 303.21L316.68 302.83L317.42 303.33L318.16 302.73L318.9 302.42L319.63 302.59L320.37 302.49L321.11 302.49L321.85 302.41L322.58 302.71L323.32 302.06L324.06 302.02L324.8 301.79L325.53 301.68L326.27 302.03L327.01 301.12L327.75 301.52L328.48 301.27L329.22 300.95L329.96 301.12L330.7 300.5L331.43 300.54L332.17 300.72L332.91 300.04L333.65 300.33L334.38 300.35L335.12 299.72L335.86 300.24L336.6 299.44L337.34 299.83L338.07 299.78L338.81 299.57L339.55 299.35L340.29 299.45L341.02 299.31L341.76 298.74L342.5 298.37L343.24 298.68L343.97 298.7L344.71 298.47L345.45 298.02L346.19 298.17L346.92 297.41L347.66 297.69L348.4 297.55L349.14 297.68L349.87 297.75L350.61 297.06L351.35 297.04L352.09 296.57L352.82 297.2L353.56 296.83L354.3 296.8L355.04 296.85L355.78 296.23L356.51 295.9L357.25 296.08L357.99 296.07L358.73 296.15L359.46 295.52L360.2 295.72L360.94 294.81L361.68 295.06L362.41 295.41L363.15 294.82L363.89 294.91L364.63 294.84L365.36 294.44L366.1 294.55L366.84 294.28L367.58 294.6L368.31 294.3L369.05 294.5L369.79 294.63L370.53 294.32L371.26 294.17L372 293.81L372.74 293.81L373.48 293.96L374.22 293.68L374.95 293.54L375.69 293.81L376.43 293.28L377.17 293.79L377.9 293.26L378.64 293.26L379.38 292.94L380.12 293.07L380.85 293.25L381.59 293.63L382.33 293.02L383.07 292.83L383.8 292.82L384.54 292.86L385.28 292.49L386.02 292.68L386.75 292.56L387.49 292.52L388.23 292.38L388.97 292.5L389.71 292.15L390.44 292.47L391.18 291.98L391.92 291.7L392.66 291.97L393.39 291.98L394.13 291.9L394.87 292.33" fill="none" stroke="#878818" stroke-width="1.4" stroke-linejoin="round" stroke-opacity="0.9"/>
<line x1="253.25" y1="310.5" x2="395.24" y2="310.5" stroke="#111" stroke-width="1.15"/>
<line x1="253.25" y1="299.5" x2="395.24" y2="299.5" stroke="#111" stroke-width="1.15"/>
<path d="M253.25 310.59L253.99 310.4L254.72 310.67L255.46 310.54L256.2 310.44L256.94 310.76L257.67 310.65L258.41 310.7L259.15 310.75L259.89 310.67L260.62 310.59L261.36 310.59L262.1 310.64L262.84 310.66L263.58 310.43L264.31 310.65L265.05 310.51L265.79 310.43L266.53 310.66L267.26 310.72L268 310.72L268.74 310.66L269.48 310.48L270.21 310.54L270.95 310.7L271.69 310.78L272.43 310.42L273.16 310.36L273.9 310.03L274.64 310.35L275.38 310.37L276.11 310.48L276.85 310.12L277.59 309.77L278.33 310.02L279.06 310.12L279.8 309.86L280.54 309.91L281.28 309.7L282.02 310.19L282.75 310.02L283.49 309.67L284.23 309.52L284.97 309.25L285.7 309.68L286.44 309.6L287.18 309.14L287.92 309.08L288.65 308.74L289.39 308.89L290.13 308.95L290.87 309.01L291.6 308.69L292.34 308.66L293.08 308.58L293.82 308.59L294.55 308.48L295.29 308.54L296.03 308.41L296.77 308.73L297.5 308.25L298.24 308.1L298.98 308.18L299.72 307.72L300.46 307.8L301.19 307.61L301.93 307.74L302.67 307.47L303.41 307.44L304.14 307.76L304.88 307.41L305.62 307.42L306.36 307.49L307.09 307.35L307.83 307.02L308.57 306.99L309.31 306.94L310.04 306.93L310.78 306.66L311.52 306.4L312.26 306.66L312.99 306.45L313.73 307.06L314.47 306.47L315.21 306.45L315.94 306.45L316.68 306.64L317.42 305.93L318.16 306.33L318.9 305.82L319.63 306.11L320.37 306.01L321.11 305.65L321.85 305.9L322.58 305.9L323.32 305.6L324.06 305.55L324.8 305.58L325.53 304.99L326.27 305.28L327.01 305.24L327.75 305.09L328.48 304.87L329.22 304.86L329.96 304.98L330.7 304.56L331.43 304.28L332.17 304.63L332.91 304.07L333.65 303.68L334.38 303.97L335.12 303.58L335.86 303.87L336.6 303.86L337.34 303.77L338.07 303.5L338.81 303.44L339.55 303.1L340.29 303.03L341.02 303.11L341.76 302.86L342.5 302.61L343.24 302.62L343.97 302.54L344.71 302.79L345.45 302.18L346.19 302.3L346.92 302.3L347.66 302.36L348.4 301.99L349.14 301.81L349.87 301.88L350.61 301.65L351.35 301.34L352.09 301.65L352.82 301.63L353.56 301.34L354.3 301.06L355.04 300.97L355.78 301.23L356.51 300.67L357.25 300.7L357.99 300.56L358.73 300.89L359.46 300.57L360.2 300.48L360.94 300.16L361.68 300.12L362.41 300.4L363.15 300.24L363.89 299.98L364.63 299.84L365.36 299.24L366.1 299.54L366.84 299.57L367.58 299.58L368.31 299.56L369.05 299.48L369.79 299.71L370.53 299.69L371.26 299.18L372 299.26L372.74 299.41L373.48 299.08L374.22 299.5L374.95 299.76L375.69 299.44L376.43 299.25L377.17 299.5L377.9 299.11L378.64 299.21L379.38 299.81L380.12 299.48L380.85 299.49L381.59 299.53L382.33 299.14L383.07 299.36L383.8 299.57L384.54 299.34L385.28 299.45L386.02 299.56L386.75 299.35L387.49 299.44L388.23 299.18L388.97 299.34L389.71 299.16L390.44 298.99L391.18 299.68L391.92 299.74L392.66 299.45L393.39 298.98L394.13 298.95L394.87 299.39" fill="none" stroke="#e0303c" stroke-width="1.2" stroke-linejoin="round" stroke-opacity="0.6"/>
<rect x="246.5" y="282.24" width="154.7" height="33.8" fill="none" stroke="#4a4a4a" stroke-width="0.9"/>
<line x1="244.9" y1="310.61" x2="246.5" y2="310.61" stroke="#4a4a4a" stroke-width="0.7"/>
<text x="243.4" y="312.81" font-size="5.2" text-anchor="end" style="stroke-width:0.05px">0</text>
<line x1="244.9" y1="299.34" x2="246.5" y2="299.34" stroke="#4a4a4a" stroke-width="0.7"/>
<text x="243.4" y="301.54" font-size="5.2" text-anchor="end" style="stroke-width:0.05px">20</text>
<line x1="244.9" y1="288.07" x2="246.5" y2="288.07" stroke="#4a4a4a" stroke-width="0.7"/>
<text x="243.4" y="290.27" font-size="5.2" text-anchor="end" style="stroke-width:0.05px">40</text>
<line x1="249.1" y1="316.04" x2="249.1" y2="317.84" stroke="#4a4a4a" stroke-width="0.7"/>
<line x1="272.15" y1="316.04" x2="272.15" y2="317.84" stroke="#4a4a4a" stroke-width="0.7"/>
<line x1="295.2" y1="316.04" x2="295.2" y2="317.84" stroke="#4a4a4a" stroke-width="0.7"/>
<line x1="318.25" y1="316.04" x2="318.25" y2="317.84" stroke="#4a4a4a" stroke-width="0.7"/>
<line x1="341.3" y1="316.04" x2="341.3" y2="317.84" stroke="#4a4a4a" stroke-width="0.7"/>
<line x1="364.35" y1="316.04" x2="364.35" y2="317.84" stroke="#4a4a4a" stroke-width="0.7"/>
<line x1="387.4" y1="316.04" x2="387.4" y2="317.84" stroke="#4a4a4a" stroke-width="0.7"/>
<text x="251.6" y="296.74" font-size="5.7" textLength="18.6" lengthAdjust="spacingAndGlyphs" style="stroke-width:0.24px">FBG 11</text>
<rect x="272.15" y="321.06" width="92.2" height="33.8" fill="#d3d3d3"/>
<path d="M253.25 349.42L253.99 349.49L254.72 349.39L255.46 349.46L256.2 349.47L256.94 349.37L257.67 349.22L258.41 349.22L259.15 349.6L259.89 349.59L260.62 349.5L261.36 349.35L262.1 349.29L262.84 349.69L263.58 349.4L264.31 349.66L265.05 349.32L265.79 349.58L266.53 349.26L267.26 349.53L268 349.35L268.74 349.42L269.48 349.47L270.21 349.28L270.95 348.99L271.69 349.53L272.43 349.52L273.16 349.22L273.9 348.94L274.64 348.77L275.38 348.57L276.11 348.3L276.85 348.16L277.59 348.25L278.33 348.22L279.06 347.72L279.8 347.21L280.54 347.43L281.28 347.23L282.02 346.76L282.75 346.92L283.49 346.52L284.23 346.51L284.97 346.7L285.7 346.49L286.44 345.93L287.18 345.86L287.92 345.75L288.65 345.65L289.39 346.21L290.13 345.79L290.87 345.55L291.6 345.42L292.34 345.99L293.08 345.28L293.82 344.89L294.55 344.86L295.29 344.66L296.03 344.7L296.77 344.9L297.5 344.45L298.24 344.24L298.98 344.13L299.72 343.88L300.46 343.93L301.19 343.83L301.93 344.14L302.67 343.46L303.41 343.42L304.14 343.64L304.88 343.33L305.62 343.41L306.36 343.15L307.09 342.82L307.83 343.21L308.57 343.02L309.31 342.72L310.04 342.75L310.78 342.37L311.52 342.28L312.26 342.08L312.99 341.9L313.73 341.64L314.47 342.1L315.21 341.77L315.94 341.98L316.68 341.6L317.42 340.96L318.16 341.82L318.9 341.82L319.63 341.25L320.37 341.09L321.11 340.73L321.85 340.37L322.58 340.54L323.32 340.35L324.06 340.61L324.8 340.2L325.53 339.66L326.27 340.1L327.01 339.41L327.75 339.3L328.48 339.69L329.22 339.48L329.96 339.16L330.7 339.32L331.43 339.18L332.17 338.83L332.91 338.92L333.65 338.61L334.38 338.35L335.12 338.33L335.86 338.34L336.6 337.87L337.34 337.77L338.07 337.99L338.81 337.66L339.55 337.63L340.29 337.33L341.02 337.49L341.76 336.71L342.5 337.25L343.24 337L343.97 336.44L344.71 336.65L345.45 336.85L346.19 336.07L346.92 335.85L347.66 335.88L348.4 335.91L349.14 335.35L349.87 335.54L350.61 335.41L351.35 335.29L352.09 335.35L352.82 334.88L353.56 334.69L354.3 333.96L355.04 334.75L355.78 334.49L356.51 334.04L357.25 334.58L357.99 333.99L358.73 333.79L359.46 333.76L360.2 333.4L360.94 334.29L361.68 332.82L362.41 332.94L363.15 332.9L363.89 332.68L364.63 332.71L365.36 332.59L366.1 332.93L366.84 332.5L367.58 332.7L368.31 332.56L369.05 332.54L369.79 332.48L370.53 332.32L371.26 332.32L372 332.44L372.74 332.43L373.48 332.2L374.22 332.11L374.95 331.96L375.69 332.31L376.43 331.64L377.17 331.93L377.9 331.96L378.64 331.39L379.38 331.79L380.12 331.53L380.85 331.13L381.59 331.33L382.33 331.48L383.07 331.27L383.8 331.06L384.54 330.98L385.28 331.14L386.02 331.03L386.75 331.06L387.49 330.56L388.23 330.77L388.97 330.71L389.71 330.49L390.44 330.79L391.18 330.74L391.92 330.63L392.66 330.55L393.39 330.37L394.13 330.32L394.87 330.48" fill="none" stroke="#878818" stroke-width="1.4" stroke-linejoin="round" stroke-opacity="0.9"/>
<line x1="253.25" y1="349.5" x2="395.24" y2="349.5" stroke="#111" stroke-width="1.15"/>
<line x1="253.25" y1="338.5" x2="395.24" y2="338.5" stroke="#111" stroke-width="1.15"/>
<path d="M253.25 349.56L253.99 349.52L254.72 349.41L255.46 349.34L256.2 349.44L256.94 349.29L257.67 349.65L258.41 349.39L259.15 349.63L259.89 349.55L260.62 349.36L261.36 349.38L262.1 349.45L262.84 349.57L263.58 349.47L264.31 349.39L265.05 349.55L265.79 349.25L266.53 349.47L267.26 349.21L268 349.43L268.74 349.7L269.48 349.49L270.21 349.5L270.95 349.49L271.69 349.62L272.43 349.6L273.16 349.39L273.9 348.95L274.64 349.38L275.38 349.62L276.11 349.35L276.85 349.01L277.59 349.28L278.33 349.13L279.06 348.9L279.8 348.9L280.54 348.76L281.28 348.82L282.02 348.68L282.75 348.51L283.49 348.54L284.23 348.5L284.97 348.2L285.7 348.33L286.44 348.08L287.18 347.81L287.92 347.69L288.65 347.98L289.39 347.95L290.13 347.6L290.87 347.7L291.6 347.65L292.34 347.46L293.08 347.05L293.82 347.03L294.55 346.97L295.29 347L296.03 347.36L296.77 347.1L297.5 346.61L298.24 346.93L298.98 346.48L299.72 346.65L300.46 346.27L301.19 346.26L301.93 346.37L302.67 345.9L303.41 346.09L304.14 345.91L304.88 345.67L305.62 345.61L306.36 345.37L307.09 345.61L307.83 345.41L308.57 345.67L309.31 345.08L310.04 345.21L310.78 345.08L311.52 345.2L312.26 344.78L312.99 344.85L313.73 344.86L314.47 344.64L315.21 344.31L315.94 344.7L316.68 344.9L317.42 344.36L318.16 344.16L318.9 344.14L319.63 343.96L320.37 344.18L321.11 343.83L321.85 343.63L322.58 343.44L323.32 343.58L324.06 343.46L324.8 343.43L325.53 343.05L326.27 343.05L327.01 343.3L327.75 342.72L328.48 342.81L329.22 342.93L329.96 342.72L330.7 342.62L331.43 342.25L332.17 342.11L332.91 342.28L333.65 342.03L334.38 342.18L335.12 342.26L335.86 341.75L336.6 342.18L337.34 341.45L338.07 341.82L338.81 341.2L339.55 341.3L340.29 341.31L341.02 341.24L341.76 340.95L342.5 341.48L343.24 340.93L343.97 340.95L344.71 340.86L345.45 340.59L346.19 340.31L346.92 340.01L347.66 340.28L348.4 339.9L349.14 340.04L349.87 339.81L350.61 339.77L351.35 339.69L352.09 339.94L352.82 339.51L353.56 339.58L354.3 338.87L355.04 339.52L355.78 339.06L356.51 339.15L357.25 339.58L357.99 338.94L358.73 339.02L359.46 338.98L360.2 338.5L360.94 338.51L361.68 338.42L362.41 338.21L363.15 338.34L363.89 338.27L364.63 338.37L365.36 338.91L366.1 338.24L366.84 338.16L367.58 338.34L368.31 338.65L369.05 338.3L369.79 337.67L370.53 337.95L371.26 338.27L372 338.26L372.74 337.94L373.48 338.25L374.22 338.27L374.95 337.9L375.69 338.28L376.43 338.63L377.17 338.7L377.9 338.14L378.64 337.95L379.38 338.41L380.12 337.95L380.85 338.09L381.59 338.16L382.33 338.05L383.07 338.08L383.8 338.48L384.54 338.32L385.28 337.9L386.02 338.24L386.75 338.37L387.49 337.98L388.23 338.2L388.97 338.13L389.71 338.07L390.44 337.97L391.18 338.39L391.92 338.37L392.66 338.16L393.39 338.23L394.13 338.14L394.87 338.05" fill="none" stroke="#e0303c" stroke-width="1.2" stroke-linejoin="round" stroke-opacity="0.6"/>
<rect x="246.5" y="321.06" width="154.7" height="33.8" fill="none" stroke="#4a4a4a" stroke-width="0.9"/>
<line x1="244.9" y1="349.43" x2="246.5" y2="349.43" stroke="#4a4a4a" stroke-width="0.7"/>
<text x="243.4" y="351.63" font-size="5.2" text-anchor="end" style="stroke-width:0.05px">0</text>
<line x1="244.9" y1="338.16" x2="246.5" y2="338.16" stroke="#4a4a4a" stroke-width="0.7"/>
<text x="243.4" y="340.36" font-size="5.2" text-anchor="end" style="stroke-width:0.05px">20</text>
<line x1="244.9" y1="326.89" x2="246.5" y2="326.89" stroke="#4a4a4a" stroke-width="0.7"/>
<text x="243.4" y="329.09" font-size="5.2" text-anchor="end" style="stroke-width:0.05px">40</text>
<line x1="249.1" y1="354.86" x2="249.1" y2="356.66" stroke="#4a4a4a" stroke-width="0.7"/>
<line x1="272.15" y1="354.86" x2="272.15" y2="356.66" stroke="#4a4a4a" stroke-width="0.7"/>
<line x1="295.2" y1="354.86" x2="295.2" y2="356.66" stroke="#4a4a4a" stroke-width="0.7"/>
<line x1="318.25" y1="354.86" x2="318.25" y2="356.66" stroke="#4a4a4a" stroke-width="0.7"/>
<line x1="341.3" y1="354.86" x2="341.3" y2="356.66" stroke="#4a4a4a" stroke-width="0.7"/>
<line x1="364.35" y1="354.86" x2="364.35" y2="356.66" stroke="#4a4a4a" stroke-width="0.7"/>
<line x1="387.4" y1="354.86" x2="387.4" y2="356.66" stroke="#4a4a4a" stroke-width="0.7"/>
<text x="251.6" y="335.56" font-size="5.7" textLength="18.6" lengthAdjust="spacingAndGlyphs" style="stroke-width:0.24px">FBG 12</text>
<rect x="272.15" y="359.88" width="92.2" height="33.8" fill="#d3d3d3"/>
<path d="M253.25 388.44L253.99 388.19L254.72 388.29L255.46 388.38L256.2 388.15L256.94 388.19L257.67 388.28L258.41 388.31L259.15 388.36L259.89 388.21L260.62 388.27L261.36 388.13L262.1 388.49L262.84 388.3L263.58 388.18L264.31 388.36L265.05 388.11L265.79 388.32L266.53 388.31L267.26 388.39L268 388.12L268.74 388.3L269.48 388.39L270.21 387.98L270.95 388.46L271.69 388.24L272.43 387.99L273.16 388.26L273.9 387.54L274.64 387.5L275.38 387.6L276.11 387.33L276.85 386.95L277.59 386.84L278.33 387.05L279.06 386.32L279.8 386.5L280.54 386.01L281.28 385.63L282.02 385.92L282.75 385.65L283.49 385.67L284.23 385.04L284.97 384.74L285.7 384.79L286.44 384.77L287.18 384.67L287.92 384.98L288.65 384.31L289.39 384.38L290.13 384.3L290.87 384.07L291.6 383.67L292.34 383.67L293.08 383.66L293.82 383.58L294.55 383.48L295.29 383.54L296.03 383.42L296.77 383.03L297.5 383.02L298.24 382.59L298.98 382.37L299.72 382.79L300.46 382.3L301.19 382.28L301.93 382.44L302.67 381.83L303.41 381.37L304.14 382.19L304.88 381.6L305.62 381.58L306.36 381.14L307.09 381.53L307.83 381.16L308.57 381.3L309.31 380.7L310.04 380.83L310.78 380.62L311.52 380.65L312.26 380.53L312.99 380.27L313.73 380.45L314.47 379.84L315.21 380.29L315.94 379.6L316.68 380L317.42 379.6L318.16 379.84L318.9 379.33L319.63 379.18L320.37 379.28L321.11 379.07L321.85 378.57L322.58 378.29L323.32 378.71L324.06 378.35L324.8 378.24L325.53 378.08L326.27 378.07L327.01 377.95L327.75 377.68L328.48 377.57L329.22 377.47L329.96 377.08L330.7 377.3L331.43 377.2L332.17 377.15L332.91 377.06L333.65 376.32L334.38 376.34L335.12 376.55L335.86 376.07L336.6 375.99L337.34 376.18L338.07 376.19L338.81 375.49L339.55 376.15L340.29 375.05L341.02 374.94L341.76 375.44L342.5 374.95L343.24 375.15L343.97 374.83L344.71 374.97L345.45 374.28L346.19 374.4L346.92 374.03L347.66 374.01L348.4 373.68L349.14 374.08L349.87 373.04L350.61 373.64L351.35 373.27L352.09 373.44L352.82 372.89L353.56 373.01L354.3 372.57L355.04 372.75L355.78 372.76L356.51 372.43L357.25 372.53L357.99 372.16L358.73 371.79L359.46 371.84L360.2 371.66L360.94 371.6L361.68 371.76L362.41 371.19L363.15 371.14L363.89 370.95L364.63 371.05L365.36 370.33L366.1 370.46L366.84 370.78L367.58 370.6L368.31 370.89L369.05 370.42L369.79 370.41L370.53 370.48L371.26 370.36L372 370.47L372.74 370.23L373.48 370.18L374.22 370.35L374.95 370.51L375.69 370.1L376.43 370.21L377.17 370.18L377.9 370.17L378.64 370.1L379.38 369.69L380.12 369.69L380.85 369.85L381.59 369.71L382.33 369.55L383.07 369.66L383.8 369.61L384.54 369.86L385.28 369.56L386.02 369.5L386.75 369.35L387.49 369.57L388.23 369.02L388.97 369.42L389.71 369.5L390.44 369.58L391.18 368.69L391.92 368.73L392.66 368.98L393.39 368.98L394.13 368.79L394.87 369.16" fill="none" stroke="#878818" stroke-width="1.4" stroke-linejoin="round" stroke-opacity="0.9"/>
<line x1="253.25" y1="388.5" x2="395.24" y2="388.5" stroke="#111" stroke-width="1.15"/>
<line x1="253.25" y1="376.5" x2="395.24" y2="376.5" stroke="#111" stroke-width="1.15"/>
<path d="M253.25 388.26L253.99 388.18L254.72 388.06L255.46 388.31L256.2 388.29L256.94 388.32L257.67 388.13L258.41 388.24L259.15 388.27L259.89 388.25L260.62 388.14L261.36 388.15L262.1 388.33L262.84 388.36L263.58 388.19L264.31 388.3L265.05 388.2L265.79 388.23L266.53 388.2L267.26 388.18L268 388.26L268.74 388.37L269.48 388.29L270.21 388.18L270.95 388.14L271.69 388.04L272.43 388.09L273.16 387.97L273.9 387.83L274.64 387.98L275.38 387.96L276.11 387.64L276.85 388.02L277.59 387.6L278.33 387.45L279.06 387.71L279.8 387.41L280.54 387.74L281.28 386.99L282.02 387.5L282.75 387.13L283.49 386.93L284.23 386.81L284.97 387.09L285.7 386.8L286.44 386.88L287.18 386.39L287.92 386.56L288.65 386.45L289.39 386.63L290.13 386.54L290.87 386.61L291.6 386.65L292.34 385.93L293.08 385.76L293.82 386.4L294.55 385.98L295.29 385.78L296.03 385.66L296.77 385.54L297.5 385.64L298.24 385.38L298.98 385.48L299.72 385.05L300.46 385.51L301.19 384.95L301.93 384.67L302.67 385.3L303.41 384.98L304.14 384.74L304.88 384.45L305.62 384.75L306.36 384.52L307.09 384.76L307.83 383.81L308.57 384.32L309.31 383.71L310.04 384.26L310.78 383.93L311.52 384.09L312.26 384.09L312.99 383.91L313.73 383.59L314.47 383.64L315.21 383.6L315.94 383.48L316.68 382.88L317.42 383.35L318.16 382.94L318.9 382.94L319.63 383.03L320.37 382.64L321.11 382.72L321.85 382.92L322.58 382.93L323.32 382.29L324.06 382.47L324.8 382.45L325.53 382.52L326.27 381.65L327.01 381.91L327.75 381.82L328.48 381.7L329.22 381.47L329.96 381.3L330.7 381.25L331.43 381.47L332.17 381.2L332.91 381.13L333.65 380.97L334.38 380.84L335.12 380.69L335.86 380.3L336.6 380.75L337.34 380.53L338.07 380.24L338.81 380.33L339.55 380.16L340.29 380.08L341.02 380.18L341.76 379.68L342.5 379.75L343.24 379.93L343.97 379.28L344.71 379.55L345.45 379.18L346.19 379.38L346.92 379.23L347.66 378.94L348.4 378.94L349.14 378.93L349.87 378.88L350.61 378.49L351.35 378.64L352.09 378.17L352.82 378.38L353.56 378.14L354.3 378.14L355.04 377.92L355.78 377.97L356.51 377.8L357.25 377.69L357.99 377.35L358.73 377.34L359.46 377.3L360.2 377.39L360.94 377.03L361.68 377.24L362.41 377.05L363.15 377.06L363.89 377.08L364.63 377.06L365.36 377.01L366.1 376.87L366.84 377.03L367.58 376.65L368.31 376.6L369.05 377.06L369.79 376.98L370.53 376.92L371.26 376.88L372 377.12L372.74 377.03L373.48 377.39L374.22 377.14L374.95 376.9L375.69 377.13L376.43 377.23L377.17 377.15L377.9 376.72L378.64 377.17L379.38 376.53L380.12 376.98L380.85 377.09L381.59 377.16L382.33 376.79L383.07 377.3L383.8 377.21L384.54 376.75L385.28 376.78L386.02 377.14L386.75 377.05L387.49 376.9L388.23 377.04L388.97 377.13L389.71 376.96L390.44 376.89L391.18 376.79L391.92 377.29L392.66 376.94L393.39 376.83L394.13 377.13L394.87 376.78" fill="none" stroke="#e0303c" stroke-width="1.2" stroke-linejoin="round" stroke-opacity="0.6"/>
<rect x="246.5" y="359.88" width="154.7" height="33.8" fill="none" stroke="#4a4a4a" stroke-width="0.9"/>
<line x1="244.9" y1="388.25" x2="246.5" y2="388.25" stroke="#4a4a4a" stroke-width="0.7"/>
<text x="243.4" y="390.45" font-size="5.2" text-anchor="end" style="stroke-width:0.05px">0</text>
<line x1="244.9" y1="376.98" x2="246.5" y2="376.98" stroke="#4a4a4a" stroke-width="0.7"/>
<text x="243.4" y="379.18" font-size="5.2" text-anchor="end" style="stroke-width:0.05px">20</text>
<line x1="244.9" y1="365.71" x2="246.5" y2="365.71" stroke="#4a4a4a" stroke-width="0.7"/>
<text x="243.4" y="367.91" font-size="5.2" text-anchor="end" style="stroke-width:0.05px">40</text>
<line x1="249.1" y1="393.68" x2="249.1" y2="395.48" stroke="#4a4a4a" stroke-width="0.7"/>
<line x1="272.15" y1="393.68" x2="272.15" y2="395.48" stroke="#4a4a4a" stroke-width="0.7"/>
<line x1="295.2" y1="393.68" x2="295.2" y2="395.48" stroke="#4a4a4a" stroke-width="0.7"/>
<line x1="318.25" y1="393.68" x2="318.25" y2="395.48" stroke="#4a4a4a" stroke-width="0.7"/>
<line x1="341.3" y1="393.68" x2="341.3" y2="395.48" stroke="#4a4a4a" stroke-width="0.7"/>
<line x1="364.35" y1="393.68" x2="364.35" y2="395.48" stroke="#4a4a4a" stroke-width="0.7"/>
<line x1="387.4" y1="393.68" x2="387.4" y2="395.48" stroke="#4a4a4a" stroke-width="0.7"/>
<text x="251.6" y="374.38" font-size="5.7" textLength="18.6" lengthAdjust="spacingAndGlyphs" style="stroke-width:0.24px">FBG 13</text>
<rect x="272.15" y="398.7" width="92.2" height="33.8" fill="#d3d3d3"/>
<path d="M253.25 427.01L253.99 427.04L254.72 427.1L255.46 427.32L256.2 426.94L256.94 427.04L257.67 427.13L258.41 427.15L259.15 427.05L259.89 427.1L260.62 427.11L261.36 427.15L262.1 427.15L262.84 427.21L263.58 426.89L264.31 427.07L265.05 427.09L265.79 427.01L266.53 427.02L267.26 427.28L268 427.17L268.74 427.09L269.48 427.15L270.21 427.15L270.95 426.76L271.69 427.28L272.43 426.98L273.16 426.72L273.9 426.48L274.64 426.11L275.38 426.41L276.11 426.23L276.85 425.92L277.59 425.71L278.33 425.48L279.06 424.75L279.8 424.88L280.54 424.77L281.28 424.25L282.02 424.32L282.75 424.06L283.49 423.7L284.23 423.83L284.97 423.89L285.7 423.36L286.44 423.44L287.18 423.63L287.92 423.05L288.65 423.12L289.39 422.6L290.13 422.66L290.87 422.7L291.6 422.65L292.34 422.95L293.08 422.67L293.82 422.36L294.55 422.15L295.29 421.57L296.03 421.89L296.77 421.73L297.5 421.32L298.24 421.69L298.98 421.29L299.72 421.32L300.46 421.73L301.19 421.17L301.93 421.26L302.67 420.7L303.41 420.8L304.14 421.11L304.88 420.41L305.62 420.41L306.36 420.33L307.09 419.84L307.83 420.12L308.57 420.27L309.31 419.54L310.04 419.94L310.78 419.65L311.52 419.68L312.26 419.56L312.99 419L313.73 419.42L314.47 418.83L315.21 418.73L315.94 418.59L316.68 418.76L317.42 418.2L318.16 418.45L318.9 418.38L319.63 418.46L320.37 418.42L321.11 417.74L321.85 417.87L322.58 417.82L323.32 417.81L324.06 417.43L324.8 417.3L325.53 416.96L326.27 417.4L327.01 417.04L327.75 416.72L328.48 416.91L329.22 416.61L329.96 416.84L330.7 416.73L331.43 416.4L332.17 416.33L332.91 415.89L333.65 416.06L334.38 416.12L335.12 416.02L335.86 415.76L336.6 416.09L337.34 415.46L338.07 415.43L338.81 415.2L339.55 415.12L340.29 415.02L341.02 414.68L341.76 414.33L342.5 414.82L343.24 414.56L343.97 414.56L344.71 414.18L345.45 414.16L346.19 413.86L346.92 414.38L347.66 413.7L348.4 414.11L349.14 414.29L349.87 413.62L350.61 413.74L351.35 413.63L352.09 413.49L352.82 413.33L353.56 412.56L354.3 412.64L355.04 412.97L355.78 412.88L356.51 412.71L357.25 412.51L357.99 412.9L358.73 412.02L359.46 412.04L360.2 411.9L360.94 411.84L361.68 411.51L362.41 411.51L363.15 411.48L363.89 411.6L364.63 411.64L365.36 411.45L366.1 411.82L366.84 411.03L367.58 411.05L368.31 411.27L369.05 411.55L369.79 410.88L370.53 411.44L371.26 410.89L372 410.52L372.74 411.03L373.48 410.7L374.22 410.85L374.95 410.85L375.69 410.56L376.43 410.9L377.17 410.52L377.9 410.53L378.64 410.07L379.38 410.49L380.12 410.08L380.85 410.22L381.59 410.31L382.33 410.04L383.07 409.74L383.8 409.54L384.54 410.01L385.28 409.95L386.02 409.52L386.75 409.82L387.49 409.66L388.23 409.95L388.97 409.67L389.71 409.79L390.44 409.35L391.18 408.81L391.92 409.8L392.66 409.06L393.39 409.28L394.13 409.77L394.87 409.47" fill="none" stroke="#878818" stroke-width="1.4" stroke-linejoin="round" stroke-opacity="0.9"/>
<line x1="253.25" y1="427.5" x2="395.24" y2="427.5" stroke="#111" stroke-width="1.15"/>
<line x1="253.25" y1="415.5" x2="395.24" y2="415.5" stroke="#111" stroke-width="1.15"/>
<path d="M253.25 427.06L253.99 426.99L254.72 427.04L255.46 427.05L256.2 427.17L256.94 427.17L257.67 427.08L258.41 427.17L259.15 426.82L259.89 427.03L260.62 427.08L261.36 426.93L262.1 427.09L262.84 427.16L263.58 427.11L264.31 427.15L265.05 427.01L265.79 427.17L266.53 427.04L267.26 427.1L268 427.24L268.74 426.99L269.48 427.11L270.21 426.85L270.95 426.85L271.69 427.13L272.43 427.14L273.16 427.31L273.9 426.9L274.64 426.73L275.38 426.61L276.11 426.56L276.85 426.69L277.59 426.1L278.33 426.3L279.06 426.02L279.8 425.6L280.54 425.41L281.28 425.95L282.02 426.08L282.75 425.84L283.49 425.5L284.23 425.37L284.97 425.54L285.7 425.36L286.44 425.2L287.18 425.41L287.92 425.57L288.65 424.97L289.39 425.16L290.13 424.83L290.87 424.95L291.6 424.92L292.34 424.65L293.08 424.7L293.82 424.65L294.55 424.51L295.29 424.4L296.03 424.35L296.77 424.42L297.5 423.96L298.24 424.22L298.98 424.04L299.72 423.55L300.46 424.2L301.19 423.56L301.93 423.69L302.67 423.94L303.41 423.23L304.14 423.82L304.88 423.09L305.62 423.4L306.36 423.4L307.09 423.11L307.83 423.18L308.57 423.34L309.31 423.31L310.04 422.85L310.78 422.86L311.52 422.96L312.26 422.54L312.99 422.48L313.73 422.02L314.47 422.46L315.21 422.42L315.94 422.54L316.68 422.14L317.42 422.21L318.16 422.24L318.9 421.9L319.63 422.15L320.37 422.24L321.11 421.72L321.85 421.74L322.58 421.45L323.32 421.35L324.06 421.21L324.8 421.39L325.53 421.26L326.27 421.3L327.01 421.4L327.75 421.01L328.48 421.06L329.22 421.07L329.96 421.07L330.7 420.66L331.43 420.56L332.17 420.12L332.91 420.41L333.65 420.59L334.38 420.46L335.12 420.61L335.86 420.15L336.6 420.18L337.34 420.19L338.07 420.48L338.81 419.83L339.55 419.77L340.29 419.94L341.02 419.58L341.76 419.51L342.5 419.53L343.24 419.54L343.97 419.36L344.71 419.27L345.45 419.56L346.19 418.82L346.92 419.18L347.66 419.03L348.4 418.34L349.14 418.73L349.87 418.94L350.61 418.52L351.35 418.56L352.09 418.21L352.82 418.19L353.56 418.43L354.3 418.56L355.04 417.85L355.78 417.88L356.51 417.92L357.25 417.77L357.99 417.97L358.73 417.97L359.46 417.35L360.2 417.8L360.94 417.78L361.68 417.59L362.41 417.31L363.15 417.67L363.89 417.41L364.63 417.35L365.36 417.05L366.1 417.06L366.84 417.25L367.58 417.04L368.31 416.95L369.05 416.91L369.79 417.23L370.53 417.14L371.26 416.92L372 417.5L372.74 416.94L373.48 416.9L374.22 416.78L374.95 416.61L375.69 417.05L376.43 417.58L377.17 417.13L377.9 416.99L378.64 416.88L379.38 417.02L380.12 416.76L380.85 416.78L381.59 416.96L382.33 416.74L383.07 416.75L383.8 417.28L384.54 416.72L385.28 416.86L386.02 416.64L386.75 416.8L387.49 416.65L388.23 416.49L388.97 416.72L389.71 416.79L390.44 416.56L391.18 416.76L391.92 416.81L392.66 416.64L393.39 416.61L394.13 416.44L394.87 416.81" fill="none" stroke="#e0303c" stroke-width="1.2" stroke-linejoin="round" stroke-opacity="0.6"/>
<rect x="246.5" y="398.7" width="154.7" height="33.8" fill="none" stroke="#4a4a4a" stroke-width="0.9"/>
<line x1="244.9" y1="427.07" x2="246.5" y2="427.07" stroke="#4a4a4a" stroke-width="0.7"/>
<text x="243.4" y="429.27" font-size="5.2" text-anchor="end" style="stroke-width:0.05px">0</text>
<line x1="244.9" y1="415.8" x2="246.5" y2="415.8" stroke="#4a4a4a" stroke-width="0.7"/>
<text x="243.4" y="418" font-size="5.2" text-anchor="end" style="stroke-width:0.05px">20</text>
<line x1="244.9" y1="404.53" x2="246.5" y2="404.53" stroke="#4a4a4a" stroke-width="0.7"/>
<text x="243.4" y="406.73" font-size="5.2" text-anchor="end" style="stroke-width:0.05px">40</text>
<line x1="249.1" y1="432.5" x2="249.1" y2="434.3" stroke="#4a4a4a" stroke-width="0.7"/>
<line x1="272.15" y1="432.5" x2="272.15" y2="434.3" stroke="#4a4a4a" stroke-width="0.7"/>
<line x1="295.2" y1="432.5" x2="295.2" y2="434.3" stroke="#4a4a4a" stroke-width="0.7"/>
<line x1="318.25" y1="432.5" x2="318.25" y2="434.3" stroke="#4a4a4a" stroke-width="0.7"/>
<line x1="341.3" y1="432.5" x2="341.3" y2="434.3" stroke="#4a4a4a" stroke-width="0.7"/>
<line x1="364.35" y1="432.5" x2="364.35" y2="434.3" stroke="#4a4a4a" stroke-width="0.7"/>
<line x1="387.4" y1="432.5" x2="387.4" y2="434.3" stroke="#4a4a4a" stroke-width="0.7"/>
<text x="251.6" y="413.2" font-size="5.7" textLength="18.6" lengthAdjust="spacingAndGlyphs" style="stroke-width:0.24px">FBG 14</text>
<rect x="272.15" y="437.52" width="92.2" height="33.8" fill="#d3d3d3"/>
<path d="M253.25 465.91L253.99 465.87L254.72 465.92L255.46 465.88L256.2 465.69L256.94 466.11L257.67 465.91L258.41 465.75L259.15 465.7L259.89 465.6L260.62 465.73L261.36 465.69L262.1 465.72L262.84 465.71L263.58 465.65L264.31 465.8L265.05 465.69L265.79 465.69L266.53 465.6L267.26 465.66L268 465.74L268.74 465.78L269.48 465.62L270.21 465.61L270.95 465.27L271.69 465.7L272.43 465.74L273.16 465.58L273.9 465.51L274.64 465.43L275.38 465.42L276.11 465.24L276.85 465.51L277.59 465.41L278.33 465.13L279.06 464.83L279.8 464.93L280.54 464.73L281.28 464.75L282.02 464.82L282.75 464.31L283.49 464.32L284.23 464.44L284.97 464.92L285.7 464.2L286.44 464.29L287.18 464.14L287.92 464.03L288.65 463.93L289.39 464.2L290.13 463.83L290.87 464.04L291.6 464.07L292.34 463.94L293.08 463.79L293.82 463.73L294.55 463.48L295.29 463.56L296.03 463.24L296.77 463.6L297.5 463.49L298.24 463.4L298.98 463.12L299.72 462.86L300.46 463.11L301.19 463.12L301.93 462.71L302.67 463.01L303.41 462.97L304.14 462.17L304.88 463L305.62 462.92L306.36 462.75L307.09 462.67L307.83 462.22L308.57 462.69L309.31 462.18L310.04 462.11L310.78 462.52L311.52 462.39L312.26 461.7L312.99 462.37L313.73 461.99L314.47 461.79L315.21 461.89L315.94 461.66L316.68 461.54L317.42 461.71L318.16 461.72L318.9 461.36L319.63 461.44L320.37 461.13L321.11 461.25L321.85 461.19L322.58 460.62L323.32 461.21L324.06 461L324.8 460.75L325.53 461.06L326.27 460.86L327.01 460.81L327.75 460.75L328.48 460.2L329.22 460.72L329.96 460.54L330.7 460.25L331.43 459.79L332.17 460.49L332.91 460.12L333.65 460.04L334.38 460.26L335.12 459.77L335.86 459.92L336.6 460.16L337.34 459.97L338.07 460.06L338.81 459.59L339.55 459.62L340.29 459.54L341.02 459.42L341.76 459.72L342.5 459.13L343.24 459.11L343.97 459.13L344.71 459.1L345.45 458.94L346.19 459.07L346.92 458.74L347.66 458.78L348.4 458.68L349.14 458.72L349.87 458.43L350.61 458.63L351.35 458.42L352.09 457.98L352.82 458.37L353.56 458.41L354.3 457.92L355.04 457.81L355.78 457.65L356.51 457.71L357.25 458.25L357.99 457.69L358.73 457.56L359.46 457.7L360.2 457.34L360.94 457.91L361.68 457.12L362.41 457.73L363.15 457.1L363.89 457.18L364.63 457.44L365.36 456.86L366.1 456.95L366.84 456.39L367.58 456.88L368.31 456.83L369.05 456.83L369.79 456.8L370.53 456.38L371.26 456.65L372 456.61L372.74 456.78L373.48 456.3L374.22 456.61L374.95 455.75L375.69 456.43L376.43 456.09L377.17 455.83L377.9 456.49L378.64 455.98L379.38 456.14L380.12 455.8L380.85 456.04L381.59 455.79L382.33 455.55L383.07 455.58L383.8 455.97L384.54 455.54L385.28 455.79L386.02 455.88L386.75 455.32L387.49 455.2L388.23 455.2L388.97 455.28L389.71 455.62L390.44 455.3L391.18 455.31L391.92 454.86L392.66 454.69L393.39 454.76L394.13 454.89L394.87 454.95" fill="none" stroke="#878818" stroke-width="1.4" stroke-linejoin="round" stroke-opacity="0.9"/>
<line x1="253.25" y1="465.5" x2="395.24" y2="465.5" stroke="#111" stroke-width="1.15"/>
<path d="M253.25 466.1L253.99 465.96L254.72 465.92L255.46 465.87L256.2 465.88L256.94 465.76L257.67 465.96L258.41 465.74L259.15 465.83L259.89 465.85L260.62 465.71L261.36 465.79L262.1 465.81L262.84 465.79L263.58 465.86L264.31 465.86L265.05 465.77L265.79 465.88L266.53 465.9L267.26 465.94L268 465.92L268.74 465.75L269.48 465.67L270.21 465.7L270.95 465.94L271.69 465.88L272.43 465.66L273.16 465.89L273.9 465.52L274.64 465.34L275.38 465.95L276.11 465.64L276.85 465.31L277.59 465.72L278.33 465.84L279.06 465.77L279.8 465.75L280.54 465.37L281.28 465.99L282.02 465.7L282.75 465.84L283.49 465.71L284.23 465.65L284.97 465.5L285.7 465.33L286.44 465.43L287.18 465.23L287.92 465.65L288.65 465.63L289.39 465.52L290.13 465.61L290.87 465.45L291.6 465.54L292.34 465.26L293.08 465.27L293.82 465.18L294.55 465L295.29 465.82L296.03 464.91L296.77 465.08L297.5 465.32L298.24 465.07L298.98 465.28L299.72 465.45L300.46 465.59L301.19 465.28L301.93 465.5L302.67 465.46L303.41 465.29L304.14 465.08L304.88 465.22L305.62 465.2L306.36 465.19L307.09 465.29L307.83 465.06L308.57 465.08L309.31 465.42L310.04 465.29L310.78 465.2L311.52 465.05L312.26 465.12L312.99 465.1L313.73 464.74L314.47 465.23L315.21 464.61L315.94 464.71L316.68 464.93L317.42 464.93L318.16 465.56L318.9 465.05L319.63 465.12L320.37 465.14L321.11 464.98L321.85 464.66L322.58 464.99L323.32 465.28L324.06 464.89L324.8 464.61L325.53 464.98L326.27 464.89L327.01 464.97L327.75 465.02L328.48 464.81L329.22 465.01L329.96 464.54L330.7 464.72L331.43 465.11L332.17 464.83L332.91 465.07L333.65 464.7L334.38 464.67L335.12 464.48L335.86 464.73L336.6 465.15L337.34 464.38L338.07 464.75L338.81 464.75L339.55 464.64L340.29 464.69L341.02 464.79L341.76 464.59L342.5 464.54L343.24 465.1L343.97 464.9L344.71 464.58L345.45 464.59L346.19 464.54L346.92 464.71L347.66 464.25L348.4 464.47L349.14 464.46L349.87 464.65L350.61 464.48L351.35 464.78L352.09 464.62L352.82 464.38L353.56 464.48L354.3 464.57L355.04 464.18L355.78 464.77L356.51 464.04L357.25 464.55L357.99 464.03L358.73 464.54L359.46 464.43L360.2 464.16L360.94 464.42L361.68 464.11L362.41 464.28L363.15 464.35L363.89 464.18L364.63 463.89L365.36 464.21L366.1 464.16L366.84 464.41L367.58 464.24L368.31 464.29L369.05 464.16L369.79 464.12L370.53 464.3L371.26 464.16L372 464.38L372.74 464.04L373.48 463.88L374.22 464.1L374.95 463.92L375.69 463.62L376.43 463.66L377.17 463.98L377.9 463.64L378.64 463.46L379.38 463.84L380.12 463.84L380.85 463.51L381.59 463.61L382.33 463.68L383.07 464.14L383.8 463.3L384.54 463.78L385.28 463.43L386.02 463.77L386.75 463.35L387.49 463.76L388.23 463.62L388.97 463.52L389.71 464L390.44 463.34L391.18 463.42L391.92 463.7L392.66 463.6L393.39 463.72L394.13 463.42L394.87 463.07" fill="none" stroke="#e0303c" stroke-width="1.2" stroke-linejoin="round" stroke-opacity="0.6"/>
<rect x="246.5" y="437.52" width="154.7" height="33.8" fill="none" stroke="#4a4a4a" stroke-width="0.9"/>
<line x1="244.9" y1="465.89" x2="246.5" y2="465.89" stroke="#4a4a4a" stroke-width="0.7"/>
<text x="243.4" y="468.09" font-size="5.2" text-anchor="end" style="stroke-width:0.05px">0</text>
<line x1="244.9" y1="454.62" x2="246.5" y2="454.62" stroke="#4a4a4a" stroke-width="0.7"/>
<text x="243.4" y="456.82" font-size="5.2" text-anchor="end" style="stroke-width:0.05px">20</text>
<line x1="244.9" y1="443.35" x2="246.5" y2="443.35" stroke="#4a4a4a" stroke-width="0.7"/>
<text x="243.4" y="445.55" font-size="5.2" text-anchor="end" style="stroke-width:0.05px">40</text>
<line x1="249.1" y1="471.32" x2="249.1" y2="473.12" stroke="#4a4a4a" stroke-width="0.7"/>
<line x1="272.15" y1="471.32" x2="272.15" y2="473.12" stroke="#4a4a4a" stroke-width="0.7"/>
<line x1="295.2" y1="471.32" x2="295.2" y2="473.12" stroke="#4a4a4a" stroke-width="0.7"/>
<line x1="318.25" y1="471.32" x2="318.25" y2="473.12" stroke="#4a4a4a" stroke-width="0.7"/>
<line x1="341.3" y1="471.32" x2="341.3" y2="473.12" stroke="#4a4a4a" stroke-width="0.7"/>
<line x1="364.35" y1="471.32" x2="364.35" y2="473.12" stroke="#4a4a4a" stroke-width="0.7"/>
<line x1="387.4" y1="471.32" x2="387.4" y2="473.12" stroke="#4a4a4a" stroke-width="0.7"/>
<text x="251.6" y="452.02" font-size="5.7" textLength="18.6" lengthAdjust="spacingAndGlyphs" style="stroke-width:0.24px">FBG 15</text>
<rect x="272.15" y="476.34" width="92.2" height="33.8" fill="#d3d3d3"/>
<path d="M253.25 504.76L253.99 504.57L254.72 504.53L255.46 504.66L256.2 504.58L256.94 504.79L257.67 504.79L258.41 504.78L259.15 504.67L259.89 504.64L260.62 504.71L261.36 504.48L262.1 504.71L262.84 504.56L263.58 504.58L264.31 504.69L265.05 504.35L265.79 504.86L266.53 504.49L267.26 504.49L268 504.65L268.74 504.53L269.48 504.56L270.21 504.76L270.95 504.66L271.69 504.37L272.43 504.1L273.16 503.32L273.9 503.2L274.64 502.89L275.38 503.03L276.11 503.44L276.85 503.09L277.59 502.71L278.33 503.38L279.06 503.09L279.8 502.49L280.54 502.89L281.28 502.73L282.02 502.46L282.75 502.59L283.49 502.54L284.23 502.64L284.97 502.64L285.7 502.39L286.44 502.29L287.18 502.13L287.92 502.01L288.65 502.34L289.39 502.32L290.13 501.96L290.87 502.28L291.6 501.98L292.34 501.94L293.08 501.43L293.82 501.93L294.55 501.88L295.29 501.74L296.03 501.89L296.77 502L297.5 501.59L298.24 501.4L298.98 501.47L299.72 501.62L300.46 501.37L301.19 501.55L301.93 501.29L302.67 500.95L303.41 500.87L304.14 501.08L304.88 501.03L305.62 501.12L306.36 501.05L307.09 500.96L307.83 500.77L308.57 501.22L309.31 500.43L310.04 500.98L310.78 500.39L311.52 500.66L312.26 500.49L312.99 500.84L313.73 500.51L314.47 500.34L315.21 500.51L315.94 500.52L316.68 499.9L317.42 500.18L318.16 500.54L318.9 500.04L319.63 499.97L320.37 499.95L321.11 500.41L321.85 499.65L322.58 499.7L323.32 499.56L324.06 499.65L324.8 499.5L325.53 499.86L326.27 499.68L327.01 499.66L327.75 499.82L328.48 499.2L329.22 499.68L329.96 499.58L330.7 499.86L331.43 499.45L332.17 499.36L332.91 499.23L333.65 499.22L334.38 499.23L335.12 498.74L335.86 499.19L336.6 499.3L337.34 499.3L338.07 498.74L338.81 499.21L339.55 498.53L340.29 498.94L341.02 498.88L341.76 498.69L342.5 498.78L343.24 498.82L343.97 498.82L344.71 498.35L345.45 498.31L346.19 498.39L346.92 498.69L347.66 498.21L348.4 498.19L349.14 498.44L349.87 497.86L350.61 497.71L351.35 498.11L352.09 497.83L352.82 498.31L353.56 497.93L354.3 497.96L355.04 498.33L355.78 497.86L356.51 497.42L357.25 498.03L357.99 497.83L358.73 497.66L359.46 497.4L360.2 497.35L360.94 497.78L361.68 496.98L362.41 497.37L363.15 497.53L363.89 497.44L364.63 497.43L365.36 497.05L366.1 497.08L366.84 496.82L367.58 497.15L368.31 497.02L369.05 497.05L369.79 496.89L370.53 496.84L371.26 496.75L372 496.59L372.74 496.17L373.48 496.8L374.22 496.74L374.95 496.4L375.69 496.15L376.43 496.53L377.17 496.52L377.9 495.47L378.64 495.85L379.38 495.87L380.12 496.18L380.85 495.76L381.59 496.05L382.33 495.94L383.07 495.75L383.8 495.4L384.54 495.31L385.28 495.71L386.02 495.42L386.75 495.99L387.49 495.39L388.23 495.71L388.97 494.99L389.71 495.85L390.44 495.18L391.18 495.12L391.92 495.13L392.66 494.9L393.39 495.19L394.13 495.11L394.87 494.74" fill="none" stroke="#878818" stroke-width="1.4" stroke-linejoin="round" stroke-opacity="0.9"/>
<line x1="253.25" y1="504.5" x2="395.24" y2="504.5" stroke="#111" stroke-width="1.15"/>
<path d="M253.25 504.75L253.99 504.52L254.72 504.66L255.46 504.65L256.2 504.76L256.94 504.86L257.67 504.94L258.41 504.69L259.15 504.71L259.89 504.99L260.62 504.67L261.36 504.79L262.1 504.66L262.84 504.67L263.58 504.8L264.31 504.82L265.05 504.65L265.79 504.67L266.53 504.78L267.26 504.73L268 504.75L268.74 504.69L269.48 504.66L270.21 504.83L270.95 504.67L271.69 505.05L272.43 504.78L273.16 504.66L273.9 504.79L274.64 504.8L275.38 504.82L276.11 504.88L276.85 504.73L277.59 504.71L278.33 504.65L279.06 504.83L279.8 504.91L280.54 505.01L281.28 504.57L282.02 504.65L282.75 505.13L283.49 504.63L284.23 504.62L284.97 504.88L285.7 504.45L286.44 504.74L287.18 504.97L287.92 504.84L288.65 504.59L289.39 505.06L290.13 504.77L290.87 504.65L291.6 504.77L292.34 504.53L293.08 504.64L293.82 504.95L294.55 504.52L295.29 505.02L296.03 504.43L296.77 504.58L297.5 504.89L298.24 504.73L298.98 504.51L299.72 504.99L300.46 504.79L301.19 504.94L301.93 504.43L302.67 504.53L303.41 504.35L304.14 504.74L304.88 504.72L305.62 504.63L306.36 504.79L307.09 504.48L307.83 504.64L308.57 504.54L309.31 504.76L310.04 504.75L310.78 504.45L311.52 504.58L312.26 504.82L312.99 504.5L313.73 504.78L314.47 504.81L315.21 504.51L315.94 504.62L316.68 504.78L317.42 504.72L318.16 504.37L318.9 504.62L319.63 505.05L320.37 504.82L321.11 504.45L321.85 504.57L322.58 504.65L323.32 504.56L324.06 504.83L324.8 504.62L325.53 504.63L326.27 504.52L327.01 504.54L327.75 504.77L328.48 504.39L329.22 504.74L329.96 504.78L330.7 504.7L331.43 504.88L332.17 505.01L332.91 504.55L333.65 504.55L334.38 504.81L335.12 504.91L335.86 504.82L336.6 504.78L337.34 504.58L338.07 504.46L338.81 504.58L339.55 504.61L340.29 504.45L341.02 504.5L341.76 504.6L342.5 504.46L343.24 504.63L343.97 504.62L344.71 504.6L345.45 504.3L346.19 504.88L346.92 504.65L347.66 504.57L348.4 504.37L349.14 504.35L349.87 504.53L350.61 504.46L351.35 504.7L352.09 505L352.82 504.35L353.56 504.59L354.3 504.37L355.04 504.67L355.78 504.88L356.51 504.58L357.25 504.61L357.99 504.77L358.73 504.95L359.46 504.66L360.2 504.74L360.94 504.6L361.68 504.47L362.41 504.82L363.15 504.51L363.89 504.34L364.63 504.42L365.36 504.41L366.1 504.62L366.84 504.62L367.58 504.63L368.31 504.59L369.05 504.56L369.79 504.64L370.53 504.56L371.26 504.55L372 504.74L372.74 504.69L373.48 504.82L374.22 504.19L374.95 504.26L375.69 504.53L376.43 504.59L377.17 504.88L377.9 504.97L378.64 504.57L379.38 504.38L380.12 504.42L380.85 504.66L381.59 505.06L382.33 504.31L383.07 504.26L383.8 504.48L384.54 504.64L385.28 504.64L386.02 504.72L386.75 504.37L387.49 504.67L388.23 504.62L388.97 504.63L389.71 504.53L390.44 504.38L391.18 504.24L391.92 504.71L392.66 504.57L393.39 504.73L394.13 504.58L394.87 504.75" fill="none" stroke="#e0303c" stroke-width="1.2" stroke-linejoin="round" stroke-opacity="0.6"/>
<rect x="246.5" y="476.34" width="154.7" height="33.8" fill="none" stroke="#4a4a4a" stroke-width="0.9"/>
<line x1="244.9" y1="504.71" x2="246.5" y2="504.71" stroke="#4a4a4a" stroke-width="0.7"/>
<text x="243.4" y="506.91" font-size="5.2" text-anchor="end" style="stroke-width:0.05px">0</text>
<line x1="244.9" y1="493.44" x2="246.5" y2="493.44" stroke="#4a4a4a" stroke-width="0.7"/>
<text x="243.4" y="495.64" font-size="5.2" text-anchor="end" style="stroke-width:0.05px">20</text>
<line x1="244.9" y1="482.17" x2="246.5" y2="482.17" stroke="#4a4a4a" stroke-width="0.7"/>
<text x="243.4" y="484.37" font-size="5.2" text-anchor="end" style="stroke-width:0.05px">40</text>
<line x1="249.1" y1="510.14" x2="249.1" y2="511.94" stroke="#4a4a4a" stroke-width="0.7"/>
<line x1="272.15" y1="510.14" x2="272.15" y2="511.94" stroke="#4a4a4a" stroke-width="0.7"/>
<line x1="295.2" y1="510.14" x2="295.2" y2="511.94" stroke="#4a4a4a" stroke-width="0.7"/>
<line x1="318.25" y1="510.14" x2="318.25" y2="511.94" stroke="#4a4a4a" stroke-width="0.7"/>
<line x1="341.3" y1="510.14" x2="341.3" y2="511.94" stroke="#4a4a4a" stroke-width="0.7"/>
<line x1="364.35" y1="510.14" x2="364.35" y2="511.94" stroke="#4a4a4a" stroke-width="0.7"/>
<line x1="387.4" y1="510.14" x2="387.4" y2="511.94" stroke="#4a4a4a" stroke-width="0.7"/>
<text x="251.6" y="490.84" font-size="5.7" textLength="18.6" lengthAdjust="spacingAndGlyphs" style="stroke-width:0.24px">FBG 16</text>
<text x="249.1" y="518.24" font-size="5.1" text-anchor="middle" style="stroke-width:0.05px">0</text>
<text x="272.15" y="518.24" font-size="5.1" text-anchor="middle" style="stroke-width:0.05px">50</text>
<text x="295.2" y="518.24" font-size="5.1" text-anchor="middle" style="stroke-width:0.05px">100</text>
<text x="318.25" y="518.24" font-size="5.1" text-anchor="middle" style="stroke-width:0.05px">150</text>
<text x="341.3" y="518.24" font-size="5.1" text-anchor="middle" style="stroke-width:0.05px">200</text>
<text x="364.35" y="518.24" font-size="5.1" text-anchor="middle" style="stroke-width:0.05px">250</text>
<text x="387.4" y="518.24" font-size="5.1" text-anchor="middle" style="stroke-width:0.05px">300</text>
<text x="324.25" y="524.7" font-size="6.4" text-anchor="middle" textLength="24.6" lengthAdjust="spacingAndGlyphs" style="stroke-width:0.2px">Time [s]</text>
<text x="323.85" y="7.9" font-size="6.5" text-anchor="middle" textLength="28.8" lengthAdjust="spacingAndGlyphs" style="stroke-width:0.05px">Irradiation</text>
<text transform="translate(232.1,260.3) rotate(-90)" font-size="6.4" text-anchor="middle" textLength="29.8" lengthAdjust="spacingAndGlyphs">Dose [Gy]</text>
<rect x="359.5" y="12.1" width="40.6" height="15.9" rx="1" fill="#fff" fill-opacity="0.85" stroke="#dcdcdc" stroke-width="0.6"/>
<line x1="360.9" y1="16.9" x2="371" y2="16.9" stroke="#a8a838" stroke-width="1.3"/>
<line x1="360.9" y1="23.6" x2="371" y2="23.6" stroke="#e8707c" stroke-width="1.3"/>
<text x="374.6" y="18.5" font-size="5" textLength="9.6" lengthAdjust="spacingAndGlyphs" style="stroke-width:0.14px">Raw</text>
<text x="374.6" y="25.4" font-size="5" textLength="22.6" lengthAdjust="spacingAndGlyphs" style="stroke-width:0.14px">Corrected</text>
<text x="101.9" y="545.4" font-size="8.8" text-anchor="middle" style="font-family:'Liberation Serif',serif;stroke-width:0.05px">(<tspan font-weight="bold" font-size="9.8" style="stroke-width:0.12px">a</tspan>)</text>
<text x="315.3" y="545.4" font-size="8.8" text-anchor="middle" style="font-family:'Liberation Serif',serif;stroke-width:0.05px">(<tspan font-weight="bold" font-size="9.8" style="stroke-width:0.12px">b</tspan>)</text>
</svg>
</body></html>
